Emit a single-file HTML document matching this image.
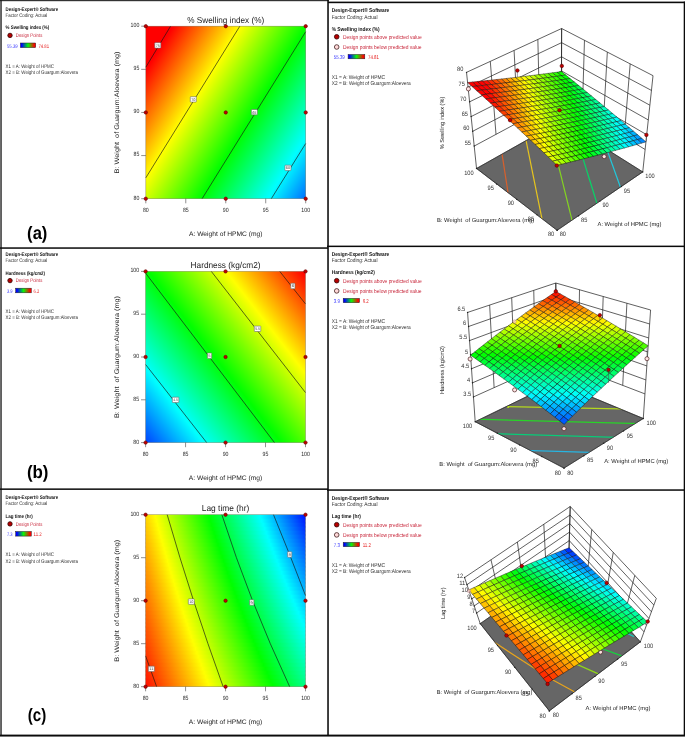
<!DOCTYPE html>
<html lang="en"><head><meta charset="utf-8"><title>Response surface plots</title>
<style>html,body{margin:0;padding:0;background:#fff}svg{display:block}</style></head>
<body>
<svg width="685" height="737" viewBox="0 0 685 737" font-family='"Liberation Sans", sans-serif' text-rendering="geometricPrecision"><defs><linearGradient id="cb1" x1="0" y1="0" x2="1" y2="0"><stop offset="0.08" stop-color="#0000ff"/><stop offset="0.5" stop-color="#08f808"/><stop offset="0.92" stop-color="#ff0000"/></linearGradient><linearGradient id="lg2" gradientUnits="userSpaceOnUse" x1="359.91" y1="158.4" x2="165.43" y2="38.32"><stop offset="0" stop-color="#0000ff"/><stop offset="0.25" stop-color="#00ffff"/><stop offset="0.5" stop-color="#00ff00"/><stop offset="0.75" stop-color="#ffff00"/><stop offset="1" stop-color="#ff0000"/></linearGradient><linearGradient id="cb3" x1="0" y1="0" x2="1" y2="0"><stop offset="0.08" stop-color="#0000ff"/><stop offset="0.5" stop-color="#08f808"/><stop offset="0.92" stop-color="#ff0000"/></linearGradient><linearGradient id="lg4" gradientUnits="userSpaceOnUse" x1="50" y1="345.56" x2="244.59" y2="194.62"><stop offset="0" stop-color="#0000ff"/><stop offset="0.25" stop-color="#00ffff"/><stop offset="0.5" stop-color="#00ff00"/><stop offset="0.75" stop-color="#ffff00"/><stop offset="1" stop-color="#ff0000"/></linearGradient><linearGradient id="cb5" x1="0" y1="0" x2="1" y2="0"><stop offset="0.08" stop-color="#0000ff"/><stop offset="0.5" stop-color="#08f808"/><stop offset="0.92" stop-color="#ff0000"/></linearGradient><linearGradient id="s6" x1="0" y1="0" x2="1" y2="0"><stop offset="0%" stop-color="#ffd200"/><stop offset="6.13%" stop-color="#ffff00"/><stop offset="39.65%" stop-color="#00ff00"/><stop offset="71.79%" stop-color="#00ffff"/><stop offset="100%" stop-color="#0017ff"/></linearGradient><linearGradient id="s7" x1="0" y1="0" x2="1" y2="0"><stop offset="0%" stop-color="#ffcd00"/><stop offset="6.79%" stop-color="#ffff00"/><stop offset="40.44%" stop-color="#00ff00"/><stop offset="72.69%" stop-color="#00ffff"/><stop offset="100%" stop-color="#001fff"/></linearGradient><linearGradient id="s8" x1="0" y1="0" x2="1" y2="0"><stop offset="0%" stop-color="#ffc800"/><stop offset="7.45%" stop-color="#ffff00"/><stop offset="41.23%" stop-color="#00ff00"/><stop offset="73.61%" stop-color="#00ffff"/><stop offset="100%" stop-color="#0027ff"/></linearGradient><linearGradient id="s9" x1="0" y1="0" x2="1" y2="0"><stop offset="0%" stop-color="#ffc400"/><stop offset="8.12%" stop-color="#ffff00"/><stop offset="42.03%" stop-color="#00ff00"/><stop offset="74.53%" stop-color="#00ffff"/><stop offset="100%" stop-color="#0030ff"/></linearGradient><linearGradient id="s10" x1="0" y1="0" x2="1" y2="0"><stop offset="0%" stop-color="#ffbf00"/><stop offset="8.79%" stop-color="#ffff00"/><stop offset="42.84%" stop-color="#00ff00"/><stop offset="75.46%" stop-color="#00ffff"/><stop offset="100%" stop-color="#0038ff"/></linearGradient><linearGradient id="s11" x1="0" y1="0" x2="1" y2="0"><stop offset="0%" stop-color="#ffba00"/><stop offset="9.47%" stop-color="#ffff00"/><stop offset="43.66%" stop-color="#00ff00"/><stop offset="76.39%" stop-color="#00ffff"/><stop offset="100%" stop-color="#0041ff"/></linearGradient><linearGradient id="s12" x1="0" y1="0" x2="1" y2="0"><stop offset="0%" stop-color="#ffb600"/><stop offset="10.16%" stop-color="#ffff00"/><stop offset="44.48%" stop-color="#00ff00"/><stop offset="77.33%" stop-color="#00ffff"/><stop offset="100%" stop-color="#0049ff"/></linearGradient><linearGradient id="s13" x1="0" y1="0" x2="1" y2="0"><stop offset="0%" stop-color="#ffb100"/><stop offset="10.85%" stop-color="#ffff00"/><stop offset="45.31%" stop-color="#00ff00"/><stop offset="78.28%" stop-color="#00ffff"/><stop offset="100%" stop-color="#0051ff"/></linearGradient><linearGradient id="s14" x1="0" y1="0" x2="1" y2="0"><stop offset="0%" stop-color="#ffad00"/><stop offset="11.55%" stop-color="#ffff00"/><stop offset="46.15%" stop-color="#00ff00"/><stop offset="79.24%" stop-color="#00ffff"/><stop offset="100%" stop-color="#005aff"/></linearGradient><linearGradient id="s15" x1="0" y1="0" x2="1" y2="0"><stop offset="0%" stop-color="#ffa800"/><stop offset="12.25%" stop-color="#ffff00"/><stop offset="46.99%" stop-color="#00ff00"/><stop offset="80.21%" stop-color="#00ffff"/><stop offset="100%" stop-color="#0062ff"/></linearGradient><linearGradient id="s16" x1="0" y1="0" x2="1" y2="0"><stop offset="0%" stop-color="#ffa300"/><stop offset="12.96%" stop-color="#ffff00"/><stop offset="47.84%" stop-color="#00ff00"/><stop offset="81.18%" stop-color="#00ffff"/><stop offset="100%" stop-color="#006aff"/></linearGradient><linearGradient id="s17" x1="0" y1="0" x2="1" y2="0"><stop offset="0%" stop-color="#ff9f00"/><stop offset="13.68%" stop-color="#ffff00"/><stop offset="48.7%" stop-color="#00ff00"/><stop offset="82.16%" stop-color="#00ffff"/><stop offset="100%" stop-color="#0073ff"/></linearGradient><linearGradient id="s18" x1="0" y1="0" x2="1" y2="0"><stop offset="0%" stop-color="#ff9a00"/><stop offset="14.4%" stop-color="#ffff00"/><stop offset="49.56%" stop-color="#00ff00"/><stop offset="83.15%" stop-color="#00ffff"/><stop offset="100%" stop-color="#007bff"/></linearGradient><linearGradient id="s19" x1="0" y1="0" x2="1" y2="0"><stop offset="0%" stop-color="#ff9600"/><stop offset="15.13%" stop-color="#ffff00"/><stop offset="50.43%" stop-color="#00ff00"/><stop offset="84.14%" stop-color="#00ffff"/><stop offset="100%" stop-color="#0083ff"/></linearGradient><linearGradient id="s20" x1="0" y1="0" x2="1" y2="0"><stop offset="0%" stop-color="#ff9100"/><stop offset="15.86%" stop-color="#ffff00"/><stop offset="51.31%" stop-color="#00ff00"/><stop offset="85.15%" stop-color="#00ffff"/><stop offset="100%" stop-color="#008bff"/></linearGradient><linearGradient id="s21" x1="0" y1="0" x2="1" y2="0"><stop offset="0%" stop-color="#ff8c00"/><stop offset="16.6%" stop-color="#ffff00"/><stop offset="52.2%" stop-color="#00ff00"/><stop offset="86.16%" stop-color="#00ffff"/><stop offset="100%" stop-color="#0094ff"/></linearGradient><linearGradient id="s22" x1="0" y1="0" x2="1" y2="0"><stop offset="0%" stop-color="#ff8800"/><stop offset="17.35%" stop-color="#ffff00"/><stop offset="53.09%" stop-color="#00ff00"/><stop offset="87.18%" stop-color="#00ffff"/><stop offset="100%" stop-color="#009cff"/></linearGradient><linearGradient id="s23" x1="0" y1="0" x2="1" y2="0"><stop offset="0%" stop-color="#ff8300"/><stop offset="18.11%" stop-color="#ffff00"/><stop offset="53.99%" stop-color="#00ff00"/><stop offset="88.2%" stop-color="#00ffff"/><stop offset="100%" stop-color="#00a4ff"/></linearGradient><linearGradient id="s24" x1="0" y1="0" x2="1" y2="0"><stop offset="0%" stop-color="#ff7f00"/><stop offset="18.87%" stop-color="#ffff00"/><stop offset="54.9%" stop-color="#00ff00"/><stop offset="89.24%" stop-color="#00ffff"/><stop offset="100%" stop-color="#00adff"/></linearGradient><linearGradient id="s25" x1="0" y1="0" x2="1" y2="0"><stop offset="0%" stop-color="#ff7a00"/><stop offset="19.64%" stop-color="#ffff00"/><stop offset="55.82%" stop-color="#00ff00"/><stop offset="90.28%" stop-color="#00ffff"/><stop offset="100%" stop-color="#00b5ff"/></linearGradient><linearGradient id="s26" x1="0" y1="0" x2="1" y2="0"><stop offset="0%" stop-color="#ff7500"/><stop offset="20.41%" stop-color="#ffff00"/><stop offset="56.74%" stop-color="#00ff00"/><stop offset="91.34%" stop-color="#00ffff"/><stop offset="100%" stop-color="#00bdff"/></linearGradient><linearGradient id="s27" x1="0" y1="0" x2="1" y2="0"><stop offset="0%" stop-color="#ff7100"/><stop offset="21.2%" stop-color="#ffff00"/><stop offset="57.67%" stop-color="#00ff00"/><stop offset="92.4%" stop-color="#00ffff"/><stop offset="100%" stop-color="#00c6ff"/></linearGradient><linearGradient id="s28" x1="0" y1="0" x2="1" y2="0"><stop offset="0%" stop-color="#ff6c00"/><stop offset="21.99%" stop-color="#ffff00"/><stop offset="58.61%" stop-color="#00ff00"/><stop offset="93.47%" stop-color="#00ffff"/><stop offset="100%" stop-color="#00ceff"/></linearGradient><linearGradient id="s29" x1="0" y1="0" x2="1" y2="0"><stop offset="0%" stop-color="#ff6800"/><stop offset="22.78%" stop-color="#ffff00"/><stop offset="59.56%" stop-color="#00ff00"/><stop offset="94.55%" stop-color="#00ffff"/><stop offset="100%" stop-color="#00d6ff"/></linearGradient><linearGradient id="s30" x1="0" y1="0" x2="1" y2="0"><stop offset="0%" stop-color="#ff6300"/><stop offset="23.59%" stop-color="#ffff00"/><stop offset="60.52%" stop-color="#00ff00"/><stop offset="95.63%" stop-color="#00ffff"/><stop offset="100%" stop-color="#00deff"/></linearGradient><linearGradient id="s31" x1="0" y1="0" x2="1" y2="0"><stop offset="0%" stop-color="#ff5f00"/><stop offset="24.4%" stop-color="#ffff00"/><stop offset="61.48%" stop-color="#00ff00"/><stop offset="96.73%" stop-color="#00ffff"/><stop offset="100%" stop-color="#00e7ff"/></linearGradient><linearGradient id="s32" x1="0" y1="0" x2="1" y2="0"><stop offset="0%" stop-color="#ff5a00"/><stop offset="25.22%" stop-color="#ffff00"/><stop offset="62.46%" stop-color="#00ff00"/><stop offset="97.84%" stop-color="#00ffff"/><stop offset="100%" stop-color="#00efff"/></linearGradient><linearGradient id="s33" x1="0" y1="0" x2="1" y2="0"><stop offset="0%" stop-color="#ff5600"/><stop offset="26.05%" stop-color="#ffff00"/><stop offset="63.44%" stop-color="#00ff00"/><stop offset="98.95%" stop-color="#00ffff"/><stop offset="100%" stop-color="#00f7ff"/></linearGradient><linearGradient id="s34" x1="0" y1="0" x2="1" y2="0"><stop offset="0%" stop-color="#ff5100"/><stop offset="26.88%" stop-color="#ffff00"/><stop offset="64.43%" stop-color="#00ff00"/><stop offset="100%" stop-color="#00fffe"/></linearGradient><linearGradient id="s35" x1="0" y1="0" x2="1" y2="0"><stop offset="0%" stop-color="#ff4c00"/><stop offset="27.73%" stop-color="#ffff00"/><stop offset="65.43%" stop-color="#00ff00"/><stop offset="100%" stop-color="#00fff6"/></linearGradient><linearGradient id="s36" x1="0" y1="0" x2="1" y2="0"><stop offset="0%" stop-color="#ff4800"/><stop offset="28.58%" stop-color="#ffff00"/><stop offset="66.44%" stop-color="#00ff00"/><stop offset="100%" stop-color="#00ffee"/></linearGradient><linearGradient id="s37" x1="0" y1="0" x2="1" y2="0"><stop offset="0%" stop-color="#ff4300"/><stop offset="29.44%" stop-color="#ffff00"/><stop offset="67.45%" stop-color="#00ff00"/><stop offset="100%" stop-color="#00ffe6"/></linearGradient><linearGradient id="s38" x1="0" y1="0" x2="1" y2="0"><stop offset="0%" stop-color="#ff3f00"/><stop offset="30.31%" stop-color="#ffff00"/><stop offset="68.48%" stop-color="#00ff00"/><stop offset="100%" stop-color="#00ffdd"/></linearGradient><linearGradient id="s39" x1="0" y1="0" x2="1" y2="0"><stop offset="0%" stop-color="#ff3a00"/><stop offset="31.18%" stop-color="#ffff00"/><stop offset="69.51%" stop-color="#00ff00"/><stop offset="100%" stop-color="#00ffd5"/></linearGradient><linearGradient id="s40" x1="0" y1="0" x2="1" y2="0"><stop offset="0%" stop-color="#ff3600"/><stop offset="32.07%" stop-color="#ffff00"/><stop offset="70.56%" stop-color="#00ff00"/><stop offset="100%" stop-color="#00ffcd"/></linearGradient><linearGradient id="s41" x1="0" y1="0" x2="1" y2="0"><stop offset="0%" stop-color="#ff3100"/><stop offset="32.96%" stop-color="#ffff00"/><stop offset="71.61%" stop-color="#00ff00"/><stop offset="100%" stop-color="#00ffc5"/></linearGradient><linearGradient id="s42" x1="0" y1="0" x2="1" y2="0"><stop offset="0%" stop-color="#ff2d00"/><stop offset="33.86%" stop-color="#ffff00"/><stop offset="72.68%" stop-color="#00ff00"/><stop offset="100%" stop-color="#00ffbc"/></linearGradient><linearGradient id="s43" x1="0" y1="0" x2="1" y2="0"><stop offset="0%" stop-color="#ff2800"/><stop offset="34.77%" stop-color="#ffff00"/><stop offset="73.75%" stop-color="#00ff00"/><stop offset="100%" stop-color="#00ffb4"/></linearGradient><linearGradient id="s44" x1="0" y1="0" x2="1" y2="0"><stop offset="0%" stop-color="#ff2400"/><stop offset="35.69%" stop-color="#ffff00"/><stop offset="74.83%" stop-color="#00ff00"/><stop offset="100%" stop-color="#00ffac"/></linearGradient><linearGradient id="s45" x1="0" y1="0" x2="1" y2="0"><stop offset="0%" stop-color="#ff1f00"/><stop offset="36.62%" stop-color="#ffff00"/><stop offset="75.92%" stop-color="#00ff00"/><stop offset="100%" stop-color="#00ffa4"/></linearGradient><linearGradient id="s46" x1="0" y1="0" x2="1" y2="0"><stop offset="0%" stop-color="#ff1b00"/><stop offset="37.56%" stop-color="#ffff00"/><stop offset="77.03%" stop-color="#00ff00"/><stop offset="100%" stop-color="#00ff9c"/></linearGradient><linearGradient id="s47" x1="0" y1="0" x2="1" y2="0"><stop offset="0%" stop-color="#ff1600"/><stop offset="38.5%" stop-color="#ffff00"/><stop offset="78.14%" stop-color="#00ff00"/><stop offset="100%" stop-color="#00ff93"/></linearGradient><linearGradient id="s48" x1="0" y1="0" x2="1" y2="0"><stop offset="0%" stop-color="#ff1200"/><stop offset="39.46%" stop-color="#ffff00"/><stop offset="79.26%" stop-color="#00ff00"/><stop offset="100%" stop-color="#00ff8b"/></linearGradient><linearGradient id="cb49" x1="0" y1="0" x2="1" y2="0"><stop offset="0.08" stop-color="#0000ff"/><stop offset="0.5" stop-color="#08f808"/><stop offset="0.92" stop-color="#ff0000"/></linearGradient><linearGradient id="cb50" x1="0" y1="0" x2="1" y2="0"><stop offset="0.08" stop-color="#0000ff"/><stop offset="0.5" stop-color="#08f808"/><stop offset="0.92" stop-color="#ff0000"/></linearGradient><linearGradient id="cb51" x1="0" y1="0" x2="1" y2="0"><stop offset="0.08" stop-color="#0000ff"/><stop offset="0.5" stop-color="#08f808"/><stop offset="0.92" stop-color="#ff0000"/></linearGradient><clipPath id="fc52"><polygon points="476.54,168.48 557.14,230.3 642.74,171.91 561.34,120.71"/></clipPath><clipPath id="fc53"><polygon points="475.19,421.69 564.01,468.1 643.29,418.51 556.15,382.33"/></clipPath><clipPath id="fc54"><polygon points="480.22,623.63 549.33,710.89 640.35,641.88 568.69,561.94"/></clipPath></defs>
<text x="5.6" y="10.8" font-size="5.2" fill="#111" font-weight="bold" textLength="52.5" lengthAdjust="spacingAndGlyphs">Design-Expert® Software</text>
<text x="5.6" y="16.9" font-size="5.2" fill="#333" textLength="41.7" lengthAdjust="spacingAndGlyphs">Factor Coding: Actual</text>
<text x="5.6" y="29.3" font-size="5.2" fill="#111" font-weight="bold" textLength="43.6" lengthAdjust="spacingAndGlyphs">% Swelling index (%)</text>
<circle cx="10" cy="35.4" r="2.2" fill="#b80000" stroke="#300000" stroke-width="0.8"/>
<text x="15.8" y="37.2" font-size="5.2" fill="#c8283c" textLength="26.5" lengthAdjust="spacingAndGlyphs">Design Points</text>
<text x="7" y="47.5" font-size="5.2" fill="#3535ff" textLength="10.6" lengthAdjust="spacingAndGlyphs">55.39</text>
<rect x="20.4" y="43" width="15.3" height="4.6" fill="url(#cb1)" stroke="#202020" stroke-width="0.5"/>
<text x="38.4" y="47.5" font-size="5.2" fill="#e62020" textLength="10.6" lengthAdjust="spacingAndGlyphs">74.81</text>
<text x="5.6" y="67.9" font-size="5.2" fill="#333" textLength="48.4" lengthAdjust="spacingAndGlyphs">X1 = A: Weight of HPMC</text>
<text x="5.6" y="74.2" font-size="5.2" fill="#333" textLength="72.4" lengthAdjust="spacingAndGlyphs">X2 = B: Weight of Guargum:Aloevera</text>
<rect x="145.8" y="26.2" width="159.9" height="172.5" fill="url(#lg2)"/>
<g fill="none" stroke="#151515" stroke-width="0.65" stroke-linecap="butt">
<path d="M145.8 67.25L170.58 26.2"/>
<path d="M145.8 177.83L239.82 26.2"/>
<path d="M202.08 198.7L305.7 31.72"/>
<path d="M271.32 198.7L305.7 143.5"/>
</g>
<rect x="145.8" y="26.2" width="159.9" height="172.5" fill="none" stroke="#5a5030" stroke-opacity="0.55" stroke-width="0.6"/>
<line x1="141.2" y1="26.2" x2="145.8" y2="26.2" stroke="#333" stroke-width="0.55"/>
<text x="139.3" y="27.1" font-size="6.1" fill="#262626" text-anchor="end" textLength="8.7" lengthAdjust="spacingAndGlyphs">100</text>
<line x1="145.8" y1="198.7" x2="145.8" y2="203.3" stroke="#333" stroke-width="0.55"/>
<text x="145.8" y="212.3" font-size="6.1" fill="#262626" text-anchor="middle" textLength="5.8" lengthAdjust="spacingAndGlyphs">80</text>
<line x1="141.2" y1="69.33" x2="145.8" y2="69.33" stroke="#333" stroke-width="0.55"/>
<text x="139.3" y="70.23" font-size="6.1" fill="#262626" text-anchor="end" textLength="5.8" lengthAdjust="spacingAndGlyphs">95</text>
<line x1="185.78" y1="198.7" x2="185.78" y2="203.3" stroke="#333" stroke-width="0.55"/>
<text x="185.78" y="212.3" font-size="6.1" fill="#262626" text-anchor="middle" textLength="5.8" lengthAdjust="spacingAndGlyphs">85</text>
<line x1="141.2" y1="112.45" x2="145.8" y2="112.45" stroke="#333" stroke-width="0.55"/>
<text x="139.3" y="113.35" font-size="6.1" fill="#262626" text-anchor="end" textLength="5.8" lengthAdjust="spacingAndGlyphs">90</text>
<line x1="225.75" y1="198.7" x2="225.75" y2="203.3" stroke="#333" stroke-width="0.55"/>
<text x="225.75" y="212.3" font-size="6.1" fill="#262626" text-anchor="middle" textLength="5.8" lengthAdjust="spacingAndGlyphs">90</text>
<line x1="141.2" y1="155.57" x2="145.8" y2="155.57" stroke="#333" stroke-width="0.55"/>
<text x="139.3" y="156.47" font-size="6.1" fill="#262626" text-anchor="end" textLength="5.8" lengthAdjust="spacingAndGlyphs">85</text>
<line x1="265.73" y1="198.7" x2="265.73" y2="203.3" stroke="#333" stroke-width="0.55"/>
<text x="265.73" y="212.3" font-size="6.1" fill="#262626" text-anchor="middle" textLength="5.8" lengthAdjust="spacingAndGlyphs">95</text>
<line x1="141.2" y1="198.7" x2="145.8" y2="198.7" stroke="#333" stroke-width="0.55"/>
<text x="139.3" y="199.6" font-size="6.1" fill="#262626" text-anchor="end" textLength="5.8" lengthAdjust="spacingAndGlyphs">80</text>
<line x1="305.7" y1="198.7" x2="305.7" y2="203.3" stroke="#333" stroke-width="0.55"/>
<text x="305.7" y="212.3" font-size="6.1" fill="#262626" text-anchor="middle" textLength="8.7" lengthAdjust="spacingAndGlyphs">100</text>
<rect x="154.79" y="42.7" width="6" height="5.4" rx="0.5" fill="#fff" stroke="#6a6a6a" stroke-width="0.6"/>
<text x="157.79" y="46.75" font-size="3.8" fill="#444" text-anchor="middle" textLength="4.2" lengthAdjust="spacingAndGlyphs">75</text>
<rect x="190.29" y="96.7" width="6" height="5.4" rx="0.5" fill="#fff" stroke="#6a6a6a" stroke-width="0.6"/>
<text x="193.29" y="100.75" font-size="3.8" fill="#444" text-anchor="middle" textLength="4.2" lengthAdjust="spacingAndGlyphs">70</text>
<rect x="251.37" y="109.46" width="6" height="5.4" rx="0.5" fill="#fff" stroke="#6a6a6a" stroke-width="0.6"/>
<text x="254.37" y="113.51" font-size="3.8" fill="#444" text-anchor="middle" textLength="4.2" lengthAdjust="spacingAndGlyphs">65</text>
<rect x="284.95" y="165.18" width="6" height="5.4" rx="0.5" fill="#fff" stroke="#6a6a6a" stroke-width="0.6"/>
<text x="287.95" y="169.23" font-size="3.8" fill="#444" text-anchor="middle" textLength="4.2" lengthAdjust="spacingAndGlyphs">60</text>
<circle cx="145.8" cy="26.2" r="1.7" fill="#c00000" stroke="#6a0000" stroke-width="0.6"/>
<circle cx="145.8" cy="112.45" r="1.7" fill="#c00000" stroke="#6a0000" stroke-width="0.6"/>
<circle cx="145.8" cy="198.7" r="1.7" fill="#c00000" stroke="#6a0000" stroke-width="0.6"/>
<circle cx="225.75" cy="26.2" r="1.7" fill="#c00000" stroke="#6a0000" stroke-width="0.6"/>
<circle cx="225.75" cy="112.45" r="1.7" fill="#c00000" stroke="#6a0000" stroke-width="0.6"/>
<circle cx="225.75" cy="198.7" r="1.7" fill="#c00000" stroke="#6a0000" stroke-width="0.6"/>
<circle cx="305.7" cy="26.2" r="1.7" fill="#c00000" stroke="#6a0000" stroke-width="0.6"/>
<circle cx="305.7" cy="112.45" r="1.7" fill="#c00000" stroke="#6a0000" stroke-width="0.6"/>
<circle cx="305.7" cy="198.7" r="1.7" fill="#c00000" stroke="#6a0000" stroke-width="0.6"/>
<text x="225.75" y="22.7" font-size="8.6" fill="#222" text-anchor="middle" textLength="77" lengthAdjust="spacingAndGlyphs">% Swelling index (%)</text>
<text x="225.75" y="235.7" font-size="6.6" fill="#222" text-anchor="middle" textLength="73.5" lengthAdjust="spacingAndGlyphs">A: Weight of HPMC (mg)</text>
<text x="118.6" y="112.45" font-size="6.6" fill="#222" style="white-space:pre" text-anchor="middle" textLength="122" lengthAdjust="spacingAndGlyphs" transform="rotate(-90 118.6 112.45)">B: Weight  of Guargum:Aloevera (mg)</text>
<text x="27.1" y="239.1" font-size="18" fill="#000" font-weight="bold" textLength="20.3" lengthAdjust="spacingAndGlyphs">(a)</text>
<text x="5.6" y="256" font-size="5.2" fill="#111" font-weight="bold" textLength="52.5" lengthAdjust="spacingAndGlyphs">Design-Expert® Software</text>
<text x="5.6" y="262.1" font-size="5.2" fill="#333" textLength="41.7" lengthAdjust="spacingAndGlyphs">Factor Coding: Actual</text>
<text x="5.6" y="274.5" font-size="5.2" fill="#111" font-weight="bold" textLength="39.4" lengthAdjust="spacingAndGlyphs">Hardness (kg/cm2)</text>
<circle cx="10" cy="280.6" r="2.2" fill="#b80000" stroke="#300000" stroke-width="0.8"/>
<text x="15.8" y="282.4" font-size="5.2" fill="#c8283c" textLength="26.5" lengthAdjust="spacingAndGlyphs">Design Points</text>
<text x="7" y="292.7" font-size="5.2" fill="#3535ff" textLength="5.6" lengthAdjust="spacingAndGlyphs">3.9</text>
<rect x="15.7" y="288.2" width="15.6" height="4.6" fill="url(#cb3)" stroke="#202020" stroke-width="0.5"/>
<text x="33.6" y="292.7" font-size="5.2" fill="#e62020" textLength="5.6" lengthAdjust="spacingAndGlyphs">6.2</text>
<text x="5.6" y="313.1" font-size="5.2" fill="#333" textLength="48.4" lengthAdjust="spacingAndGlyphs">X1 = A: Weight of HPMC</text>
<text x="5.6" y="319.4" font-size="5.2" fill="#333" textLength="72.4" lengthAdjust="spacingAndGlyphs">X2 = B: Weight of Guargum:Aloevera</text>
<rect x="145.6" y="271.4" width="159.9" height="171.2" fill="url(#lg4)"/>
<g fill="none" stroke="#151515" stroke-width="0.65" stroke-linecap="butt">
<path d="M279.76 271.4L305.5 303.93"/>
<path d="M211.32 271.4L305.5 392.61"/>
<path d="M145.6 273.11L274.48 442.6"/>
<path d="M145.6 364.53L206.68 442.6"/>
</g>
<rect x="145.6" y="271.4" width="159.9" height="171.2" fill="none" stroke="#5a5030" stroke-opacity="0.55" stroke-width="0.6"/>
<line x1="141" y1="271.4" x2="145.6" y2="271.4" stroke="#333" stroke-width="0.55"/>
<text x="139.1" y="272.3" font-size="6.1" fill="#262626" text-anchor="end" textLength="8.7" lengthAdjust="spacingAndGlyphs">100</text>
<line x1="145.6" y1="442.6" x2="145.6" y2="447.2" stroke="#333" stroke-width="0.55"/>
<text x="145.6" y="456.2" font-size="6.1" fill="#262626" text-anchor="middle" textLength="5.8" lengthAdjust="spacingAndGlyphs">80</text>
<line x1="141" y1="314.2" x2="145.6" y2="314.2" stroke="#333" stroke-width="0.55"/>
<text x="139.1" y="315.1" font-size="6.1" fill="#262626" text-anchor="end" textLength="5.8" lengthAdjust="spacingAndGlyphs">95</text>
<line x1="185.57" y1="442.6" x2="185.57" y2="447.2" stroke="#333" stroke-width="0.55"/>
<text x="185.57" y="456.2" font-size="6.1" fill="#262626" text-anchor="middle" textLength="5.8" lengthAdjust="spacingAndGlyphs">85</text>
<line x1="141" y1="357" x2="145.6" y2="357" stroke="#333" stroke-width="0.55"/>
<text x="139.1" y="357.9" font-size="6.1" fill="#262626" text-anchor="end" textLength="5.8" lengthAdjust="spacingAndGlyphs">90</text>
<line x1="225.55" y1="442.6" x2="225.55" y2="447.2" stroke="#333" stroke-width="0.55"/>
<text x="225.55" y="456.2" font-size="6.1" fill="#262626" text-anchor="middle" textLength="5.8" lengthAdjust="spacingAndGlyphs">90</text>
<line x1="141" y1="399.8" x2="145.6" y2="399.8" stroke="#333" stroke-width="0.55"/>
<text x="139.1" y="400.7" font-size="6.1" fill="#262626" text-anchor="end" textLength="5.8" lengthAdjust="spacingAndGlyphs">85</text>
<line x1="265.52" y1="442.6" x2="265.52" y2="447.2" stroke="#333" stroke-width="0.55"/>
<text x="265.52" y="456.2" font-size="6.1" fill="#262626" text-anchor="middle" textLength="5.8" lengthAdjust="spacingAndGlyphs">95</text>
<line x1="141" y1="442.6" x2="145.6" y2="442.6" stroke="#333" stroke-width="0.55"/>
<text x="139.1" y="443.5" font-size="6.1" fill="#262626" text-anchor="end" textLength="5.8" lengthAdjust="spacingAndGlyphs">80</text>
<line x1="305.5" y1="442.6" x2="305.5" y2="447.2" stroke="#333" stroke-width="0.55"/>
<text x="305.5" y="456.2" font-size="6.1" fill="#262626" text-anchor="middle" textLength="8.7" lengthAdjust="spacingAndGlyphs">100</text>
<rect x="290.77" y="283.31" width="4.2" height="5.4" rx="0.5" fill="#fff" stroke="#6a6a6a" stroke-width="0.6"/>
<text x="292.87" y="287.36" font-size="3.8" fill="#444" text-anchor="middle" textLength="2.4" lengthAdjust="spacingAndGlyphs">6</text>
<rect x="254.28" y="326.11" width="6.5" height="5.4" rx="0.5" fill="#fff" stroke="#6a6a6a" stroke-width="0.6"/>
<text x="257.53" y="330.16" font-size="3.8" fill="#444" text-anchor="middle" textLength="4.7" lengthAdjust="spacingAndGlyphs">5.5</text>
<rect x="207.46" y="352.99" width="4.2" height="5.4" rx="0.5" fill="#fff" stroke="#6a6a6a" stroke-width="0.6"/>
<text x="209.56" y="357.04" font-size="3.8" fill="#444" text-anchor="middle" textLength="2.4" lengthAdjust="spacingAndGlyphs">5</text>
<rect x="172.33" y="397.16" width="6.5" height="5.4" rx="0.5" fill="#fff" stroke="#6a6a6a" stroke-width="0.6"/>
<text x="175.58" y="401.21" font-size="3.8" fill="#444" text-anchor="middle" textLength="4.7" lengthAdjust="spacingAndGlyphs">4.5</text>
<circle cx="145.6" cy="271.4" r="1.7" fill="#c00000" stroke="#6a0000" stroke-width="0.6"/>
<circle cx="145.6" cy="357" r="1.7" fill="#c00000" stroke="#6a0000" stroke-width="0.6"/>
<circle cx="145.6" cy="442.6" r="1.7" fill="#c00000" stroke="#6a0000" stroke-width="0.6"/>
<circle cx="225.55" cy="271.4" r="1.7" fill="#c00000" stroke="#6a0000" stroke-width="0.6"/>
<circle cx="225.55" cy="357" r="1.7" fill="#c00000" stroke="#6a0000" stroke-width="0.6"/>
<circle cx="225.55" cy="442.6" r="1.7" fill="#c00000" stroke="#6a0000" stroke-width="0.6"/>
<circle cx="305.5" cy="271.4" r="1.7" fill="#c00000" stroke="#6a0000" stroke-width="0.6"/>
<circle cx="305.5" cy="357" r="1.7" fill="#c00000" stroke="#6a0000" stroke-width="0.6"/>
<circle cx="305.5" cy="442.6" r="1.7" fill="#c00000" stroke="#6a0000" stroke-width="0.6"/>
<text x="225.55" y="267.9" font-size="8.6" fill="#222" text-anchor="middle" textLength="70" lengthAdjust="spacingAndGlyphs">Hardness (kg/cm2)</text>
<text x="225.55" y="479.6" font-size="6.6" fill="#222" text-anchor="middle" textLength="73.5" lengthAdjust="spacingAndGlyphs">A: Weight of HPMC (mg)</text>
<text x="118.6" y="357" font-size="6.6" fill="#222" style="white-space:pre" text-anchor="middle" textLength="122" lengthAdjust="spacingAndGlyphs" transform="rotate(-90 118.6 357)">B: Weight  of Guargum:Aloevera (mg)</text>
<text x="26.9" y="478.2" font-size="18" fill="#000" font-weight="bold" textLength="21.6" lengthAdjust="spacingAndGlyphs">(b)</text>
<text x="5.6" y="499.3" font-size="5.2" fill="#111" font-weight="bold" textLength="52.5" lengthAdjust="spacingAndGlyphs">Design-Expert® Software</text>
<text x="5.6" y="505.4" font-size="5.2" fill="#333" textLength="41.7" lengthAdjust="spacingAndGlyphs">Factor Coding: Actual</text>
<text x="5.6" y="517.8" font-size="5.2" fill="#111" font-weight="bold" textLength="27.2" lengthAdjust="spacingAndGlyphs">Lag time (hr)</text>
<circle cx="10" cy="523.9" r="2.2" fill="#b80000" stroke="#300000" stroke-width="0.8"/>
<text x="15.8" y="525.7" font-size="5.2" fill="#c8283c" textLength="26.5" lengthAdjust="spacingAndGlyphs">Design Points</text>
<text x="7" y="536" font-size="5.2" fill="#3535ff" textLength="5.6" lengthAdjust="spacingAndGlyphs">7.3</text>
<rect x="15.7" y="531.5" width="15.6" height="4.6" fill="url(#cb5)" stroke="#202020" stroke-width="0.5"/>
<text x="33.6" y="536" font-size="5.2" fill="#e62020" textLength="8.1" lengthAdjust="spacingAndGlyphs">11.2</text>
<text x="5.6" y="556.4" font-size="5.2" fill="#333" textLength="48.4" lengthAdjust="spacingAndGlyphs">X1 = A: Weight of HPMC</text>
<text x="5.6" y="562.7" font-size="5.2" fill="#333" textLength="72.4" lengthAdjust="spacingAndGlyphs">X2 = B: Weight of Guargum:Aloevera</text>
<rect x="145.6" y="514.7" width="159.9" height="4.6" fill="url(#s6)"/>
<rect x="145.6" y="518.7" width="159.9" height="4.6" fill="url(#s7)"/>
<rect x="145.6" y="522.7" width="159.9" height="4.6" fill="url(#s8)"/>
<rect x="145.6" y="526.7" width="159.9" height="4.6" fill="url(#s9)"/>
<rect x="145.6" y="530.7" width="159.9" height="4.6" fill="url(#s10)"/>
<rect x="145.6" y="534.7" width="159.9" height="4.6" fill="url(#s11)"/>
<rect x="145.6" y="538.7" width="159.9" height="4.6" fill="url(#s12)"/>
<rect x="145.6" y="542.7" width="159.9" height="4.6" fill="url(#s13)"/>
<rect x="145.6" y="546.7" width="159.9" height="4.6" fill="url(#s14)"/>
<rect x="145.6" y="550.7" width="159.9" height="4.6" fill="url(#s15)"/>
<rect x="145.6" y="554.7" width="159.9" height="4.6" fill="url(#s16)"/>
<rect x="145.6" y="558.7" width="159.9" height="4.6" fill="url(#s17)"/>
<rect x="145.6" y="562.7" width="159.9" height="4.6" fill="url(#s18)"/>
<rect x="145.6" y="566.7" width="159.9" height="4.6" fill="url(#s19)"/>
<rect x="145.6" y="570.7" width="159.9" height="4.6" fill="url(#s20)"/>
<rect x="145.6" y="574.7" width="159.9" height="4.6" fill="url(#s21)"/>
<rect x="145.6" y="578.7" width="159.9" height="4.6" fill="url(#s22)"/>
<rect x="145.6" y="582.7" width="159.9" height="4.6" fill="url(#s23)"/>
<rect x="145.6" y="586.7" width="159.9" height="4.6" fill="url(#s24)"/>
<rect x="145.6" y="590.7" width="159.9" height="4.6" fill="url(#s25)"/>
<rect x="145.6" y="594.7" width="159.9" height="4.6" fill="url(#s26)"/>
<rect x="145.6" y="598.7" width="159.9" height="4.6" fill="url(#s27)"/>
<rect x="145.6" y="602.7" width="159.9" height="4.6" fill="url(#s28)"/>
<rect x="145.6" y="606.7" width="159.9" height="4.6" fill="url(#s29)"/>
<rect x="145.6" y="610.7" width="159.9" height="4.6" fill="url(#s30)"/>
<rect x="145.6" y="614.7" width="159.9" height="4.6" fill="url(#s31)"/>
<rect x="145.6" y="618.7" width="159.9" height="4.6" fill="url(#s32)"/>
<rect x="145.6" y="622.7" width="159.9" height="4.6" fill="url(#s33)"/>
<rect x="145.6" y="626.7" width="159.9" height="4.6" fill="url(#s34)"/>
<rect x="145.6" y="630.7" width="159.9" height="4.6" fill="url(#s35)"/>
<rect x="145.6" y="634.7" width="159.9" height="4.6" fill="url(#s36)"/>
<rect x="145.6" y="638.7" width="159.9" height="4.6" fill="url(#s37)"/>
<rect x="145.6" y="642.7" width="159.9" height="4.6" fill="url(#s38)"/>
<rect x="145.6" y="646.7" width="159.9" height="4.6" fill="url(#s39)"/>
<rect x="145.6" y="650.7" width="159.9" height="4.6" fill="url(#s40)"/>
<rect x="145.6" y="654.7" width="159.9" height="4.6" fill="url(#s41)"/>
<rect x="145.6" y="658.7" width="159.9" height="4.6" fill="url(#s42)"/>
<rect x="145.6" y="662.7" width="159.9" height="4.6" fill="url(#s43)"/>
<rect x="145.6" y="666.7" width="159.9" height="4.6" fill="url(#s44)"/>
<rect x="145.6" y="670.7" width="159.9" height="4.6" fill="url(#s45)"/>
<rect x="145.6" y="674.7" width="159.9" height="4.6" fill="url(#s46)"/>
<rect x="145.6" y="678.7" width="159.9" height="4.6" fill="url(#s47)"/>
<rect x="145.6" y="682.7" width="159.9" height="4" fill="url(#s48)"/>
<g fill="none" stroke="#151515" stroke-width="0.65" stroke-linecap="butt">
<path d="M167.19 514.7Q191.97 600.7 223.15 686.7"/>
<path d="M221.87 514.7Q249.38 600.7 289.67 686.7"/>
<path d="M273.52 514.7Q289.51 553.4 305.5 595.54"/>
<path d="M145.6 655.91L156.63 686.7"/>
</g>
<rect x="145.6" y="514.7" width="159.9" height="172" fill="none" stroke="#5a5030" stroke-opacity="0.55" stroke-width="0.6"/>
<line x1="141" y1="514.7" x2="145.6" y2="514.7" stroke="#333" stroke-width="0.55"/>
<text x="139.1" y="515.6" font-size="6.1" fill="#262626" text-anchor="end" textLength="8.7" lengthAdjust="spacingAndGlyphs">100</text>
<line x1="145.6" y1="686.7" x2="145.6" y2="691.3" stroke="#333" stroke-width="0.55"/>
<text x="145.6" y="700.3" font-size="6.1" fill="#262626" text-anchor="middle" textLength="5.8" lengthAdjust="spacingAndGlyphs">80</text>
<line x1="141" y1="557.7" x2="145.6" y2="557.7" stroke="#333" stroke-width="0.55"/>
<text x="139.1" y="558.6" font-size="6.1" fill="#262626" text-anchor="end" textLength="5.8" lengthAdjust="spacingAndGlyphs">95</text>
<line x1="185.57" y1="686.7" x2="185.57" y2="691.3" stroke="#333" stroke-width="0.55"/>
<text x="185.57" y="700.3" font-size="6.1" fill="#262626" text-anchor="middle" textLength="5.8" lengthAdjust="spacingAndGlyphs">85</text>
<line x1="141" y1="600.7" x2="145.6" y2="600.7" stroke="#333" stroke-width="0.55"/>
<text x="139.1" y="601.6" font-size="6.1" fill="#262626" text-anchor="end" textLength="5.8" lengthAdjust="spacingAndGlyphs">90</text>
<line x1="225.55" y1="686.7" x2="225.55" y2="691.3" stroke="#333" stroke-width="0.55"/>
<text x="225.55" y="700.3" font-size="6.1" fill="#262626" text-anchor="middle" textLength="5.8" lengthAdjust="spacingAndGlyphs">90</text>
<line x1="141" y1="643.7" x2="145.6" y2="643.7" stroke="#333" stroke-width="0.55"/>
<text x="139.1" y="644.6" font-size="6.1" fill="#262626" text-anchor="end" textLength="5.8" lengthAdjust="spacingAndGlyphs">85</text>
<line x1="265.52" y1="686.7" x2="265.52" y2="691.3" stroke="#333" stroke-width="0.55"/>
<text x="265.52" y="700.3" font-size="6.1" fill="#262626" text-anchor="middle" textLength="5.8" lengthAdjust="spacingAndGlyphs">95</text>
<line x1="141" y1="686.7" x2="145.6" y2="686.7" stroke="#333" stroke-width="0.55"/>
<text x="139.1" y="687.6" font-size="6.1" fill="#262626" text-anchor="end" textLength="5.8" lengthAdjust="spacingAndGlyphs">80</text>
<line x1="305.5" y1="686.7" x2="305.5" y2="691.3" stroke="#333" stroke-width="0.55"/>
<text x="305.5" y="700.3" font-size="6.1" fill="#262626" text-anchor="middle" textLength="8.7" lengthAdjust="spacingAndGlyphs">100</text>
<rect x="188.33" y="598.92" width="6" height="5.4" rx="0.5" fill="#fff" stroke="#6a6a6a" stroke-width="0.6"/>
<text x="191.33" y="602.97" font-size="3.8" fill="#444" text-anchor="middle" textLength="4.2" lengthAdjust="spacingAndGlyphs">10</text>
<rect x="249.67" y="599.78" width="4.2" height="5.4" rx="0.5" fill="#fff" stroke="#6a6a6a" stroke-width="0.6"/>
<text x="251.77" y="603.83" font-size="3.8" fill="#444" text-anchor="middle" textLength="2.4" lengthAdjust="spacingAndGlyphs">9</text>
<rect x="287.57" y="551.79" width="4.2" height="5.4" rx="0.5" fill="#fff" stroke="#6a6a6a" stroke-width="0.6"/>
<text x="289.67" y="555.84" font-size="3.8" fill="#444" text-anchor="middle" textLength="2.4" lengthAdjust="spacingAndGlyphs">8</text>
<rect x="148.36" y="666.17" width="6" height="5.4" rx="0.5" fill="#fff" stroke="#6a6a6a" stroke-width="0.6"/>
<text x="151.36" y="670.22" font-size="3.8" fill="#444" text-anchor="middle" textLength="4.2" lengthAdjust="spacingAndGlyphs">11</text>
<circle cx="145.6" cy="514.7" r="1.7" fill="#c00000" stroke="#6a0000" stroke-width="0.6"/>
<circle cx="145.6" cy="600.7" r="1.7" fill="#c00000" stroke="#6a0000" stroke-width="0.6"/>
<circle cx="145.6" cy="686.7" r="1.7" fill="#c00000" stroke="#6a0000" stroke-width="0.6"/>
<circle cx="225.55" cy="514.7" r="1.7" fill="#c00000" stroke="#6a0000" stroke-width="0.6"/>
<circle cx="225.55" cy="600.7" r="1.7" fill="#c00000" stroke="#6a0000" stroke-width="0.6"/>
<circle cx="225.55" cy="686.7" r="1.7" fill="#c00000" stroke="#6a0000" stroke-width="0.6"/>
<circle cx="305.5" cy="514.7" r="1.7" fill="#c00000" stroke="#6a0000" stroke-width="0.6"/>
<circle cx="305.5" cy="600.7" r="1.7" fill="#c00000" stroke="#6a0000" stroke-width="0.6"/>
<circle cx="305.5" cy="686.7" r="1.7" fill="#c00000" stroke="#6a0000" stroke-width="0.6"/>
<text x="225.55" y="511.2" font-size="8.6" fill="#222" text-anchor="middle" textLength="47.5" lengthAdjust="spacingAndGlyphs">Lag time (hr)</text>
<text x="225.55" y="723.7" font-size="6.6" fill="#222" text-anchor="middle" textLength="73.5" lengthAdjust="spacingAndGlyphs">A: Weight of HPMC (mg)</text>
<text x="118.6" y="600.7" font-size="6.6" fill="#222" style="white-space:pre" text-anchor="middle" textLength="122" lengthAdjust="spacingAndGlyphs" transform="rotate(-90 118.6 600.7)">B: Weight  of Guargum:Aloevera (mg)</text>
<text x="27.8" y="720.6" font-size="18" fill="#000" font-weight="bold" textLength="18.5" lengthAdjust="spacingAndGlyphs">(c)</text>
<text x="331.7" y="12.4" font-size="5.6" fill="#111" font-weight="bold" textLength="57.6" lengthAdjust="spacingAndGlyphs">Design-Expert® Software</text>
<text x="331.7" y="18.5" font-size="5.6" fill="#333" textLength="45.9" lengthAdjust="spacingAndGlyphs">Factor Coding: Actual</text>
<text x="331.7" y="30.5" font-size="5.6" fill="#111" font-weight="bold" textLength="48" lengthAdjust="spacingAndGlyphs">% Swelling index (%)</text>
<circle cx="336.7" cy="36.8" r="2.3" fill="#b80000" stroke="#300000" stroke-width="0.8"/>
<text x="343" y="38.7" font-size="5.6" fill="#c8283c" textLength="78.8" lengthAdjust="spacingAndGlyphs">Design points above predicted value</text>
<circle cx="336.7" cy="47" r="2.3" fill="#ffd8d8" stroke="#402020" stroke-width="0.8"/>
<text x="343" y="48.9" font-size="5.6" fill="#c8283c" textLength="78.6" lengthAdjust="spacingAndGlyphs">Design points below predicted value</text>
<text x="333.8" y="58.9" font-size="5.6" fill="#3535ff" textLength="11" lengthAdjust="spacingAndGlyphs">55.39</text>
<rect x="348.1" y="54.5" width="16.7" height="4.3" fill="url(#cb49)" stroke="#202020" stroke-width="0.5"/>
<text x="368" y="58.9" font-size="5.6" fill="#e62020" textLength="11" lengthAdjust="spacingAndGlyphs">74.81</text>
<text x="331.7" y="79" font-size="5.6" fill="#333" textLength="53.3" lengthAdjust="spacingAndGlyphs">X1 = A: Weight of HPMC</text>
<text x="331.7" y="85.1" font-size="5.6" fill="#333" textLength="79.1" lengthAdjust="spacingAndGlyphs">X2 = B: Weight of Guargum:Aloevera</text>
<text x="331.7" y="256.3" font-size="5.6" fill="#111" font-weight="bold" textLength="57.6" lengthAdjust="spacingAndGlyphs">Design-Expert® Software</text>
<text x="331.7" y="262.4" font-size="5.6" fill="#333" textLength="45.9" lengthAdjust="spacingAndGlyphs">Factor Coding: Actual</text>
<text x="331.7" y="274.4" font-size="5.6" fill="#111" font-weight="bold" textLength="43.2" lengthAdjust="spacingAndGlyphs">Hardness (kg/cm2)</text>
<circle cx="336.7" cy="280.7" r="2.3" fill="#b80000" stroke="#300000" stroke-width="0.8"/>
<text x="343" y="282.6" font-size="5.6" fill="#c8283c" textLength="78.8" lengthAdjust="spacingAndGlyphs">Design points above predicted value</text>
<circle cx="336.7" cy="290.9" r="2.3" fill="#ffd8d8" stroke="#402020" stroke-width="0.8"/>
<text x="343" y="292.8" font-size="5.6" fill="#c8283c" textLength="78.6" lengthAdjust="spacingAndGlyphs">Design points below predicted value</text>
<text x="333.8" y="302.8" font-size="5.6" fill="#3535ff" textLength="6.1" lengthAdjust="spacingAndGlyphs">3.9</text>
<rect x="343.2" y="298.4" width="16.3" height="4.3" fill="url(#cb50)" stroke="#202020" stroke-width="0.5"/>
<text x="362.7" y="302.8" font-size="5.6" fill="#e62020" textLength="6.1" lengthAdjust="spacingAndGlyphs">6.2</text>
<text x="331.7" y="322.9" font-size="5.6" fill="#333" textLength="53.3" lengthAdjust="spacingAndGlyphs">X1 = A: Weight of HPMC</text>
<text x="331.7" y="329" font-size="5.6" fill="#333" textLength="79.1" lengthAdjust="spacingAndGlyphs">X2 = B: Weight of Guargum:Aloevera</text>
<text x="331.7" y="500.3" font-size="5.6" fill="#111" font-weight="bold" textLength="57.6" lengthAdjust="spacingAndGlyphs">Design-Expert® Software</text>
<text x="331.7" y="506.4" font-size="5.6" fill="#333" textLength="45.9" lengthAdjust="spacingAndGlyphs">Factor Coding: Actual</text>
<text x="331.7" y="518.4" font-size="5.6" fill="#111" font-weight="bold" textLength="29.2" lengthAdjust="spacingAndGlyphs">Lag time (hr)</text>
<circle cx="336.7" cy="524.7" r="2.3" fill="#b80000" stroke="#300000" stroke-width="0.8"/>
<text x="343" y="526.6" font-size="5.6" fill="#c8283c" textLength="78.8" lengthAdjust="spacingAndGlyphs">Design points above predicted value</text>
<circle cx="336.7" cy="534.9" r="2.3" fill="#ffd8d8" stroke="#402020" stroke-width="0.8"/>
<text x="343" y="536.8" font-size="5.6" fill="#c8283c" textLength="78.6" lengthAdjust="spacingAndGlyphs">Design points below predicted value</text>
<text x="333.8" y="546.8" font-size="5.6" fill="#3535ff" textLength="6.1" lengthAdjust="spacingAndGlyphs">7.3</text>
<rect x="343.2" y="542.4" width="16.3" height="4.3" fill="url(#cb51)" stroke="#202020" stroke-width="0.5"/>
<text x="362.7" y="546.8" font-size="5.6" fill="#e62020" textLength="8.4" lengthAdjust="spacingAndGlyphs">11.2</text>
<text x="331.7" y="566.9" font-size="5.6" fill="#333" textLength="53.3" lengthAdjust="spacingAndGlyphs">X1 = A: Weight of HPMC</text>
<text x="331.7" y="573" font-size="5.6" fill="#333" textLength="79.1" lengthAdjust="spacingAndGlyphs">X2 = B: Weight of Guargum:Aloevera</text>
<g stroke="#1c1c1c" stroke-width="0.7" fill="none">
<line x1="476.54" y1="168.48" x2="466.53" y2="72.33" stroke="#1c1c1c" stroke-width="0.7"/>
<line x1="642.74" y1="171.91" x2="653.03" y2="75.67" stroke="#1c1c1c" stroke-width="0.7"/>
<line x1="496" y1="134.35" x2="490.3" y2="61.37" stroke="#1c1c1c" stroke-width="0.7"/>
<line x1="624.2" y1="136.91" x2="630.18" y2="63.88" stroke="#1c1c1c" stroke-width="0.7"/>
<line x1="517.8" y1="122.64" x2="514.08" y2="50.42" stroke="#1c1c1c" stroke-width="0.7"/>
<line x1="603.27" y1="124.35" x2="607.33" y2="52.09" stroke="#1c1c1c" stroke-width="0.7"/>
<line x1="539.6" y1="110.93" x2="537.85" y2="39.46" stroke="#1c1c1c" stroke-width="0.7"/>
<line x1="582.34" y1="111.78" x2="584.48" y2="40.29" stroke="#1c1c1c" stroke-width="0.7"/>
<line x1="561.4" y1="99.22" x2="561.63" y2="28.5" stroke="#1c1c1c" stroke-width="0.7"/>
<line x1="561.4" y1="99.22" x2="561.63" y2="28.5" stroke="#1c1c1c" stroke-width="0.7"/>
<polyline points="474.2,146.07 561.4,99.22 645.14,149.48"/>
<polyline points="472.67,131.32 561.45,85.07 646.71,134.72"/>
<polyline points="471.13,116.57 561.49,70.93 648.29,119.95"/>
<polyline points="469.6,101.82 561.54,56.79 649.87,105.19"/>
<polyline points="468.06,87.08 561.58,42.65 651.45,90.43"/>
<polyline points="466.53,72.33 561.63,28.5 653.03,75.67"/>
</g>
<polygon points="476.54,168.48 557.14,230.3 642.74,171.91 561.34,120.71" fill="#666666" stroke="#2a2a2a" stroke-width="0.6"/>
<g clip-path="url(#fc52)" fill="none" stroke-width="1.2">
<polyline points="490.5,79.6 508.02,192.55" stroke="#d8602c"/>
<polyline points="495,-12.4 542.11,219.54" stroke="#e6c41e"/>
<polyline points="532.5,60.9 572.06,220.36" stroke="#84d420"/>
<polyline points="557.1,75.1 596.96,203.45" stroke="#08d468"/>
<polyline points="583.9,85.2 620.44,187.28" stroke="#20c8dc"/>
</g>
<polygon points="476.54,168.48 557.14,230.3 642.74,171.91 561.34,120.71" fill="none" stroke="#2a2a2a" stroke-width="0.6"/>
<circle cx="557.14" cy="230.3" r="0.7" fill="#222" stroke="none" stroke-width="0"/>
<circle cx="557.14" cy="230.3" r="0.7" fill="#222" stroke="none" stroke-width="0"/>
<circle cx="536.99" cy="214.85" r="0.7" fill="#222" stroke="none" stroke-width="0"/>
<circle cx="578.54" cy="215.71" r="0.7" fill="#222" stroke="none" stroke-width="0"/>
<circle cx="516.84" cy="199.39" r="0.7" fill="#222" stroke="none" stroke-width="0"/>
<circle cx="599.94" cy="201.11" r="0.7" fill="#222" stroke="none" stroke-width="0"/>
<circle cx="496.69" cy="183.94" r="0.7" fill="#222" stroke="none" stroke-width="0"/>
<circle cx="621.34" cy="186.51" r="0.7" fill="#222" stroke="none" stroke-width="0"/>
<circle cx="476.54" cy="168.48" r="0.7" fill="#222" stroke="none" stroke-width="0"/>
<circle cx="642.74" cy="171.91" r="0.7" fill="#222" stroke="none" stroke-width="0"/>
<circle cx="474.2" cy="146.07" r="0.7" fill="#222" stroke="none" stroke-width="0"/>
<circle cx="472.67" cy="131.32" r="0.7" fill="#222" stroke="none" stroke-width="0"/>
<circle cx="471.13" cy="116.57" r="0.7" fill="#222" stroke="none" stroke-width="0"/>
<circle cx="469.6" cy="101.82" r="0.7" fill="#222" stroke="none" stroke-width="0"/>
<circle cx="468.06" cy="87.08" r="0.7" fill="#222" stroke="none" stroke-width="0"/>
<circle cx="466.53" cy="72.33" r="0.7" fill="#222" stroke="none" stroke-width="0"/>
<circle cx="604.2" cy="156.6" r="2.05" fill="#ffe4e4" stroke="#4a2020" stroke-width="0.7"/>
<g stroke="#0c0c0c" stroke-width="0.44" stroke-linejoin="round">
<polygon points="561.31,75.73 565.82,75.08 561.49,71.61 556.97,72.22" fill="#0bff00"/>
<polygon points="556.79,76.36 561.31,75.73 556.97,72.22 552.44,72.83" fill="#29ff00"/>
<polygon points="565.64,79.23 570.14,78.56 565.82,75.08 561.31,75.73" fill="#00ff09"/>
<polygon points="552.25,76.99 556.79,76.36 552.44,72.83 547.88,73.43" fill="#48ff00"/>
<polygon points="561.13,79.9 565.64,79.23 561.31,75.73 556.79,76.36" fill="#15ff00"/>
<polygon points="569.96,82.74 574.44,82.04 570.14,78.56 565.64,79.23" fill="#00ff1e"/>
<polygon points="547.68,77.61 552.25,76.99 547.88,73.43 543.31,74.02" fill="#66ff00"/>
<polygon points="556.6,80.56 561.13,79.9 556.79,76.36 552.25,76.99" fill="#33ff00"/>
<polygon points="565.46,83.44 569.96,82.74 565.64,79.23 561.13,79.9" fill="#01ff00"/>
<polygon points="574.27,86.26 578.74,85.52 574.44,82.04 569.96,82.74" fill="#00ff32"/>
<polygon points="543.1,78.23 547.68,77.61 543.31,74.02 538.71,74.6" fill="#84ff00"/>
<polygon points="552.05,81.21 556.6,80.56 552.25,76.99 547.68,77.61" fill="#52ff00"/>
<polygon points="560.94,84.13 565.46,83.44 561.13,79.9 556.6,80.56" fill="#1fff00"/>
<polygon points="569.78,86.99 574.27,86.26 569.96,82.74 565.46,83.44" fill="#00ff13"/>
<polygon points="578.56,89.78 583.02,89.01 578.74,85.52 574.27,86.26" fill="#00ff46"/>
<polygon points="538.51,78.84 543.1,78.23 538.71,74.6 534.1,75.18" fill="#a3ff00"/>
<polygon points="547.48,81.86 552.05,81.21 547.68,77.61 543.1,78.23" fill="#70ff00"/>
<polygon points="556.41,84.82 560.94,84.13 556.6,80.56 552.05,81.21" fill="#3dff00"/>
<polygon points="565.27,87.71 569.78,86.99 565.46,83.44 560.94,84.13" fill="#0bff00"/>
<polygon points="574.09,90.54 578.56,89.78 574.27,86.26 569.78,86.99" fill="#00ff28"/>
<polygon points="582.85,93.3 587.29,92.51 583.02,89.01 578.56,89.78" fill="#00ff5a"/>
<polygon points="533.89,79.44 538.51,78.84 534.1,75.18 529.47,75.75" fill="#c1ff00"/>
<polygon points="542.9,82.5 547.48,81.86 543.1,78.23 538.51,78.84" fill="#8eff00"/>
<polygon points="551.85,85.49 556.41,84.82 552.05,81.21 547.48,81.86" fill="#5cff00"/>
<polygon points="560.75,88.42 565.27,87.71 560.94,84.13 556.41,84.82" fill="#29ff00"/>
<polygon points="569.59,91.29 574.09,90.54 569.78,86.99 565.27,87.71" fill="#00ff09"/>
<polygon points="578.38,94.09 582.85,93.3 578.56,89.78 574.09,90.54" fill="#00ff3c"/>
<polygon points="587.12,96.83 591.55,96.01 587.29,92.51 582.85,93.3" fill="#00ff6e"/>
<polygon points="529.25,80.03 533.89,79.44 529.47,75.75 524.82,76.31" fill="#dfff00"/>
<polygon points="538.29,83.13 542.9,82.5 538.51,78.84 533.89,79.44" fill="#adff00"/>
<polygon points="547.28,86.16 551.85,85.49 547.48,81.86 542.9,82.5" fill="#7aff00"/>
<polygon points="556.21,89.13 560.75,88.42 556.41,84.82 551.85,85.49" fill="#48ff00"/>
<polygon points="565.08,92.04 569.59,91.29 565.27,87.71 560.75,88.42" fill="#15ff00"/>
<polygon points="573.9,94.88 578.38,94.09 574.09,90.54 569.59,91.29" fill="#00ff1e"/>
<polygon points="582.67,97.65 587.12,96.83 582.85,93.3 578.38,94.09" fill="#00ff50"/>
<polygon points="591.38,100.37 595.8,99.51 591.55,96.01 587.12,96.83" fill="#00ff83"/>
<polygon points="524.6,80.62 529.25,80.03 524.82,76.31 520.16,76.87" fill="#feff00"/>
<polygon points="533.67,83.75 538.29,83.13 533.89,79.44 529.25,80.03" fill="#cbff00"/>
<polygon points="542.68,86.83 547.28,86.16 542.9,82.5 538.29,83.13" fill="#99ff00"/>
<polygon points="551.65,89.83 556.21,89.13 551.85,85.49 547.28,86.16" fill="#66ff00"/>
<polygon points="560.55,92.78 565.08,92.04 560.75,88.42 556.21,89.13" fill="#33ff00"/>
<polygon points="569.4,95.65 573.9,94.88 569.59,91.29 565.08,92.04" fill="#01ff00"/>
<polygon points="578.2,98.47 582.67,97.65 578.38,94.09 573.9,94.88" fill="#00ff32"/>
<polygon points="586.94,101.22 591.38,100.37 587.12,96.83 582.67,97.65" fill="#00ff64"/>
<polygon points="595.63,103.9 600.04,103.02 595.8,99.51 591.38,100.37" fill="#00ff97"/>
<polygon points="519.92,81.2 524.6,80.62 520.16,76.87 515.47,77.41" fill="#ffe200"/>
<polygon points="529.03,84.37 533.67,83.75 529.25,80.03 524.6,80.62" fill="#e9ff00"/>
<polygon points="538.07,87.48 542.68,86.83 538.29,83.13 533.67,83.75" fill="#b7ff00"/>
<polygon points="547.07,90.53 551.65,89.83 547.28,86.16 542.68,86.83" fill="#84ff00"/>
<polygon points="556,93.51 560.55,92.78 556.21,89.13 551.65,89.83" fill="#52ff00"/>
<polygon points="564.89,96.42 569.4,95.65 565.08,92.04 560.55,92.78" fill="#1fff00"/>
<polygon points="573.71,99.28 578.2,98.47 573.9,94.88 569.4,95.65" fill="#00ff13"/>
<polygon points="582.49,102.06 586.94,101.22 582.67,97.65 578.2,98.47" fill="#00ff46"/>
<polygon points="591.21,104.79 595.63,103.9 591.38,100.37 586.94,101.22" fill="#00ff79"/>
<polygon points="599.88,107.45 604.27,106.53 600.04,103.02 595.63,103.9" fill="#00ffab"/>
<polygon points="515.23,81.77 519.92,81.2 515.47,77.41 510.77,77.95" fill="#ffc400"/>
<polygon points="524.37,84.98 529.03,84.37 524.6,80.62 519.92,81.2" fill="#fff600"/>
<polygon points="533.44,88.13 538.07,87.48 533.67,83.75 529.03,84.37" fill="#d5ff00"/>
<polygon points="542.47,91.22 547.07,90.53 542.68,86.83 538.07,87.48" fill="#a3ff00"/>
<polygon points="551.44,94.23 556,93.51 551.65,89.83 547.07,90.53" fill="#70ff00"/>
<polygon points="560.35,97.19 564.89,96.42 560.55,92.78 556,93.51" fill="#3eff00"/>
<polygon points="569.21,100.08 573.71,99.28 569.4,95.65 564.89,96.42" fill="#0bff00"/>
<polygon points="578.01,102.9 582.49,102.06 578.2,98.47 573.71,99.28" fill="#00ff28"/>
<polygon points="586.76,105.66 591.21,104.79 586.94,101.22 582.49,102.06" fill="#00ff5a"/>
<polygon points="595.46,108.36 599.88,107.45 595.63,103.9 591.21,104.79" fill="#00ff8d"/>
<polygon points="604.1,110.99 608.49,110.04 604.27,106.53 599.88,107.45" fill="#00ffbf"/>
<polygon points="510.52,82.33 515.23,81.77 510.77,77.95 506.04,78.49" fill="#ffa500"/>
<polygon points="519.69,85.59 524.37,84.98 519.92,81.2 515.23,81.77" fill="#ffd800"/>
<polygon points="528.8,88.77 533.44,88.13 529.03,84.37 524.37,84.98" fill="#f4ff00"/>
<polygon points="537.85,91.9 542.47,91.22 538.07,87.48 533.44,88.13" fill="#c1ff00"/>
<polygon points="546.85,94.95 551.44,94.23 547.07,90.53 542.47,91.22" fill="#8eff00"/>
<polygon points="555.8,97.94 560.35,97.19 556,93.51 551.44,94.23" fill="#5cff00"/>
<polygon points="564.68,100.87 569.21,100.08 564.89,96.42 560.35,97.19" fill="#29ff00"/>
<polygon points="573.52,103.73 578.01,102.9 573.71,99.28 569.21,100.08" fill="#00ff09"/>
<polygon points="582.3,106.53 586.76,105.66 582.49,102.06 578.01,102.9" fill="#00ff3c"/>
<polygon points="591.03,109.27 595.46,108.36 591.21,104.79 586.76,105.66" fill="#00ff6e"/>
<polygon points="599.7,111.94 604.1,110.99 599.88,107.45 595.46,108.36" fill="#00ffa1"/>
<polygon points="608.32,114.55 612.69,113.56 608.49,110.04 604.1,110.99" fill="#00ffd4"/>
<polygon points="505.79,82.89 510.52,82.33 506.04,78.49 501.3,79.02" fill="#ff8700"/>
<polygon points="514.99,86.18 519.69,85.59 515.23,81.77 510.52,82.33" fill="#ffb900"/>
<polygon points="524.13,89.41 528.8,88.77 524.37,84.98 519.69,85.59" fill="#ffec00"/>
<polygon points="533.22,92.57 537.85,91.9 533.44,88.13 528.8,88.77" fill="#dfff00"/>
<polygon points="542.25,95.66 546.85,94.95 542.47,91.22 537.85,91.9" fill="#adff00"/>
<polygon points="551.22,98.69 555.8,97.94 551.44,94.23 546.85,94.95" fill="#7aff00"/>
<polygon points="560.14,101.66 564.68,100.87 560.35,97.19 555.8,97.94" fill="#48ff00"/>
<polygon points="569.01,104.56 573.52,103.73 569.21,100.08 564.68,100.87" fill="#15ff00"/>
<polygon points="577.82,107.4 582.3,106.53 578.01,102.9 573.52,103.73" fill="#00ff1d"/>
<polygon points="586.58,110.17 591.03,109.27 586.76,105.66 582.3,106.53" fill="#00ff50"/>
<polygon points="595.28,112.88 599.7,111.94 595.46,108.36 591.03,109.27" fill="#00ff83"/>
<polygon points="603.93,115.52 608.32,114.55 604.1,110.99 599.7,111.94" fill="#00ffb5"/>
<polygon points="612.53,118.1 616.89,117.09 612.69,113.56 608.32,114.55" fill="#00ffe8"/>
<polygon points="501.05,83.44 505.79,82.89 501.3,79.02 496.54,79.54" fill="#ff6800"/>
<polygon points="510.27,86.77 514.99,86.18 510.52,82.33 505.79,82.89" fill="#ff9b00"/>
<polygon points="519.45,90.04 524.13,89.41 519.69,85.59 514.99,86.18" fill="#ffce00"/>
<polygon points="528.56,93.24 533.22,92.57 528.8,88.77 524.13,89.41" fill="#feff00"/>
<polygon points="537.62,96.37 542.25,95.66 537.85,91.9 533.22,92.57" fill="#cbff00"/>
<polygon points="546.63,99.44 551.22,98.69 546.85,94.95 542.25,95.66" fill="#99ff00"/>
<polygon points="555.58,102.44 560.14,101.66 555.8,97.94 551.22,98.69" fill="#66ff00"/>
<polygon points="564.48,105.38 569.01,104.56 564.68,100.87 560.14,101.66" fill="#33ff00"/>
<polygon points="573.32,108.25 577.82,107.4 573.52,103.73 569.01,104.56" fill="#01ff00"/>
<polygon points="582.11,111.06 586.58,110.17 582.3,106.53 577.82,107.4" fill="#00ff32"/>
<polygon points="590.84,113.81 595.28,112.88 591.03,109.27 586.58,110.17" fill="#00ff64"/>
<polygon points="599.52,116.49 603.93,115.52 599.7,111.94 595.28,112.88" fill="#00ff97"/>
<polygon points="608.15,119.11 612.53,118.1 608.32,114.55 603.93,115.52" fill="#00ffc9"/>
<polygon points="616.73,121.66 621.07,120.62 616.89,117.09 612.53,118.1" fill="#00fffc"/>
<polygon points="496.28,83.99 501.05,83.44 496.54,79.54 491.76,80.05" fill="#ff4a00"/>
<polygon points="505.54,87.36 510.27,86.77 505.79,82.89 501.05,83.44" fill="#ff7d00"/>
<polygon points="514.74,90.66 519.45,90.04 514.99,86.18 510.27,86.77" fill="#ffaf00"/>
<polygon points="523.89,93.9 528.56,93.24 524.13,89.41 519.45,90.04" fill="#ffe200"/>
<polygon points="532.98,97.07 537.62,96.37 533.22,92.57 528.56,93.24" fill="#eaff00"/>
<polygon points="542.02,100.17 546.63,99.44 542.25,95.66 537.62,96.37" fill="#b7ff00"/>
<polygon points="551,103.21 555.58,102.44 551.22,98.69 546.63,99.44" fill="#84ff00"/>
<polygon points="559.93,106.19 564.48,105.38 560.14,101.66 555.58,102.44" fill="#52ff00"/>
<polygon points="568.8,109.1 573.32,108.25 569.01,104.56 564.48,105.38" fill="#1fff00"/>
<polygon points="577.62,111.95 582.11,111.06 577.82,107.4 573.32,108.25" fill="#00ff13"/>
<polygon points="586.39,114.73 590.84,113.81 586.58,110.17 582.11,111.06" fill="#00ff46"/>
<polygon points="595.1,117.45 599.52,116.49 595.28,112.88 590.84,113.81" fill="#00ff79"/>
<polygon points="603.76,120.11 608.15,119.11 603.93,115.52 599.52,116.49" fill="#00ffab"/>
<polygon points="612.36,122.7 616.73,121.66 612.53,118.1 608.15,119.11" fill="#00ffde"/>
<polygon points="620.91,125.23 625.25,124.15 621.07,120.62 616.73,121.66" fill="#00eeff"/>
<polygon points="491.5,84.53 496.28,83.99 491.76,80.05 486.96,80.55" fill="#ff2c00"/>
<polygon points="500.79,87.93 505.54,87.36 501.05,83.44 496.28,83.99" fill="#ff5e00"/>
<polygon points="510.02,91.27 514.74,90.66 510.27,86.77 505.54,87.36" fill="#ff9100"/>
<polygon points="519.2,94.55 523.89,93.9 519.45,90.04 514.74,90.66" fill="#ffc400"/>
<polygon points="528.32,97.76 532.98,97.07 528.56,93.24 523.89,93.9" fill="#fff600"/>
<polygon points="537.39,100.9 542.02,100.17 537.62,96.37 532.98,97.07" fill="#d5ff00"/>
<polygon points="546.41,103.98 551,103.21 546.63,99.44 542.02,100.17" fill="#a3ff00"/>
<polygon points="555.36,107 559.93,106.19 555.58,102.44 551,103.21" fill="#70ff00"/>
<polygon points="564.27,109.95 568.8,109.1 564.48,105.38 559.93,106.19" fill="#3eff00"/>
<polygon points="573.12,112.83 577.62,111.95 573.32,108.25 568.8,109.1" fill="#0bff00"/>
<polygon points="581.91,115.65 586.39,114.73 582.11,111.06 577.62,111.95" fill="#00ff28"/>
<polygon points="590.65,118.41 595.1,117.45 590.84,113.81 586.39,114.73" fill="#00ff5a"/>
<polygon points="599.34,121.1 603.76,120.11 599.52,116.49 595.1,117.45" fill="#00ff8d"/>
<polygon points="607.98,123.73 612.36,122.7 608.15,119.11 603.76,120.11" fill="#00ffbf"/>
<polygon points="616.56,126.29 620.91,125.23 616.73,121.66 612.36,122.7" fill="#00fff2"/>
<polygon points="625.08,128.8 629.41,127.69 625.25,124.15 620.91,125.23" fill="#00daff"/>
<polygon points="486.69,85.06 491.5,84.53 486.96,80.55 482.15,81.05" fill="#ff0d00"/>
<polygon points="496.01,88.5 500.79,87.93 496.28,83.99 491.5,84.53" fill="#ff4000"/>
<polygon points="505.28,91.88 510.02,91.27 505.54,87.36 500.79,87.93" fill="#ff7300"/>
<polygon points="514.49,95.19 519.2,94.55 514.74,90.66 510.02,91.27" fill="#ffa500"/>
<polygon points="523.65,98.44 528.32,97.76 523.89,93.9 519.2,94.55" fill="#ffd800"/>
<polygon points="532.75,101.63 537.39,100.9 532.98,97.07 528.32,97.76" fill="#f4ff00"/>
<polygon points="541.79,104.74 546.41,103.98 542.02,100.17 537.39,100.9" fill="#c1ff00"/>
<polygon points="550.78,107.79 555.36,107 551,103.21 546.41,103.98" fill="#8fff00"/>
<polygon points="559.71,110.78 564.27,109.95 559.93,106.19 555.36,107" fill="#5cff00"/>
<polygon points="568.59,113.7 573.12,112.83 568.8,109.1 564.27,109.95" fill="#29ff00"/>
<polygon points="577.42,116.56 581.91,115.65 577.62,111.95 573.12,112.83" fill="#00ff09"/>
<polygon points="586.19,119.36 590.65,118.41 586.39,114.73 581.91,115.65" fill="#00ff3c"/>
<polygon points="594.91,122.09 599.34,121.1 595.1,117.45 590.65,118.41" fill="#00ff6e"/>
<polygon points="603.57,124.75 607.98,123.73 603.76,120.11 599.34,121.1" fill="#00ffa1"/>
<polygon points="612.18,127.35 616.56,126.29 612.36,122.7 607.98,123.73" fill="#00ffd4"/>
<polygon points="620.74,129.89 625.08,128.8 620.91,125.23 616.56,126.29" fill="#00f8ff"/>
<polygon points="629.25,132.37 633.56,131.23 629.41,127.69 625.08,128.8" fill="#00c5ff"/>
<polygon points="481.87,85.58 486.69,85.06 482.15,81.05 477.31,81.54" fill="#ff0000"/>
<polygon points="491.22,89.06 496.01,88.5 491.5,84.53 486.69,85.06" fill="#ff2200"/>
<polygon points="500.52,92.48 505.28,91.88 500.79,87.93 496.01,88.5" fill="#ff5400"/>
<polygon points="509.76,95.83 514.49,95.19 510.02,91.27 505.28,91.88" fill="#ff8700"/>
<polygon points="518.95,99.12 523.65,98.44 519.2,94.55 514.49,95.19" fill="#ffb900"/>
<polygon points="528.08,102.34 532.75,101.63 528.32,97.76 523.65,98.44" fill="#ffec00"/>
<polygon points="537.16,105.5 541.79,104.74 537.39,100.9 532.75,101.63" fill="#dfff00"/>
<polygon points="546.18,108.59 550.78,107.79 546.41,103.98 541.79,104.74" fill="#adff00"/>
<polygon points="555.14,111.61 559.71,110.78 555.36,107 550.78,107.79" fill="#7aff00"/>
<polygon points="564.05,114.57 568.59,113.7 564.27,109.95 559.71,110.78" fill="#48ff00"/>
<polygon points="572.91,117.47 577.42,116.56 573.12,112.83 568.59,113.7" fill="#15ff00"/>
<polygon points="581.71,120.3 586.19,119.36 581.91,115.65 577.42,116.56" fill="#00ff1d"/>
<polygon points="590.46,123.07 594.91,122.09 590.65,118.41 586.19,119.36" fill="#00ff50"/>
<polygon points="599.15,125.77 603.57,124.75 599.34,121.1 594.91,122.09" fill="#00ff83"/>
<polygon points="607.79,128.41 612.18,127.35 607.98,123.73 603.57,124.75" fill="#00ffb5"/>
<polygon points="616.38,130.99 620.74,129.89 616.56,126.29 612.18,127.35" fill="#00ffe8"/>
<polygon points="624.92,133.5 629.25,132.37 625.08,128.8 620.74,129.89" fill="#00e4ff"/>
<polygon points="633.4,135.95 637.7,134.78 633.56,131.23 629.25,132.37" fill="#00b1ff"/>
<polygon points="477.03,86.09 481.87,85.58 477.31,81.54 472.46,82.03" fill="#ff0000"/>
<polygon points="486.42,89.62 491.22,89.06 486.69,85.06 481.87,85.58" fill="#ff0300"/>
<polygon points="495.74,93.08 500.52,92.48 496.01,88.5 491.22,89.06" fill="#ff3600"/>
<polygon points="505.02,96.47 509.76,95.83 505.28,91.88 500.52,92.48" fill="#ff6800"/>
<polygon points="514.24,99.79 518.95,99.12 514.49,95.19 509.76,95.83" fill="#ff9b00"/>
<polygon points="523.4,103.05 528.08,102.34 523.65,98.44 518.95,99.12" fill="#ffce00"/>
<polygon points="532.5,106.24 537.16,105.5 532.75,101.63 528.08,102.34" fill="#feff00"/>
<polygon points="541.55,109.37 546.18,108.59 541.79,104.74 537.16,105.5" fill="#cbff00"/>
<polygon points="550.55,112.44 555.14,111.61 550.78,107.79 546.18,108.59" fill="#99ff00"/>
<polygon points="559.49,115.43 564.05,114.57 559.71,110.78 555.14,111.61" fill="#66ff00"/>
<polygon points="568.38,118.37 572.91,117.47 568.59,113.7 564.05,114.57" fill="#33ff00"/>
<polygon points="577.21,121.24 581.71,120.3 577.42,116.56 572.91,117.47" fill="#01ff00"/>
<polygon points="585.99,124.04 590.46,123.07 586.19,119.36 581.71,120.3" fill="#00ff32"/>
<polygon points="594.71,126.78 599.15,125.77 594.91,122.09 590.46,123.07" fill="#00ff64"/>
<polygon points="603.39,129.46 607.79,128.41 603.57,124.75 599.15,125.77" fill="#00ff97"/>
<polygon points="612,132.07 616.38,130.99 612.18,127.35 607.79,128.41" fill="#00ffc9"/>
<polygon points="620.57,134.62 624.92,133.5 620.74,129.89 616.38,130.99" fill="#00fffc"/>
<polygon points="629.08,137.11 633.4,135.95 629.25,132.37 624.92,133.5" fill="#00cfff"/>
<polygon points="637.54,139.53 641.83,138.33 637.7,134.78 633.4,135.95" fill="#009dff"/>
<polygon points="472.17,86.6 477.03,86.09 472.46,82.03 467.59,82.5" fill="#ff0000"/>
<polygon points="481.59,90.17 486.42,89.62 481.87,85.58 477.03,86.09" fill="#ff0000"/>
<polygon points="490.95,93.66 495.74,93.08 491.22,89.06 486.42,89.62" fill="#ff1800"/>
<polygon points="500.25,97.09 505.02,96.47 500.52,92.48 495.74,93.08" fill="#ff4a00"/>
<polygon points="509.5,100.46 514.24,99.79 509.76,95.83 505.02,96.47" fill="#ff7d00"/>
<polygon points="518.7,103.75 523.4,103.05 518.95,99.12 514.24,99.79" fill="#ffaf00"/>
<polygon points="527.83,106.99 532.5,106.24 528.08,102.34 523.4,103.05" fill="#ffe200"/>
<polygon points="536.91,110.15 541.55,109.37 537.16,105.5 532.5,106.24" fill="#eaff00"/>
<polygon points="545.94,113.25 550.55,112.44 546.18,108.59 541.55,109.37" fill="#b7ff00"/>
<polygon points="554.91,116.29 559.49,115.43 555.14,111.61 550.55,112.44" fill="#84ff00"/>
<polygon points="563.83,119.26 568.38,118.37 564.05,114.57 559.49,115.43" fill="#52ff00"/>
<polygon points="572.69,122.17 577.21,121.24 572.91,117.47 568.38,118.37" fill="#1fff00"/>
<polygon points="581.5,125.01 585.99,124.04 581.71,120.3 577.21,121.24" fill="#00ff13"/>
<polygon points="590.26,127.79 594.71,126.78 590.46,123.07 585.99,124.04" fill="#00ff46"/>
<polygon points="598.96,130.5 603.39,129.46 599.15,125.77 594.71,126.78" fill="#00ff78"/>
<polygon points="607.61,133.15 612,132.07 607.79,128.41 603.39,129.46" fill="#00ffab"/>
<polygon points="616.2,135.74 620.57,134.62 616.38,130.99 612,132.07" fill="#00ffde"/>
<polygon points="624.74,138.26 629.08,137.11 624.92,133.5 620.57,134.62" fill="#00eeff"/>
<polygon points="633.23,140.72 637.54,139.53 633.4,135.95 629.08,137.11" fill="#00bbff"/>
<polygon points="641.67,143.12 645.95,141.89 641.83,138.33 637.54,139.53" fill="#0089ff"/>
<polygon points="476.74,90.71 481.59,90.17 477.03,86.09 472.17,86.6" fill="#ff0000"/>
<polygon points="486.13,94.24 490.95,93.66 486.42,89.62 481.59,90.17" fill="#ff0000"/>
<polygon points="495.47,97.71 500.25,97.09 495.74,93.08 490.95,93.66" fill="#ff2c00"/>
<polygon points="504.75,101.11 509.5,100.46 505.02,96.47 500.25,97.09" fill="#ff5e00"/>
<polygon points="513.98,104.45 518.7,103.75 514.24,99.79 509.5,100.46" fill="#ff9100"/>
<polygon points="523.14,107.72 527.83,106.99 523.4,103.05 518.7,103.75" fill="#ffc300"/>
<polygon points="532.26,110.92 536.91,110.15 532.5,106.24 527.83,106.99" fill="#fff600"/>
<polygon points="541.31,114.06 545.94,113.25 541.55,109.37 536.91,110.15" fill="#d5ff00"/>
<polygon points="550.32,117.14 554.91,116.29 550.55,112.44 545.94,113.25" fill="#a3ff00"/>
<polygon points="559.26,120.15 563.83,119.26 559.49,115.43 554.91,116.29" fill="#70ff00"/>
<polygon points="568.16,123.09 572.69,122.17 568.38,118.37 563.83,119.26" fill="#3eff00"/>
<polygon points="577,125.97 581.5,125.01 577.21,121.24 572.69,122.17" fill="#0bff00"/>
<polygon points="585.78,128.79 590.26,127.79 585.99,124.04 581.5,125.01" fill="#00ff28"/>
<polygon points="594.51,131.54 598.96,130.5 594.71,126.78 590.26,127.79" fill="#00ff5a"/>
<polygon points="603.19,134.22 607.61,133.15 603.39,129.46 598.96,130.5" fill="#00ff8d"/>
<polygon points="611.82,136.85 616.2,135.74 612,132.07 607.61,133.15" fill="#00ffbf"/>
<polygon points="620.39,139.41 624.74,138.26 620.57,134.62 616.2,135.74" fill="#00fff2"/>
<polygon points="628.91,141.9 633.23,140.72 629.08,137.11 624.74,138.26" fill="#00daff"/>
<polygon points="637.37,144.34 641.67,143.12 637.54,139.53 633.23,140.72" fill="#00a7ff"/>
<polygon points="481.3,94.81 486.13,94.24 481.59,90.17 476.74,90.71" fill="#ff0000"/>
<polygon points="490.67,98.32 495.47,97.71 490.95,93.66 486.13,94.24" fill="#ff0d00"/>
<polygon points="499.98,101.76 504.75,101.11 500.25,97.09 495.47,97.71" fill="#ff4000"/>
<polygon points="509.24,105.14 513.98,104.45 509.5,100.46 504.75,101.11" fill="#ff7300"/>
<polygon points="518.44,108.45 523.14,107.72 518.7,103.75 513.98,104.45" fill="#ffa500"/>
<polygon points="527.58,111.69 532.26,110.92 527.83,106.99 523.14,107.72" fill="#ffd800"/>
<polygon points="536.67,114.87 541.31,114.06 536.91,110.15 532.26,110.92" fill="#f4ff00"/>
<polygon points="545.7,117.98 550.32,117.14 545.94,113.25 541.31,114.06" fill="#c1ff00"/>
<polygon points="554.68,121.03 559.26,120.15 554.91,116.29 550.32,117.14" fill="#8fff00"/>
<polygon points="563.6,124.01 568.16,123.09 563.83,119.26 559.26,120.15" fill="#5cff00"/>
<polygon points="572.47,126.93 577,125.97 572.69,122.17 568.16,123.09" fill="#29ff00"/>
<polygon points="581.29,129.78 585.78,128.79 581.5,125.01 577,125.97" fill="#00ff09"/>
<polygon points="590.05,132.57 594.51,131.54 590.26,127.79 585.78,128.79" fill="#00ff3c"/>
<polygon points="598.76,135.29 603.19,134.22 598.96,130.5 594.51,131.54" fill="#00ff6e"/>
<polygon points="607.41,137.95 611.82,136.85 607.61,133.15 603.19,134.22" fill="#00ffa1"/>
<polygon points="616.02,140.55 620.39,139.41 616.2,135.74 611.82,136.85" fill="#00ffd3"/>
<polygon points="624.56,143.08 628.91,141.9 624.74,138.26 620.39,139.41" fill="#00f8ff"/>
<polygon points="633.06,145.55 637.37,144.34 633.23,140.72 628.91,141.9" fill="#00c5ff"/>
<polygon points="485.85,98.93 490.67,98.32 486.13,94.24 481.3,94.81" fill="#ff0000"/>
<polygon points="495.19,102.41 499.98,101.76 495.47,97.71 490.67,98.32" fill="#ff2200"/>
<polygon points="504.48,105.82 509.24,105.14 504.75,101.11 499.98,101.76" fill="#ff5400"/>
<polygon points="513.71,109.17 518.44,108.45 513.98,104.45 509.24,105.14" fill="#ff8700"/>
<polygon points="522.89,112.45 527.58,111.69 523.14,107.72 518.44,108.45" fill="#ffb900"/>
<polygon points="532,115.66 536.67,114.87 532.26,110.92 527.58,111.69" fill="#ffec00"/>
<polygon points="541.07,118.81 545.7,117.98 541.31,114.06 536.67,114.87" fill="#e0ff00"/>
<polygon points="550.08,121.9 554.68,121.03 550.32,117.14 545.7,117.98" fill="#adff00"/>
<polygon points="559.03,124.92 563.6,124.01 559.26,120.15 554.68,121.03" fill="#7aff00"/>
<polygon points="567.93,127.87 572.47,126.93 568.16,123.09 563.6,124.01" fill="#48ff00"/>
<polygon points="576.78,130.77 581.29,129.78 577,125.97 572.47,126.93" fill="#15ff00"/>
<polygon points="585.57,133.59 590.05,132.57 585.78,128.79 581.29,129.78" fill="#00ff1d"/>
<polygon points="594.31,136.35 598.76,135.29 594.51,131.54 590.05,132.57" fill="#00ff50"/>
<polygon points="602.99,139.05 607.41,137.95 603.19,134.22 598.76,135.29" fill="#00ff83"/>
<polygon points="611.63,141.68 616.02,140.55 611.82,136.85 607.41,137.95" fill="#00ffb5"/>
<polygon points="620.2,144.25 624.56,143.08 620.39,139.41 616.02,140.55" fill="#00ffe8"/>
<polygon points="628.73,146.76 633.06,145.55 628.91,141.9 624.56,143.08" fill="#00e4ff"/>
<polygon points="490.39,103.04 495.19,102.41 490.67,98.32 485.85,98.93" fill="#ff0300"/>
<polygon points="499.7,106.5 504.48,105.82 499.98,101.76 495.19,102.41" fill="#ff3600"/>
<polygon points="508.97,109.88 513.71,109.17 509.24,105.14 504.48,105.82" fill="#ff6800"/>
<polygon points="518.17,113.2 522.89,112.45 518.44,108.45 513.71,109.17" fill="#ff9b00"/>
<polygon points="527.32,116.46 532,115.66 527.58,111.69 522.89,112.45" fill="#ffce00"/>
<polygon points="536.42,119.64 541.07,118.81 536.67,114.87 532,115.66" fill="#feff00"/>
<polygon points="545.46,122.77 550.08,121.9 545.7,117.98 541.07,118.81" fill="#cbff00"/>
<polygon points="554.44,125.82 559.03,124.92 554.68,121.03 550.08,121.9" fill="#99ff00"/>
<polygon points="563.37,128.82 567.93,127.87 563.6,124.01 559.03,124.92" fill="#66ff00"/>
<polygon points="572.25,131.75 576.78,130.77 572.47,126.93 567.93,127.87" fill="#34ff00"/>
<polygon points="581.07,134.61 585.57,133.59 581.29,129.78 576.78,130.77" fill="#01ff00"/>
<polygon points="589.84,137.41 594.31,136.35 590.05,132.57 585.57,133.59" fill="#00ff32"/>
<polygon points="598.56,140.14 602.99,139.05 598.76,135.29 594.31,136.35" fill="#00ff64"/>
<polygon points="607.22,142.81 611.63,141.68 607.41,137.95 602.99,139.05" fill="#00ff97"/>
<polygon points="615.83,145.42 620.2,144.25 616.02,140.55 611.63,141.68" fill="#00ffc9"/>
<polygon points="624.38,147.96 628.73,146.76 624.56,143.08 620.2,144.25" fill="#00fffc"/>
<polygon points="494.91,107.16 499.7,106.5 495.19,102.41 490.39,103.04" fill="#ff1700"/>
<polygon points="504.2,110.59 508.97,109.88 504.48,105.82 499.7,106.5" fill="#ff4a00"/>
<polygon points="513.44,113.95 518.17,113.2 513.71,109.17 508.97,109.88" fill="#ff7d00"/>
<polygon points="522.62,117.24 527.32,116.46 522.89,112.45 518.17,113.2" fill="#ffaf00"/>
<polygon points="531.75,120.47 536.42,119.64 532,115.66 527.32,116.46" fill="#ffe200"/>
<polygon points="540.82,123.63 545.46,122.77 541.07,118.81 536.42,119.64" fill="#eaff00"/>
<polygon points="549.84,126.72 554.44,125.82 550.08,121.9 545.46,122.77" fill="#b7ff00"/>
<polygon points="558.8,129.75 563.37,128.82 559.03,124.92 554.44,125.82" fill="#84ff00"/>
<polygon points="567.7,132.72 572.25,131.75 567.93,127.87 563.37,128.82" fill="#52ff00"/>
<polygon points="576.56,135.62 581.07,134.61 576.78,130.77 572.25,131.75" fill="#1fff00"/>
<polygon points="585.35,138.46 589.84,137.41 585.57,133.59 581.07,134.61" fill="#00ff13"/>
<polygon points="594.1,141.23 598.56,140.14 594.31,136.35 589.84,137.41" fill="#00ff46"/>
<polygon points="602.79,143.94 607.22,142.81 602.99,139.05 598.56,140.14" fill="#00ff78"/>
<polygon points="611.43,146.58 615.83,145.42 611.63,141.68 607.22,142.81" fill="#00ffab"/>
<polygon points="620.01,149.16 624.38,147.96 620.2,144.25 615.83,145.42" fill="#00ffde"/>
<polygon points="499.42,111.29 504.2,110.59 499.7,106.5 494.91,107.16" fill="#ff2c00"/>
<polygon points="508.69,114.69 513.44,113.95 508.97,109.88 504.2,110.59" fill="#ff5e00"/>
<polygon points="517.9,118.02 522.62,117.24 518.17,113.2 513.44,113.95" fill="#ff9100"/>
<polygon points="527.06,121.28 531.75,120.47 527.32,116.46 522.62,117.24" fill="#ffc300"/>
<polygon points="536.16,124.48 540.82,123.63 536.42,119.64 531.75,120.47" fill="#fff600"/>
<polygon points="545.21,127.62 549.84,126.72 545.46,122.77 540.82,123.63" fill="#d5ff00"/>
<polygon points="554.2,130.68 558.8,129.75 554.44,125.82 549.84,126.72" fill="#a3ff00"/>
<polygon points="563.14,133.69 567.7,132.72 563.37,128.82 558.8,129.75" fill="#70ff00"/>
<polygon points="572.02,136.63 576.56,135.62 572.25,131.75 567.7,132.72" fill="#3eff00"/>
<polygon points="580.85,139.5 585.35,138.46 581.07,134.61 576.56,135.62" fill="#0bff00"/>
<polygon points="589.62,142.31 594.1,141.23 589.84,137.41 585.35,138.46" fill="#00ff27"/>
<polygon points="598.35,145.06 602.79,143.94 598.56,140.14 594.1,141.23" fill="#00ff5a"/>
<polygon points="607.01,147.74 611.43,146.58 607.22,142.81 602.79,143.94" fill="#00ff8d"/>
<polygon points="615.63,150.35 620.01,149.16 615.83,145.42 611.43,146.58" fill="#00ffbf"/>
<polygon points="503.92,115.42 508.69,114.69 504.2,110.59 499.42,111.29" fill="#ff4000"/>
<polygon points="513.17,118.79 517.9,118.02 513.44,113.95 508.69,114.69" fill="#ff7200"/>
<polygon points="522.35,122.09 527.06,121.28 522.62,117.24 517.9,118.02" fill="#ffa500"/>
<polygon points="531.49,125.33 536.16,124.48 531.75,120.47 527.06,121.28" fill="#ffd800"/>
<polygon points="540.56,128.5 545.21,127.62 540.82,123.63 536.16,124.48" fill="#f4ff00"/>
<polygon points="549.59,131.61 554.2,130.68 549.84,126.72 545.21,127.62" fill="#c1ff00"/>
<polygon points="558.55,134.65 563.14,133.69 558.8,129.75 554.2,130.68" fill="#8fff00"/>
<polygon points="567.47,137.63 572.02,136.63 567.7,132.72 563.14,133.69" fill="#5cff00"/>
<polygon points="576.33,140.54 580.85,139.5 576.56,135.62 572.02,136.63" fill="#29ff00"/>
<polygon points="585.13,143.38 589.62,142.31 585.35,138.46 580.85,139.5" fill="#00ff09"/>
<polygon points="593.88,146.17 598.35,145.06 594.1,141.23 589.62,142.31" fill="#00ff3c"/>
<polygon points="602.58,148.89 607.01,147.74 602.79,143.94 598.35,145.06" fill="#00ff6e"/>
<polygon points="611.23,151.54 615.63,150.35 611.43,146.58 607.01,147.74" fill="#00ffa1"/>
<polygon points="508.41,119.55 513.17,118.79 508.69,114.69 503.92,115.42" fill="#ff5400"/>
<polygon points="517.63,122.89 522.35,122.09 517.9,118.02 513.17,118.79" fill="#ff8700"/>
<polygon points="526.79,126.17 531.49,125.33 527.06,121.28 522.35,122.09" fill="#ffb900"/>
<polygon points="535.9,129.38 540.56,128.5 536.16,124.48 531.49,125.33" fill="#ffec00"/>
<polygon points="544.96,132.53 549.59,131.61 545.21,127.62 540.56,128.5" fill="#e0ff00"/>
<polygon points="553.95,135.6 558.55,134.65 554.2,130.68 549.59,131.61" fill="#adff00"/>
<polygon points="562.9,138.62 567.47,137.63 563.14,133.69 558.55,134.65" fill="#7aff00"/>
<polygon points="571.79,141.57 576.33,140.54 572.02,136.63 567.47,137.63" fill="#48ff00"/>
<polygon points="580.62,144.45 585.13,143.38 580.85,139.5 576.33,140.54" fill="#15ff00"/>
<polygon points="589.4,147.27 593.88,146.17 589.62,142.31 585.13,143.38" fill="#00ff1d"/>
<polygon points="598.13,150.03 602.58,148.89 598.35,145.06 593.88,146.17" fill="#00ff50"/>
<polygon points="606.81,152.72 611.23,151.54 607.01,147.74 602.58,148.89" fill="#00ff82"/>
<polygon points="512.89,123.69 517.63,122.89 513.17,118.79 508.41,119.55" fill="#ff6800"/>
<polygon points="522.08,127.01 526.79,126.17 522.35,122.09 517.63,122.89" fill="#ff9b00"/>
<polygon points="531.22,130.25 535.9,129.38 531.49,125.33 526.79,126.17" fill="#ffcd00"/>
<polygon points="540.31,133.44 544.96,132.53 540.56,128.5 535.9,129.38" fill="#feff00"/>
<polygon points="549.33,136.55 553.95,135.6 549.59,131.61 544.96,132.53" fill="#cbff00"/>
<polygon points="558.31,139.61 562.9,138.62 558.55,134.65 553.95,135.6" fill="#99ff00"/>
<polygon points="567.23,142.59 571.79,141.57 567.47,137.63 562.9,138.62" fill="#66ff00"/>
<polygon points="576.09,145.51 580.62,144.45 576.33,140.54 571.79,141.57" fill="#34ff00"/>
<polygon points="584.9,148.37 589.4,147.27 585.13,143.38 580.62,144.45" fill="#01ff00"/>
<polygon points="593.66,151.16 598.13,150.03 593.88,146.17 589.4,147.27" fill="#00ff32"/>
<polygon points="602.37,153.89 606.81,152.72 602.58,148.89 598.13,150.03" fill="#00ff64"/>
<polygon points="517.35,127.83 522.08,127.01 517.63,122.89 512.89,123.69" fill="#ff7d00"/>
<polygon points="526.52,131.12 531.22,130.25 526.79,126.17 522.08,127.01" fill="#ffaf00"/>
<polygon points="535.64,134.34 540.31,133.44 535.9,129.38 531.22,130.25" fill="#ffe200"/>
<polygon points="544.7,137.5 549.33,136.55 544.96,132.53 540.31,133.44" fill="#eaff00"/>
<polygon points="553.7,140.59 558.31,139.61 553.95,135.6 549.33,136.55" fill="#b7ff00"/>
<polygon points="562.65,143.61 567.23,142.59 562.9,138.62 558.31,139.61" fill="#85ff00"/>
<polygon points="571.55,146.57 576.09,145.51 571.79,141.57 567.23,142.59" fill="#52ff00"/>
<polygon points="580.39,149.47 584.9,148.37 580.62,144.45 576.09,145.51" fill="#1fff00"/>
<polygon points="589.18,152.3 593.66,151.16 589.4,147.27 584.9,148.37" fill="#00ff13"/>
<polygon points="597.91,155.06 602.37,153.89 598.13,150.03 593.66,151.16" fill="#00ff46"/>
<polygon points="521.81,131.98 526.52,131.12 522.08,127.01 517.35,127.83" fill="#ff9100"/>
<polygon points="530.95,135.24 535.64,134.34 531.22,130.25 526.52,131.12" fill="#ffc300"/>
<polygon points="540.04,138.43 544.7,137.5 540.31,133.44 535.64,134.34" fill="#fff600"/>
<polygon points="549.08,141.56 553.7,140.59 549.33,136.55 544.7,137.5" fill="#d5ff00"/>
<polygon points="558.06,144.62 562.65,143.61 558.31,139.61 553.7,140.59" fill="#a3ff00"/>
<polygon points="566.98,147.62 571.55,146.57 567.23,142.59 562.65,143.61" fill="#70ff00"/>
<polygon points="575.85,150.55 580.39,149.47 576.09,145.51 571.55,146.57" fill="#3eff00"/>
<polygon points="584.67,153.42 589.18,152.3 584.9,148.37 580.39,149.47" fill="#0bff00"/>
<polygon points="593.44,156.22 597.91,155.06 593.66,151.16 589.18,152.3" fill="#00ff27"/>
<polygon points="526.25,136.13 530.95,135.24 526.52,131.12 521.81,131.98" fill="#ffa500"/>
<polygon points="535.37,139.36 540.04,138.43 535.64,134.34 530.95,135.24" fill="#ffd800"/>
<polygon points="544.43,142.53 549.08,141.56 544.7,137.5 540.04,138.43" fill="#f4ff00"/>
<polygon points="553.44,145.63 558.06,144.62 553.7,140.59 549.08,141.56" fill="#c1ff00"/>
<polygon points="562.4,148.66 566.98,147.62 562.65,143.61 558.06,144.62" fill="#8fff00"/>
<polygon points="571.3,151.63 575.85,150.55 571.55,146.57 566.98,147.62" fill="#5cff00"/>
<polygon points="580.15,154.54 584.67,153.42 580.39,149.47 575.85,150.55" fill="#2aff00"/>
<polygon points="588.94,157.38 593.44,156.22 589.18,152.3 584.67,153.42" fill="#00ff09"/>
<polygon points="530.68,140.29 535.37,139.36 530.95,135.24 526.25,136.13" fill="#ffb900"/>
<polygon points="539.77,143.49 544.43,142.53 540.04,138.43 535.37,139.36" fill="#ffec00"/>
<polygon points="548.81,146.63 553.44,145.63 549.08,141.56 544.43,142.53" fill="#e0ff00"/>
<polygon points="557.8,149.7 562.4,148.66 558.06,144.62 553.44,145.63" fill="#adff00"/>
<polygon points="566.73,152.71 571.3,151.63 566.98,147.62 562.4,148.66" fill="#7aff00"/>
<polygon points="575.61,155.65 580.15,154.54 575.85,150.55 571.3,151.63" fill="#48ff00"/>
<polygon points="584.43,158.53 588.94,157.38 584.67,153.42 580.15,154.54" fill="#15ff00"/>
<polygon points="535.09,144.45 539.77,143.49 535.37,139.36 530.68,140.29" fill="#ffcd00"/>
<polygon points="544.16,147.62 548.81,146.63 544.43,142.53 539.77,143.49" fill="#feff00"/>
<polygon points="553.18,150.73 557.8,149.7 553.44,145.63 548.81,146.63" fill="#cbff00"/>
<polygon points="562.14,153.78 566.73,152.71 562.4,148.66 557.8,149.7" fill="#99ff00"/>
<polygon points="571.05,156.76 575.61,155.65 571.3,151.63 566.73,152.71" fill="#66ff00"/>
<polygon points="579.91,159.68 584.43,158.53 580.15,154.54 575.61,155.65" fill="#34ff00"/>
<polygon points="539.5,148.61 544.16,147.62 539.77,143.49 535.09,144.45" fill="#ffe200"/>
<polygon points="548.55,151.76 553.18,150.73 548.81,146.63 544.16,147.62" fill="#eaff00"/>
<polygon points="557.54,154.84 562.14,153.78 557.8,149.7 553.18,150.73" fill="#b7ff00"/>
<polygon points="566.48,157.86 571.05,156.76 566.73,152.71 562.14,153.78" fill="#85ff00"/>
<polygon points="575.36,160.81 579.91,159.68 575.61,155.65 571.05,156.76" fill="#52ff00"/>
<polygon points="543.89,152.78 548.55,151.76 544.16,147.62 539.5,148.61" fill="#fff600"/>
<polygon points="552.91,155.9 557.54,154.84 553.18,150.73 548.55,151.76" fill="#d6ff00"/>
<polygon points="561.88,158.96 566.48,157.86 562.14,153.78 557.54,154.84" fill="#a3ff00"/>
<polygon points="570.8,161.95 575.36,160.81 571.05,156.76 566.48,157.86" fill="#70ff00"/>
<polygon points="548.27,156.95 552.91,155.9 548.55,151.76 543.89,152.78" fill="#f4ff00"/>
<polygon points="557.27,160.04 561.88,158.96 557.54,154.84 552.91,155.9" fill="#c1ff00"/>
<polygon points="566.22,163.07 570.8,161.95 566.48,157.86 561.88,158.96" fill="#8fff00"/>
<polygon points="552.64,161.13 557.27,160.04 552.91,155.9 548.27,156.95" fill="#e0ff00"/>
<polygon points="561.62,164.19 566.22,163.07 561.88,158.96 557.27,160.04" fill="#adff00"/>
<polygon points="557,165.31 561.62,164.19 557.27,160.04 552.64,161.13" fill="#cbff00"/>
</g>
<circle cx="468.4" cy="88.9" r="2.05" fill="#ffe4e4" stroke="#4a2020" stroke-width="0.7"/>
<line x1="517.4" y1="70.5" x2="517.4" y2="77" stroke="#444" stroke-width="0.5"/>
<circle cx="517.4" cy="70.5" r="1.75" fill="#c00000" stroke="#5a0000" stroke-width="0.6"/>
<line x1="561.8" y1="65.9" x2="561.8" y2="71.5" stroke="#444" stroke-width="0.5"/>
<circle cx="561.8" cy="65.9" r="1.75" fill="#c00000" stroke="#5a0000" stroke-width="0.6"/>
<circle cx="559.5" cy="110.2" r="1.75" fill="#c00000" stroke="#5a0000" stroke-width="0.6"/>
<circle cx="510.1" cy="120.2" r="1.75" fill="#c00000" stroke="#5a0000" stroke-width="0.6"/>
<line x1="646.4" y1="134.9" x2="646.4" y2="141.5" stroke="#444" stroke-width="0.5"/>
<circle cx="646.4" cy="134.9" r="1.75" fill="#c00000" stroke="#5a0000" stroke-width="0.6"/>
<circle cx="556.8" cy="165.6" r="1.75" fill="#c00000" stroke="#5a0000" stroke-width="0.6"/>
<text x="554.24" y="236.4" font-size="6.3" fill="#333" text-anchor="end" textLength="6.3" lengthAdjust="spacingAndGlyphs">80</text>
<text x="559.64" y="236.4" font-size="6.3" fill="#333" textLength="6.3" lengthAdjust="spacingAndGlyphs">80</text>
<text x="534.09" y="220.95" font-size="6.3" fill="#333" text-anchor="end" textLength="6.3" lengthAdjust="spacingAndGlyphs">85</text>
<text x="581.04" y="221.81" font-size="6.3" fill="#333" textLength="6.3" lengthAdjust="spacingAndGlyphs">85</text>
<text x="513.94" y="205.49" font-size="6.3" fill="#333" text-anchor="end" textLength="6.3" lengthAdjust="spacingAndGlyphs">90</text>
<text x="602.44" y="207.21" font-size="6.3" fill="#333" textLength="6.3" lengthAdjust="spacingAndGlyphs">90</text>
<text x="493.79" y="190.04" font-size="6.3" fill="#333" text-anchor="end" textLength="6.3" lengthAdjust="spacingAndGlyphs">95</text>
<text x="623.84" y="192.61" font-size="6.3" fill="#333" textLength="6.3" lengthAdjust="spacingAndGlyphs">95</text>
<text x="473.64" y="174.58" font-size="6.3" fill="#333" text-anchor="end" textLength="9.45" lengthAdjust="spacingAndGlyphs">100</text>
<text x="645.24" y="178.01" font-size="6.3" fill="#333" textLength="9.45" lengthAdjust="spacingAndGlyphs">100</text>
<text x="471" y="145.07" font-size="6.3" fill="#333" text-anchor="end" textLength="6.3" lengthAdjust="spacingAndGlyphs">55</text>
<text x="469.47" y="130.32" font-size="6.3" fill="#333" text-anchor="end" textLength="6.3" lengthAdjust="spacingAndGlyphs">60</text>
<text x="467.93" y="115.57" font-size="6.3" fill="#333" text-anchor="end" textLength="6.3" lengthAdjust="spacingAndGlyphs">65</text>
<text x="466.4" y="100.82" font-size="6.3" fill="#333" text-anchor="end" textLength="6.3" lengthAdjust="spacingAndGlyphs">70</text>
<text x="464.86" y="86.08" font-size="6.3" fill="#333" text-anchor="end" textLength="6.3" lengthAdjust="spacingAndGlyphs">75</text>
<text x="463.33" y="71.33" font-size="6.3" fill="#333" text-anchor="end" textLength="6.3" lengthAdjust="spacingAndGlyphs">80</text>
<text x="444.3" y="123" font-size="5.8" fill="#222" text-anchor="middle" textLength="52.5" lengthAdjust="spacingAndGlyphs" transform="rotate(-90 444.3 123)">% Swelling index (%)</text>
<text x="436.9" y="222.3" font-size="5.8" fill="#222" style="white-space:pre" textLength="97.3" lengthAdjust="spacingAndGlyphs">B: Weight  of Guargum:Aloevera (mg)</text>
<text x="597.5" y="225.6" font-size="5.8" fill="#222" textLength="64" lengthAdjust="spacingAndGlyphs">A: Weight of HPMC (mg)</text>
<g stroke="#1c1c1c" stroke-width="0.7" fill="none">
<line x1="475.19" y1="421.69" x2="467.59" y2="312.41" stroke="#1c1c1c" stroke-width="0.7"/>
<line x1="643.29" y1="418.51" x2="650.59" y2="309.99" stroke="#1c1c1c" stroke-width="0.7"/>
<line x1="494.12" y1="387.63" x2="489.65" y2="305.06" stroke="#1c1c1c" stroke-width="0.7"/>
<line x1="622.73" y1="385.37" x2="626.9" y2="303.24" stroke="#1c1c1c" stroke-width="0.7"/>
<line x1="514.77" y1="378.35" x2="511.7" y2="297.7" stroke="#1c1c1c" stroke-width="0.7"/>
<line x1="600.51" y1="376.85" x2="603.2" y2="296.49" stroke="#1c1c1c" stroke-width="0.7"/>
<line x1="535.43" y1="369.08" x2="533.76" y2="290.35" stroke="#1c1c1c" stroke-width="0.7"/>
<line x1="578.3" y1="368.33" x2="579.51" y2="289.75" stroke="#1c1c1c" stroke-width="0.7"/>
<line x1="556.08" y1="359.8" x2="555.81" y2="283" stroke="#1c1c1c" stroke-width="0.7"/>
<line x1="556.08" y1="359.8" x2="555.81" y2="283" stroke="#1c1c1c" stroke-width="0.7"/>
<polyline points="473.47,396.91 556.08,359.8 644.95,393.9"/>
<polyline points="472.49,382.82 556.03,347 645.89,379.91"/>
<polyline points="471.51,368.74 555.99,334.2 646.83,365.93"/>
<polyline points="470.53,354.66 555.94,321.4 647.77,351.94"/>
<polyline points="469.55,340.58 555.9,308.6 648.71,337.96"/>
<polyline points="468.57,326.49 555.86,295.8 649.65,323.97"/>
<polyline points="467.59,312.41 555.81,283 650.59,309.99"/>
</g>
<polygon points="475.19,421.69 564.01,468.1 643.29,418.51 556.15,382.33" fill="#666666" stroke="#2a2a2a" stroke-width="0.6"/>
<g clip-path="url(#fc53)" fill="none" stroke-width="1.2">
<polyline points="834,413.3 507.24,406.66" stroke="#b4d81e"/>
<polyline points="172.6,411 640.1,423.68" stroke="#28d428"/>
<polyline points="263.5,426.6 617.14,437.47" stroke="#08cc78"/>
<polyline points="409.6,446.7 590.5,452.44" stroke="#28b4e0"/>
</g>
<polygon points="475.19,421.69 564.01,468.1 643.29,418.51 556.15,382.33" fill="none" stroke="#2a2a2a" stroke-width="0.6"/>
<circle cx="564.01" cy="468.1" r="0.7" fill="#222" stroke="none" stroke-width="0"/>
<circle cx="564.01" cy="468.1" r="0.7" fill="#222" stroke="none" stroke-width="0"/>
<circle cx="541.81" cy="456.5" r="0.7" fill="#222" stroke="none" stroke-width="0"/>
<circle cx="583.83" cy="455.7" r="0.7" fill="#222" stroke="none" stroke-width="0"/>
<circle cx="519.6" cy="444.9" r="0.7" fill="#222" stroke="none" stroke-width="0"/>
<circle cx="603.65" cy="443.3" r="0.7" fill="#222" stroke="none" stroke-width="0"/>
<circle cx="497.4" cy="433.29" r="0.7" fill="#222" stroke="none" stroke-width="0"/>
<circle cx="623.47" cy="430.91" r="0.7" fill="#222" stroke="none" stroke-width="0"/>
<circle cx="475.19" cy="421.69" r="0.7" fill="#222" stroke="none" stroke-width="0"/>
<circle cx="643.29" cy="418.51" r="0.7" fill="#222" stroke="none" stroke-width="0"/>
<circle cx="473.47" cy="396.91" r="0.7" fill="#222" stroke="none" stroke-width="0"/>
<circle cx="472.49" cy="382.82" r="0.7" fill="#222" stroke="none" stroke-width="0"/>
<circle cx="471.51" cy="368.74" r="0.7" fill="#222" stroke="none" stroke-width="0"/>
<circle cx="470.53" cy="354.66" r="0.7" fill="#222" stroke="none" stroke-width="0"/>
<circle cx="469.55" cy="340.58" r="0.7" fill="#222" stroke="none" stroke-width="0"/>
<circle cx="468.57" cy="326.49" r="0.7" fill="#222" stroke="none" stroke-width="0"/>
<circle cx="467.59" cy="312.41" r="0.7" fill="#222" stroke="none" stroke-width="0"/>
<circle cx="514.6" cy="389.9" r="2.05" fill="#ffe4e4" stroke="#4a2020" stroke-width="0.7"/>
<line x1="647" y1="358.7" x2="647" y2="346" stroke="#444" stroke-width="0.5"/>
<circle cx="647" cy="358.7" r="2.05" fill="#ffe4e4" stroke="#4a2020" stroke-width="0.7"/>
<g stroke="#0c0c0c" stroke-width="0.44" stroke-linejoin="round">
<polygon points="556.18,297.14 560.55,294.06 555.84,291.45 551.47,294.49" fill="#ff1400"/>
<polygon points="551.83,300.23 556.18,297.14 551.47,294.49 547.11,297.55" fill="#ff2e00"/>
<polygon points="560.88,299.79 565.24,296.68 560.55,294.06 556.18,297.14" fill="#ff2900"/>
<polygon points="547.48,303.34 551.83,300.23 547.11,297.55 542.77,300.62" fill="#ff4800"/>
<polygon points="556.53,302.92 560.88,299.79 556.18,297.14 551.83,300.23" fill="#ff4300"/>
<polygon points="565.57,302.46 569.93,299.31 565.24,296.68 560.88,299.79" fill="#ff3f00"/>
<polygon points="543.15,306.46 547.48,303.34 542.77,300.62 538.43,303.71" fill="#ff6200"/>
<polygon points="552.19,306.07 556.53,302.92 551.83,300.23 547.48,303.34" fill="#ff5e00"/>
<polygon points="561.22,305.62 565.57,302.46 560.88,299.79 556.53,302.92" fill="#ff5900"/>
<polygon points="570.25,305.14 574.61,301.96 569.93,299.31 565.57,302.46" fill="#ff5500"/>
<polygon points="538.83,309.6 543.15,306.46 538.43,303.71 534.11,306.82" fill="#ff7c00"/>
<polygon points="547.86,309.23 552.19,306.07 547.48,303.34 543.15,306.46" fill="#ff7800"/>
<polygon points="556.89,308.8 561.22,305.62 556.53,302.92 552.19,306.07" fill="#ff7300"/>
<polygon points="565.91,308.34 570.25,305.14 565.57,302.46 561.22,305.62" fill="#ff6f00"/>
<polygon points="574.93,307.83 579.28,304.61 574.61,301.96 570.25,305.14" fill="#ff6a00"/>
<polygon points="534.52,312.76 538.83,309.6 534.11,306.82 529.79,309.94" fill="#ff9600"/>
<polygon points="543.54,312.4 547.86,309.23 543.15,306.46 538.83,309.6" fill="#ff9200"/>
<polygon points="552.56,312 556.89,308.8 552.19,306.07 547.86,309.23" fill="#ff8d00"/>
<polygon points="561.58,311.55 565.91,308.34 561.22,305.62 556.89,308.8" fill="#ff8900"/>
<polygon points="570.58,311.06 574.93,307.83 570.25,305.14 565.91,308.34" fill="#ff8500"/>
<polygon points="579.59,310.53 583.94,307.28 579.28,304.61 574.93,307.83" fill="#ff8000"/>
<polygon points="530.22,315.93 534.52,312.76 529.79,309.94 525.49,313.07" fill="#ffb100"/>
<polygon points="539.24,315.59 543.54,312.4 538.83,309.6 534.52,312.76" fill="#ffac00"/>
<polygon points="548.25,315.21 552.56,312 547.86,309.23 543.54,312.4" fill="#ffa800"/>
<polygon points="557.25,314.78 561.58,311.55 556.89,308.8 552.56,312" fill="#ffa300"/>
<polygon points="566.25,314.31 570.58,311.06 565.91,308.34 561.58,311.55" fill="#ff9f00"/>
<polygon points="575.25,313.8 579.59,310.53 574.93,307.83 570.58,311.06" fill="#ff9a00"/>
<polygon points="584.24,313.24 588.59,309.96 583.94,307.28 579.59,310.53" fill="#ff9600"/>
<polygon points="525.93,319.12 530.22,315.93 525.49,313.07 521.2,316.22" fill="#ffcb00"/>
<polygon points="534.94,318.8 539.24,315.59 534.52,312.76 530.22,315.93" fill="#ffc600"/>
<polygon points="543.94,318.44 548.25,315.21 543.54,312.4 539.24,315.59" fill="#ffc200"/>
<polygon points="552.94,318.03 557.25,314.78 552.56,312 548.25,315.21" fill="#ffbd00"/>
<polygon points="561.94,317.58 566.25,314.31 561.58,311.55 557.25,314.78" fill="#ffb900"/>
<polygon points="570.92,317.09 575.25,313.8 570.58,311.06 566.25,314.31" fill="#ffb400"/>
<polygon points="579.91,316.55 584.24,313.24 579.59,310.53 575.25,313.8" fill="#ffb000"/>
<polygon points="588.89,315.97 593.23,312.64 588.59,309.96 584.24,313.24" fill="#ffac00"/>
<polygon points="521.65,322.32 525.93,319.12 521.2,316.22 516.92,319.39" fill="#ffe500"/>
<polygon points="530.66,322.02 534.94,318.8 530.22,315.93 525.93,319.12" fill="#ffe000"/>
<polygon points="539.65,321.68 543.94,318.44 539.24,315.59 534.94,318.8" fill="#ffdc00"/>
<polygon points="548.64,321.29 552.94,318.03 548.25,315.21 543.94,318.44" fill="#ffd800"/>
<polygon points="557.63,320.86 561.94,317.58 557.25,314.78 552.94,318.03" fill="#ffd300"/>
<polygon points="566.61,320.39 570.92,317.09 566.25,314.31 561.94,317.58" fill="#ffcf00"/>
<polygon points="575.58,319.87 579.91,316.55 575.25,313.8 570.92,317.09" fill="#ffca00"/>
<polygon points="584.55,319.31 588.89,315.97 584.24,313.24 579.91,316.55" fill="#ffc600"/>
<polygon points="593.52,318.71 597.86,315.35 593.23,312.64 588.89,315.97" fill="#ffc100"/>
<polygon points="517.39,325.53 521.65,322.32 516.92,319.39 512.65,322.57" fill="#ffff00"/>
<polygon points="526.38,325.26 530.66,322.02 525.93,319.12 521.65,322.32" fill="#fffb00"/>
<polygon points="535.37,324.94 539.65,321.68 534.94,318.8 530.66,322.02" fill="#fff600"/>
<polygon points="544.35,324.57 548.64,321.29 543.94,318.44 539.65,321.68" fill="#fff200"/>
<polygon points="553.33,324.16 557.63,320.86 552.94,318.03 548.64,321.29" fill="#ffed00"/>
<polygon points="562.3,323.71 566.61,320.39 561.94,317.58 557.63,320.86" fill="#ffe900"/>
<polygon points="571.27,323.21 575.58,319.87 570.92,317.09 566.61,320.39" fill="#ffe400"/>
<polygon points="580.23,322.67 584.55,319.31 579.91,316.55 575.58,319.87" fill="#ffe000"/>
<polygon points="589.19,322.08 593.52,318.71 588.89,315.97 584.55,319.31" fill="#ffdc00"/>
<polygon points="598.15,321.45 602.48,318.06 597.86,315.35 593.52,318.71" fill="#ffd700"/>
<polygon points="513.13,328.77 517.39,325.53 512.65,322.57 508.39,325.77" fill="#e5ff00"/>
<polygon points="522.12,328.51 526.38,325.26 521.65,322.32 517.39,325.53" fill="#e9ff00"/>
<polygon points="531.1,328.21 535.37,324.94 530.66,322.02 526.38,325.26" fill="#eeff00"/>
<polygon points="540.07,327.86 544.35,324.57 539.65,321.68 535.37,324.94" fill="#f2ff00"/>
<polygon points="549.04,327.47 553.33,324.16 548.64,321.29 544.35,324.57" fill="#f7ff00"/>
<polygon points="558.01,327.04 562.3,323.71 557.63,320.86 553.33,324.16" fill="#fbff00"/>
<polygon points="566.97,326.56 571.27,323.21 566.61,320.39 562.3,323.71" fill="#ffff00"/>
<polygon points="575.93,326.04 580.23,322.67 575.58,319.87 571.27,323.21" fill="#fffa00"/>
<polygon points="584.88,325.47 589.19,322.08 584.55,319.31 580.23,322.67" fill="#fff600"/>
<polygon points="593.82,324.86 598.15,321.45 593.52,318.71 589.19,322.08" fill="#fff100"/>
<polygon points="602.76,324.21 607.09,320.78 602.48,318.06 598.15,321.45" fill="#ffed00"/>
<polygon points="508.89,332.02 513.13,328.77 508.39,325.77 504.14,328.98" fill="#cbff00"/>
<polygon points="517.87,331.78 522.12,328.51 517.39,325.53 513.13,328.77" fill="#cfff00"/>
<polygon points="526.84,331.5 531.1,328.21 526.38,325.26 522.12,328.51" fill="#d4ff00"/>
<polygon points="535.81,331.17 540.07,327.86 535.37,324.94 531.1,328.21" fill="#d8ff00"/>
<polygon points="544.77,330.8 549.04,327.47 544.35,324.57 540.07,327.86" fill="#dcff00"/>
<polygon points="553.73,330.39 558.01,327.04 553.33,324.16 549.04,327.47" fill="#e1ff00"/>
<polygon points="562.68,329.93 566.97,326.56 562.3,323.71 558.01,327.04" fill="#e5ff00"/>
<polygon points="571.63,329.43 575.93,326.04 571.27,323.21 566.97,326.56" fill="#eaff00"/>
<polygon points="580.57,328.88 584.88,325.47 580.23,322.67 575.93,326.04" fill="#eeff00"/>
<polygon points="589.51,328.29 593.82,324.86 589.19,322.08 584.88,325.47" fill="#f3ff00"/>
<polygon points="598.44,327.66 602.76,324.21 598.15,321.45 593.82,324.86" fill="#f7ff00"/>
<polygon points="607.37,326.98 611.7,323.51 607.09,320.78 602.76,324.21" fill="#fbff00"/>
<polygon points="504.66,335.28 508.89,332.02 504.14,328.98 499.91,332.21" fill="#b1ff00"/>
<polygon points="513.63,335.06 517.87,331.78 513.13,328.77 508.89,332.02" fill="#b5ff00"/>
<polygon points="522.59,334.8 526.84,331.5 522.12,328.51 517.87,331.78" fill="#b9ff00"/>
<polygon points="531.55,334.5 535.81,331.17 531.1,328.21 526.84,331.5" fill="#beff00"/>
<polygon points="540.51,334.15 544.77,330.8 540.07,327.86 535.81,331.17" fill="#c2ff00"/>
<polygon points="549.46,333.76 553.73,330.39 549.04,327.47 544.77,330.8" fill="#c7ff00"/>
<polygon points="558.4,333.32 562.68,329.93 558.01,327.04 553.73,330.39" fill="#cbff00"/>
<polygon points="567.34,332.84 571.63,329.43 566.97,326.56 562.68,329.93" fill="#d0ff00"/>
<polygon points="576.27,332.31 580.57,328.88 575.93,326.04 571.63,329.43" fill="#d4ff00"/>
<polygon points="585.2,331.74 589.51,328.29 584.88,325.47 580.57,328.88" fill="#d8ff00"/>
<polygon points="594.13,331.12 598.44,327.66 593.82,324.86 589.51,328.29" fill="#ddff00"/>
<polygon points="603.05,330.46 607.37,326.98 602.76,324.21 598.44,327.66" fill="#e1ff00"/>
<polygon points="611.97,329.76 616.29,326.26 611.7,323.51 607.37,326.98" fill="#e6ff00"/>
<polygon points="500.44,338.56 504.66,335.28 499.91,332.21 495.68,335.45" fill="#96ff00"/>
<polygon points="509.4,338.36 513.63,335.06 508.89,332.02 504.66,335.28" fill="#9bff00"/>
<polygon points="518.35,338.12 522.59,334.8 517.87,331.78 513.63,335.06" fill="#9fff00"/>
<polygon points="527.31,337.84 531.55,334.5 526.84,331.5 522.59,334.8" fill="#a4ff00"/>
<polygon points="536.25,337.51 540.51,334.15 535.81,331.17 531.55,334.5" fill="#a8ff00"/>
<polygon points="545.19,337.14 549.46,333.76 544.77,330.8 540.51,334.15" fill="#adff00"/>
<polygon points="554.13,336.72 558.4,333.32 553.73,330.39 549.46,333.76" fill="#b1ff00"/>
<polygon points="563.06,336.26 567.34,332.84 562.68,329.93 558.4,333.32" fill="#b5ff00"/>
<polygon points="571.99,335.75 576.27,332.31 571.63,329.43 567.34,332.84" fill="#baff00"/>
<polygon points="580.91,335.2 585.2,331.74 580.57,328.88 576.27,332.31" fill="#beff00"/>
<polygon points="589.83,334.61 594.13,331.12 589.51,328.29 585.2,331.74" fill="#c3ff00"/>
<polygon points="598.74,333.97 603.05,330.46 598.44,327.66 594.13,331.12" fill="#c7ff00"/>
<polygon points="607.65,333.28 611.97,329.76 607.37,326.98 603.05,330.46" fill="#ccff00"/>
<polygon points="616.55,332.55 620.88,329.02 616.29,326.26 611.97,329.76" fill="#d0ff00"/>
<polygon points="496.23,341.85 500.44,338.56 495.68,335.45 491.47,338.71" fill="#7cff00"/>
<polygon points="505.18,341.68 509.4,338.36 504.66,335.28 500.44,338.56" fill="#81ff00"/>
<polygon points="514.13,341.46 518.35,338.12 513.63,335.06 509.4,338.36" fill="#85ff00"/>
<polygon points="523.07,341.2 527.31,337.84 522.59,334.8 518.35,338.12" fill="#89ff00"/>
<polygon points="532.01,340.89 536.25,337.51 531.55,334.5 527.31,337.84" fill="#8eff00"/>
<polygon points="540.94,340.54 545.19,337.14 540.51,334.15 536.25,337.51" fill="#92ff00"/>
<polygon points="549.87,340.14 554.13,336.72 549.46,333.76 545.19,337.14" fill="#97ff00"/>
<polygon points="558.8,339.7 563.06,336.26 558.4,333.32 554.13,336.72" fill="#9bff00"/>
<polygon points="567.72,339.21 571.99,335.75 567.34,332.84 563.06,336.26" fill="#a0ff00"/>
<polygon points="576.63,338.68 580.91,335.2 576.27,332.31 571.99,335.75" fill="#a4ff00"/>
<polygon points="585.54,338.1 589.83,334.61 585.2,331.74 580.91,335.2" fill="#a9ff00"/>
<polygon points="594.45,337.48 598.74,333.97 594.13,331.12 589.83,334.61" fill="#adff00"/>
<polygon points="603.35,336.82 607.65,333.28 603.05,330.46 598.74,333.97" fill="#b1ff00"/>
<polygon points="612.24,336.11 616.55,332.55 611.97,329.76 607.65,333.28" fill="#b6ff00"/>
<polygon points="621.13,335.36 625.45,331.78 620.88,329.02 616.55,332.55" fill="#baff00"/>
<polygon points="492.03,345.16 496.23,341.85 491.47,338.71 487.27,341.98" fill="#62ff00"/>
<polygon points="500.97,345.01 505.18,341.68 500.44,338.56 496.23,341.85" fill="#66ff00"/>
<polygon points="509.91,344.81 514.13,341.46 509.4,338.36 505.18,341.68" fill="#6bff00"/>
<polygon points="518.85,344.57 523.07,341.2 518.35,338.12 514.13,341.46" fill="#6fff00"/>
<polygon points="527.78,344.28 532.01,340.89 527.31,337.84 523.07,341.2" fill="#74ff00"/>
<polygon points="536.71,343.95 540.94,340.54 536.25,337.51 532.01,340.89" fill="#78ff00"/>
<polygon points="545.63,343.57 549.87,340.14 545.19,337.14 540.94,340.54" fill="#7dff00"/>
<polygon points="554.54,343.15 558.8,339.7 554.13,336.72 549.87,340.14" fill="#81ff00"/>
<polygon points="563.46,342.69 567.72,339.21 563.06,336.26 558.8,339.7" fill="#85ff00"/>
<polygon points="572.36,342.18 576.63,338.68 571.99,335.75 567.72,339.21" fill="#8aff00"/>
<polygon points="581.26,341.62 585.54,338.1 580.91,335.2 576.63,338.68" fill="#8eff00"/>
<polygon points="590.16,341.02 594.45,337.48 589.83,334.61 585.54,338.1" fill="#93ff00"/>
<polygon points="599.05,340.37 603.35,336.82 598.74,333.97 594.45,337.48" fill="#97ff00"/>
<polygon points="607.94,339.69 612.24,336.11 607.65,333.28 603.35,336.82" fill="#9cff00"/>
<polygon points="616.82,338.95 621.13,335.36 616.55,332.55 612.24,336.11" fill="#a0ff00"/>
<polygon points="625.7,338.17 630.02,334.56 625.45,331.78 621.13,335.36" fill="#a5ff00"/>
<polygon points="487.84,348.49 492.03,345.16 487.27,341.98 483.08,345.27" fill="#48ff00"/>
<polygon points="496.78,348.36 500.97,345.01 496.23,341.85 492.03,345.16" fill="#4cff00"/>
<polygon points="505.71,348.18 509.91,344.81 505.18,341.68 500.97,345.01" fill="#51ff00"/>
<polygon points="514.64,347.96 518.85,344.57 514.13,341.46 509.91,344.81" fill="#55ff00"/>
<polygon points="523.56,347.69 527.78,344.28 523.07,341.2 518.85,344.57" fill="#5aff00"/>
<polygon points="532.48,347.38 536.71,343.95 532.01,340.89 527.78,344.28" fill="#5eff00"/>
<polygon points="541.39,347.03 545.63,343.57 540.94,340.54 536.71,343.95" fill="#62ff00"/>
<polygon points="550.3,346.62 554.54,343.15 549.87,340.14 545.63,343.57" fill="#67ff00"/>
<polygon points="559.2,346.18 563.46,342.69 558.8,339.7 554.54,343.15" fill="#6bff00"/>
<polygon points="568.1,345.69 572.36,342.18 567.72,339.21 563.46,342.69" fill="#70ff00"/>
<polygon points="577,345.15 581.26,341.62 576.63,338.68 572.36,342.18" fill="#74ff00"/>
<polygon points="585.89,344.57 590.16,341.02 585.54,338.1 581.26,341.62" fill="#79ff00"/>
<polygon points="594.77,343.95 599.05,340.37 594.45,337.48 590.16,341.02" fill="#7dff00"/>
<polygon points="603.65,343.28 607.94,339.69 603.35,336.82 599.05,340.37" fill="#81ff00"/>
<polygon points="612.53,342.56 616.82,338.95 612.24,336.11 607.94,339.69" fill="#86ff00"/>
<polygon points="621.39,341.8 625.7,338.17 621.13,335.36 616.82,338.95" fill="#8aff00"/>
<polygon points="630.26,341 634.57,337.35 630.02,334.56 625.7,338.17" fill="#8fff00"/>
<polygon points="483.66,351.83 487.84,348.49 483.08,345.27 478.9,348.57" fill="#2eff00"/>
<polygon points="492.59,351.72 496.78,348.36 492.03,345.16 487.84,348.49" fill="#32ff00"/>
<polygon points="501.52,351.56 505.71,348.18 500.97,345.01 496.78,348.36" fill="#37ff00"/>
<polygon points="510.44,351.36 514.64,347.96 509.91,344.81 505.71,348.18" fill="#3bff00"/>
<polygon points="519.35,351.12 523.56,347.69 518.85,344.57 514.64,347.96" fill="#3fff00"/>
<polygon points="528.26,350.83 532.48,347.38 527.78,344.28 523.56,347.69" fill="#44ff00"/>
<polygon points="537.17,350.49 541.39,347.03 536.71,343.95 532.48,347.38" fill="#48ff00"/>
<polygon points="546.07,350.11 550.3,346.62 545.63,343.57 541.39,347.03" fill="#4dff00"/>
<polygon points="554.96,349.69 559.2,346.18 554.54,343.15 550.3,346.62" fill="#51ff00"/>
<polygon points="563.85,349.22 568.1,345.69 563.46,342.69 559.2,346.18" fill="#56ff00"/>
<polygon points="572.74,348.7 577,345.15 572.36,342.18 568.1,345.69" fill="#5aff00"/>
<polygon points="581.62,348.14 585.89,344.57 581.26,341.62 577,345.15" fill="#5eff00"/>
<polygon points="590.5,347.53 594.77,343.95 590.16,341.02 585.89,344.57" fill="#63ff00"/>
<polygon points="599.37,346.88 603.65,343.28 599.05,340.37 594.77,343.95" fill="#67ff00"/>
<polygon points="608.24,346.19 612.53,342.56 607.94,339.69 603.65,343.28" fill="#6cff00"/>
<polygon points="617.1,345.45 621.39,341.8 616.82,338.95 612.53,342.56" fill="#70ff00"/>
<polygon points="625.96,344.67 630.26,341 625.7,338.17 621.39,341.8" fill="#75ff00"/>
<polygon points="634.81,343.84 639.12,340.15 634.57,337.35 630.26,341" fill="#79ff00"/>
<polygon points="479.5,355.18 483.66,351.83 478.9,348.57 474.73,351.89" fill="#14ff00"/>
<polygon points="488.42,355.09 492.59,351.72 487.84,348.49 483.66,351.83" fill="#18ff00"/>
<polygon points="497.33,354.96 501.52,351.56 496.78,348.36 492.59,351.72" fill="#1cff00"/>
<polygon points="506.25,354.78 510.44,351.36 505.71,348.18 501.52,351.56" fill="#21ff00"/>
<polygon points="515.15,354.56 519.35,351.12 514.64,347.96 510.44,351.36" fill="#25ff00"/>
<polygon points="524.06,354.29 528.26,350.83 523.56,347.69 519.35,351.12" fill="#2aff00"/>
<polygon points="532.95,353.98 537.17,350.49 532.48,347.38 528.26,350.83" fill="#2eff00"/>
<polygon points="541.85,353.62 546.07,350.11 541.39,347.03 537.17,350.49" fill="#33ff00"/>
<polygon points="550.73,353.21 554.96,349.69 550.3,346.62 546.07,350.11" fill="#37ff00"/>
<polygon points="559.62,352.76 563.85,349.22 559.2,346.18 554.96,349.69" fill="#3bff00"/>
<polygon points="568.5,352.27 572.74,348.7 568.1,345.69 563.85,349.22" fill="#40ff00"/>
<polygon points="577.37,351.73 581.62,348.14 577,345.15 572.74,348.7" fill="#44ff00"/>
<polygon points="586.24,351.14 590.5,347.53 585.89,344.57 581.62,348.14" fill="#49ff00"/>
<polygon points="595.1,350.51 599.37,346.88 594.77,343.95 590.5,347.53" fill="#4dff00"/>
<polygon points="603.96,349.83 608.24,346.19 603.65,343.28 599.37,346.88" fill="#52ff00"/>
<polygon points="612.82,349.11 617.1,345.45 612.53,342.56 608.24,346.19" fill="#56ff00"/>
<polygon points="621.67,348.35 625.96,344.67 621.39,341.8 617.1,345.45" fill="#5aff00"/>
<polygon points="630.51,347.54 634.81,343.84 630.26,341 625.96,344.67" fill="#5fff00"/>
<polygon points="639.35,346.69 643.66,342.97 639.12,340.15 634.81,343.84" fill="#63ff00"/>
<polygon points="475.34,358.55 479.5,355.18 474.73,351.89 470.57,355.22" fill="#00ff07"/>
<polygon points="484.26,358.49 488.42,355.09 483.66,351.83 479.5,355.18" fill="#00ff02"/>
<polygon points="493.16,358.38 497.33,354.96 492.59,351.72 488.42,355.09" fill="#02ff00"/>
<polygon points="502.07,358.22 506.25,354.78 501.52,351.56 497.33,354.96" fill="#07ff00"/>
<polygon points="510.97,358.02 515.15,354.56 510.44,351.36 506.25,354.78" fill="#0bff00"/>
<polygon points="519.86,357.77 524.06,354.29 519.35,351.12 515.15,354.56" fill="#10ff00"/>
<polygon points="528.75,357.48 532.95,353.98 528.26,350.83 524.06,354.29" fill="#14ff00"/>
<polygon points="537.64,357.14 541.85,353.62 537.17,350.49 532.95,353.98" fill="#18ff00"/>
<polygon points="546.52,356.75 550.73,353.21 546.07,350.11 541.85,353.62" fill="#1dff00"/>
<polygon points="555.39,356.32 559.62,352.76 554.96,349.69 550.73,353.21" fill="#21ff00"/>
<polygon points="564.26,355.85 568.5,352.27 563.85,349.22 559.62,352.76" fill="#26ff00"/>
<polygon points="573.13,355.33 577.37,351.73 572.74,348.7 568.5,352.27" fill="#2aff00"/>
<polygon points="581.99,354.76 586.24,351.14 581.62,348.14 577.37,351.73" fill="#2fff00"/>
<polygon points="590.85,354.15 595.1,350.51 590.5,347.53 586.24,351.14" fill="#33ff00"/>
<polygon points="599.7,353.5 603.96,349.83 599.37,346.88 595.1,350.51" fill="#37ff00"/>
<polygon points="608.54,352.8 612.82,349.11 608.24,346.19 603.96,349.83" fill="#3cff00"/>
<polygon points="617.39,352.05 621.67,348.35 617.1,345.45 612.82,349.11" fill="#40ff00"/>
<polygon points="626.22,351.26 630.51,347.54 625.96,344.67 621.67,348.35" fill="#45ff00"/>
<polygon points="635.06,350.43 639.35,346.69 634.81,343.84 630.51,347.54" fill="#49ff00"/>
<polygon points="643.88,349.55 648.19,345.79 643.66,342.97 639.35,346.69" fill="#4eff00"/>
<polygon points="480.1,361.9 484.26,358.49 479.5,355.18 475.34,358.55" fill="#00ff1c"/>
<polygon points="489,361.81 493.16,358.38 488.42,355.09 484.26,358.49" fill="#00ff18"/>
<polygon points="497.9,361.67 502.07,358.22 497.33,354.96 493.16,358.38" fill="#00ff14"/>
<polygon points="506.79,361.49 510.97,358.02 506.25,354.78 502.07,358.22" fill="#00ff0f"/>
<polygon points="515.68,361.27 519.86,357.77 515.15,354.56 510.97,358.02" fill="#00ff0b"/>
<polygon points="524.56,360.99 528.75,357.48 524.06,354.29 519.86,357.77" fill="#00ff06"/>
<polygon points="533.44,360.68 537.64,357.14 532.95,353.98 528.75,357.48" fill="#00ff02"/>
<polygon points="542.31,360.31 546.52,356.75 541.85,353.62 537.64,357.14" fill="#03ff00"/>
<polygon points="551.18,359.9 555.39,356.32 550.73,353.21 546.52,356.75" fill="#07ff00"/>
<polygon points="560.04,359.45 564.26,355.85 559.62,352.76 555.39,356.32" fill="#0cff00"/>
<polygon points="568.9,358.95 573.13,355.33 568.5,352.27 564.26,355.85" fill="#10ff00"/>
<polygon points="577.75,358.4 581.99,354.76 577.37,351.73 573.13,355.33" fill="#14ff00"/>
<polygon points="586.6,357.81 590.85,354.15 586.24,351.14 581.99,354.76" fill="#19ff00"/>
<polygon points="595.44,357.18 599.7,353.5 595.1,350.51 590.85,354.15" fill="#1dff00"/>
<polygon points="604.28,356.5 608.54,352.8 603.96,349.83 599.7,353.5" fill="#22ff00"/>
<polygon points="613.12,355.77 617.39,352.05 612.82,349.11 608.54,352.8" fill="#26ff00"/>
<polygon points="621.95,355 626.22,351.26 621.67,348.35 617.39,352.05" fill="#2bff00"/>
<polygon points="630.77,354.19 635.06,350.43 630.51,347.54 626.22,351.26" fill="#2fff00"/>
<polygon points="639.59,353.33 643.88,349.55 639.35,346.69 635.06,350.43" fill="#33ff00"/>
<polygon points="484.86,365.25 489,361.81 484.26,358.49 480.1,361.9" fill="#00ff32"/>
<polygon points="493.74,365.14 497.9,361.67 493.16,358.38 489,361.81" fill="#00ff2e"/>
<polygon points="502.63,364.98 506.79,361.49 502.07,358.22 497.9,361.67" fill="#00ff29"/>
<polygon points="511.5,364.78 515.68,361.27 510.97,358.02 506.79,361.49" fill="#00ff25"/>
<polygon points="520.38,364.53 524.56,360.99 519.86,357.77 515.68,361.27" fill="#00ff20"/>
<polygon points="529.25,364.23 533.44,360.68 528.75,357.48 524.56,360.99" fill="#00ff1c"/>
<polygon points="538.11,363.89 542.31,360.31 537.64,357.14 533.44,360.68" fill="#00ff18"/>
<polygon points="546.97,363.5 551.18,359.9 546.52,356.75 542.31,360.31" fill="#00ff13"/>
<polygon points="555.83,363.06 560.04,359.45 555.39,356.32 551.18,359.9" fill="#00ff0f"/>
<polygon points="564.68,362.58 568.9,358.95 564.26,355.85 560.04,359.45" fill="#00ff0a"/>
<polygon points="573.52,362.06 577.75,358.4 573.13,355.33 568.9,358.95" fill="#00ff06"/>
<polygon points="582.36,361.49 586.6,357.81 581.99,354.76 577.75,358.4" fill="#00ff01"/>
<polygon points="591.2,360.87 595.44,357.18 590.85,354.15 586.6,357.81" fill="#03ff00"/>
<polygon points="600.03,360.21 604.28,356.5 599.7,353.5 595.44,357.18" fill="#08ff00"/>
<polygon points="608.86,359.51 613.12,355.77 608.54,352.8 604.28,356.5" fill="#0cff00"/>
<polygon points="617.68,358.76 621.95,355 617.39,352.05 613.12,355.77" fill="#10ff00"/>
<polygon points="626.5,357.96 630.77,354.19 626.22,351.26 621.95,355" fill="#15ff00"/>
<polygon points="635.31,357.12 639.59,353.33 635.06,350.43 630.77,354.19" fill="#19ff00"/>
<polygon points="489.6,368.62 493.74,365.14 489,361.81 484.86,365.25" fill="#00ff48"/>
<polygon points="498.47,368.49 502.63,364.98 497.9,361.67 493.74,365.14" fill="#00ff43"/>
<polygon points="507.34,368.3 511.5,364.78 506.79,361.49 502.63,364.98" fill="#00ff3f"/>
<polygon points="516.21,368.07 520.38,364.53 515.68,361.27 511.5,364.78" fill="#00ff3b"/>
<polygon points="525.07,367.8 529.25,364.23 524.56,360.99 520.38,364.53" fill="#00ff36"/>
<polygon points="533.93,367.48 538.11,363.89 533.44,360.68 529.25,364.23" fill="#00ff32"/>
<polygon points="542.78,367.11 546.97,363.5 542.31,360.31 538.11,363.89" fill="#00ff2d"/>
<polygon points="551.62,366.7 555.83,363.06 551.18,359.9 546.97,363.5" fill="#00ff29"/>
<polygon points="560.47,366.24 564.68,362.58 560.04,359.45 555.83,363.06" fill="#00ff24"/>
<polygon points="569.3,365.73 573.52,362.06 568.9,358.95 564.68,362.58" fill="#00ff20"/>
<polygon points="578.14,365.18 582.36,361.49 577.75,358.4 573.52,362.06" fill="#00ff1b"/>
<polygon points="586.97,364.59 591.2,360.87 586.6,357.81 582.36,361.49" fill="#00ff17"/>
<polygon points="595.79,363.95 600.03,360.21 595.44,357.18 591.2,360.87" fill="#00ff13"/>
<polygon points="604.61,363.26 608.86,359.51 604.28,356.5 600.03,360.21" fill="#00ff0e"/>
<polygon points="613.42,362.53 617.68,358.76 613.12,355.77 608.86,359.51" fill="#00ff0a"/>
<polygon points="622.23,361.75 626.5,357.96 621.95,355 617.68,358.76" fill="#00ff05"/>
<polygon points="631.04,360.93 635.31,357.12 630.77,354.19 626.5,357.96" fill="#00ff01"/>
<polygon points="494.33,372.01 498.47,368.49 493.74,365.14 489.6,368.62" fill="#00ff5e"/>
<polygon points="503.19,371.85 507.34,368.3 502.63,364.98 498.47,368.49" fill="#00ff59"/>
<polygon points="512.05,371.64 516.21,368.07 511.5,364.78 507.34,368.3" fill="#00ff55"/>
<polygon points="520.9,371.38 525.07,367.8 520.38,364.53 516.21,368.07" fill="#00ff50"/>
<polygon points="529.75,371.08 533.93,367.48 529.25,364.23 525.07,367.8" fill="#00ff4c"/>
<polygon points="538.59,370.74 542.78,367.11 538.11,363.89 533.93,367.48" fill="#00ff47"/>
<polygon points="547.43,370.35 551.62,366.7 546.97,363.5 542.78,367.11" fill="#00ff43"/>
<polygon points="556.27,369.91 560.47,366.24 555.83,363.06 551.62,366.7" fill="#00ff3f"/>
<polygon points="565.1,369.42 569.3,365.73 564.68,362.58 560.47,366.24" fill="#00ff3a"/>
<polygon points="573.92,368.9 578.14,365.18 573.52,362.06 569.3,365.73" fill="#00ff36"/>
<polygon points="582.74,368.32 586.97,364.59 582.36,361.49 578.14,365.18" fill="#00ff31"/>
<polygon points="591.56,367.7 595.79,363.95 591.2,360.87 586.97,364.59" fill="#00ff2d"/>
<polygon points="600.37,367.03 604.61,363.26 600.03,360.21 595.79,363.95" fill="#00ff28"/>
<polygon points="609.18,366.32 613.42,362.53 608.86,359.51 604.61,363.26" fill="#00ff24"/>
<polygon points="617.98,365.57 622.23,361.75 617.68,358.76 613.42,362.53" fill="#00ff1f"/>
<polygon points="626.78,364.76 631.04,360.93 626.5,357.96 622.23,361.75" fill="#00ff1b"/>
<polygon points="499.05,375.41 503.19,371.85 498.47,368.49 494.33,372.01" fill="#00ff73"/>
<polygon points="507.9,375.22 512.05,371.64 507.34,368.3 503.19,371.85" fill="#00ff6f"/>
<polygon points="516.75,374.99 520.9,371.38 516.21,368.07 512.05,371.64" fill="#00ff6a"/>
<polygon points="525.59,374.71 529.75,371.08 525.07,367.8 520.9,371.38" fill="#00ff66"/>
<polygon points="534.42,374.38 538.59,370.74 533.93,367.48 529.75,371.08" fill="#00ff62"/>
<polygon points="543.25,374.01 547.43,370.35 542.78,367.11 538.59,370.74" fill="#00ff5d"/>
<polygon points="552.08,373.6 556.27,369.91 551.62,366.7 547.43,370.35" fill="#00ff59"/>
<polygon points="560.9,373.13 565.1,369.42 560.47,366.24 556.27,369.91" fill="#00ff54"/>
<polygon points="569.72,372.62 573.92,368.9 569.3,365.73 565.1,369.42" fill="#00ff50"/>
<polygon points="578.53,372.07 582.74,368.32 578.14,365.18 573.92,368.9" fill="#00ff4b"/>
<polygon points="587.34,371.47 591.56,367.7 586.97,364.59 582.74,368.32" fill="#00ff47"/>
<polygon points="596.14,370.82 600.37,367.03 595.79,363.95 591.56,367.7" fill="#00ff43"/>
<polygon points="604.94,370.13 609.18,366.32 604.61,363.26 600.37,367.03" fill="#00ff3e"/>
<polygon points="613.74,369.39 617.98,365.57 613.42,362.53 609.18,366.32" fill="#00ff3a"/>
<polygon points="622.53,368.61 626.78,364.76 622.23,361.75 617.98,365.57" fill="#00ff35"/>
<polygon points="503.76,378.82 507.9,375.22 503.19,371.85 499.05,375.41" fill="#00ff89"/>
<polygon points="512.6,378.61 516.75,374.99 512.05,371.64 507.9,375.22" fill="#00ff85"/>
<polygon points="521.43,378.35 525.59,374.71 520.9,371.38 516.75,374.99" fill="#00ff80"/>
<polygon points="530.26,378.05 534.42,374.38 529.75,371.08 525.59,374.71" fill="#00ff7c"/>
<polygon points="539.08,377.7 543.25,374.01 538.59,370.74 534.42,374.38" fill="#00ff77"/>
<polygon points="547.9,377.3 552.08,373.6 547.43,370.35 543.25,374.01" fill="#00ff73"/>
<polygon points="556.72,376.86 560.9,373.13 556.27,369.91 552.08,373.6" fill="#00ff6e"/>
<polygon points="565.53,376.37 569.72,372.62 565.1,369.42 560.9,373.13" fill="#00ff6a"/>
<polygon points="574.33,375.84 578.53,372.07 573.92,368.9 569.72,372.62" fill="#00ff66"/>
<polygon points="583.13,375.26 587.34,371.47 582.74,368.32 578.53,372.07" fill="#00ff61"/>
<polygon points="591.93,374.63 596.14,370.82 591.56,367.7 587.34,371.47" fill="#00ff5d"/>
<polygon points="600.72,373.96 604.94,370.13 600.37,367.03 596.14,370.82" fill="#00ff58"/>
<polygon points="609.5,373.24 613.74,369.39 609.18,366.32 604.94,370.13" fill="#00ff54"/>
<polygon points="618.29,372.48 622.53,368.61 617.98,365.57 613.74,369.39" fill="#00ff4f"/>
<polygon points="508.47,382.24 512.6,378.61 507.9,375.22 503.76,378.82" fill="#00ff9f"/>
<polygon points="517.29,382.01 521.43,378.35 516.75,374.99 512.6,378.61" fill="#00ff9a"/>
<polygon points="526.11,381.72 530.26,378.05 525.59,374.71 521.43,378.35" fill="#00ff96"/>
<polygon points="534.93,381.4 539.08,377.7 534.42,374.38 530.26,378.05" fill="#00ff91"/>
<polygon points="543.74,381.02 547.9,377.3 543.25,374.01 539.08,377.7" fill="#00ff8d"/>
<polygon points="552.54,380.6 556.72,376.86 552.08,373.6 547.9,377.3" fill="#00ff89"/>
<polygon points="561.34,380.13 565.53,376.37 560.9,373.13 556.72,376.86" fill="#00ff84"/>
<polygon points="570.14,379.62 574.33,375.84 569.72,372.62 565.53,376.37" fill="#00ff80"/>
<polygon points="578.93,379.06 583.13,375.26 578.53,372.07 574.33,375.84" fill="#00ff7b"/>
<polygon points="587.72,378.45 591.93,374.63 587.34,371.47 583.13,375.26" fill="#00ff77"/>
<polygon points="596.5,377.8 600.72,373.96 596.14,370.82 591.93,374.63" fill="#00ff72"/>
<polygon points="605.28,377.11 609.5,373.24 604.94,370.13 600.72,373.96" fill="#00ff6e"/>
<polygon points="614.06,376.36 618.29,372.48 613.74,369.39 609.5,373.24" fill="#00ff6a"/>
<polygon points="513.16,385.68 517.29,382.01 512.6,378.61 508.47,382.24" fill="#00ffb4"/>
<polygon points="521.97,385.42 526.11,381.72 521.43,378.35 517.29,382.01" fill="#00ffb0"/>
<polygon points="530.78,385.11 534.93,381.4 530.26,378.05 526.11,381.72" fill="#00ffac"/>
<polygon points="539.58,384.76 543.74,381.02 539.08,377.7 534.93,381.4" fill="#00ffa7"/>
<polygon points="548.38,384.36 552.54,380.6 547.9,377.3 543.74,381.02" fill="#00ffa3"/>
<polygon points="557.17,383.91 561.34,380.13 556.72,376.86 552.54,380.6" fill="#00ff9e"/>
<polygon points="565.96,383.42 570.14,379.62 565.53,376.37 561.34,380.13" fill="#00ff9a"/>
<polygon points="574.75,382.88 578.93,379.06 574.33,375.84 570.14,379.62" fill="#00ff95"/>
<polygon points="583.53,382.3 587.72,378.45 583.13,375.26 578.93,379.06" fill="#00ff91"/>
<polygon points="592.3,381.67 596.5,377.8 591.93,374.63 587.72,378.45" fill="#00ff8d"/>
<polygon points="601.07,380.99 605.28,377.11 600.72,373.96 596.5,377.8" fill="#00ff88"/>
<polygon points="609.84,380.27 614.06,376.36 609.5,373.24 605.28,377.11" fill="#00ff84"/>
<polygon points="517.84,389.13 521.97,385.42 517.29,382.01 513.16,385.68" fill="#00ffca"/>
<polygon points="526.64,388.85 530.78,385.11 526.11,381.72 521.97,385.42" fill="#00ffc6"/>
<polygon points="535.44,388.51 539.58,384.76 534.93,381.4 530.78,385.11" fill="#00ffc1"/>
<polygon points="544.23,388.14 548.38,384.36 543.74,381.02 539.58,384.76" fill="#00ffbd"/>
<polygon points="553.01,387.71 557.17,383.91 552.54,380.6 548.38,384.36" fill="#00ffb8"/>
<polygon points="561.79,387.24 565.96,383.42 561.34,380.13 557.17,383.91" fill="#00ffb4"/>
<polygon points="570.57,386.72 574.75,382.88 570.14,379.62 565.96,383.42" fill="#00ffb0"/>
<polygon points="579.34,386.16 583.53,382.3 578.93,379.06 574.75,382.88" fill="#00ffab"/>
<polygon points="588.11,385.55 592.3,381.67 587.72,378.45 583.53,382.3" fill="#00ffa7"/>
<polygon points="596.87,384.89 601.07,380.99 596.5,377.8 592.3,381.67" fill="#00ffa2"/>
<polygon points="605.63,384.19 609.84,380.27 605.28,377.11 601.07,380.99" fill="#00ff9e"/>
<polygon points="522.52,392.6 526.64,388.85 521.97,385.42 517.84,389.13" fill="#00ffe0"/>
<polygon points="531.3,392.29 535.44,388.51 530.78,385.11 526.64,388.85" fill="#00ffdc"/>
<polygon points="540.09,391.93 544.23,388.14 539.58,384.76 535.44,388.51" fill="#00ffd7"/>
<polygon points="548.86,391.53 553.01,387.71 548.38,384.36 544.23,388.14" fill="#00ffd3"/>
<polygon points="557.64,391.07 561.79,387.24 557.17,383.91 553.01,387.71" fill="#00ffce"/>
<polygon points="566.41,390.58 570.57,386.72 565.96,383.42 561.79,387.24" fill="#00ffca"/>
<polygon points="575.17,390.03 579.34,386.16 574.75,382.88 570.57,386.72" fill="#00ffc5"/>
<polygon points="583.93,389.44 588.11,385.55 583.53,382.3 579.34,386.16" fill="#00ffc1"/>
<polygon points="592.68,388.81 596.87,384.89 592.3,381.67 588.11,385.55" fill="#00ffbc"/>
<polygon points="601.43,388.13 605.63,384.19 601.07,380.99 596.87,384.89" fill="#00ffb8"/>
<polygon points="527.18,396.08 531.3,392.29 526.64,388.85 522.52,392.6" fill="#00fff6"/>
<polygon points="535.95,395.74 540.09,391.93 535.44,388.51 531.3,392.29" fill="#00fff1"/>
<polygon points="544.72,395.36 548.86,391.53 544.23,388.14 540.09,391.93" fill="#00ffed"/>
<polygon points="553.49,394.93 557.64,391.07 553.01,387.71 548.86,391.53" fill="#00ffe8"/>
<polygon points="562.25,394.45 566.41,390.58 561.79,387.24 557.64,391.07" fill="#00ffe4"/>
<polygon points="571.01,393.93 575.17,390.03 570.57,386.72 566.41,390.58" fill="#00ffe0"/>
<polygon points="579.76,393.36 583.93,389.44 579.34,386.16 575.17,390.03" fill="#00ffdb"/>
<polygon points="588.51,392.75 592.68,388.81 588.11,385.55 583.93,389.44" fill="#00ffd7"/>
<polygon points="597.25,392.08 601.43,388.13 596.87,384.89 592.68,388.81" fill="#00ffd2"/>
<polygon points="531.83,399.57 535.95,395.74 531.3,392.29 527.18,396.08" fill="#00f3ff"/>
<polygon points="540.6,399.21 544.72,395.36 540.09,391.93 535.95,395.74" fill="#00f7ff"/>
<polygon points="549.35,398.8 553.49,394.93 548.86,391.53 544.72,395.36" fill="#00fbff"/>
<polygon points="558.11,398.34 562.25,394.45 557.64,391.07 553.49,394.93" fill="#00fffe"/>
<polygon points="566.85,397.84 571.01,393.93 566.41,390.58 562.25,394.45" fill="#00fffa"/>
<polygon points="575.6,397.29 579.76,393.36 575.17,390.03 571.01,393.93" fill="#00fff5"/>
<polygon points="584.34,396.7 588.51,392.75 583.93,389.44 579.76,393.36" fill="#00fff1"/>
<polygon points="593.07,396.06 597.25,392.08 592.68,388.81 588.51,392.75" fill="#00ffec"/>
<polygon points="536.48,403.07 540.6,399.21 535.95,395.74 531.83,399.57" fill="#00ddff"/>
<polygon points="545.23,402.69 549.35,398.8 544.72,395.36 540.6,399.21" fill="#00e1ff"/>
<polygon points="553.97,402.25 558.11,398.34 553.49,394.93 549.35,398.8" fill="#00e6ff"/>
<polygon points="562.71,401.77 566.85,397.84 562.25,394.45 558.11,398.34" fill="#00eaff"/>
<polygon points="571.45,401.25 575.6,397.29 571.01,393.93 566.85,397.84" fill="#00efff"/>
<polygon points="580.18,400.67 584.34,396.7 579.76,393.36 575.6,397.29" fill="#00f3ff"/>
<polygon points="588.91,400.05 593.07,396.06 588.51,392.75 584.34,396.7" fill="#00f7ff"/>
<polygon points="541.11,406.59 545.23,402.69 540.6,399.21 536.48,403.07" fill="#00c7ff"/>
<polygon points="549.85,406.18 553.97,402.25 549.35,398.8 545.23,402.69" fill="#00ccff"/>
<polygon points="558.58,405.72 562.71,401.77 558.11,398.34 553.97,402.25" fill="#00d0ff"/>
<polygon points="567.31,405.22 571.45,401.25 566.85,397.84 562.71,401.77" fill="#00d4ff"/>
<polygon points="576.03,404.66 580.18,400.67 575.6,397.29 571.45,401.25" fill="#00d9ff"/>
<polygon points="584.75,404.06 588.91,400.05 584.34,396.7 580.18,400.67" fill="#00ddff"/>
<polygon points="545.74,410.12 549.85,406.18 545.23,402.69 541.11,406.59" fill="#00b1ff"/>
<polygon points="554.46,409.69 558.58,405.72 553.97,402.25 549.85,406.18" fill="#00b6ff"/>
<polygon points="563.18,409.2 567.31,405.22 562.71,401.77 558.58,405.72" fill="#00baff"/>
<polygon points="571.9,408.67 576.03,404.66 571.45,401.25 567.31,405.22" fill="#00bfff"/>
<polygon points="580.61,408.09 584.75,404.06 580.18,400.67 576.03,404.66" fill="#00c3ff"/>
<polygon points="550.35,413.67 554.46,409.69 549.85,406.18 545.74,410.12" fill="#009cff"/>
<polygon points="559.07,413.21 563.18,409.2 558.58,405.72 554.46,409.69" fill="#00a0ff"/>
<polygon points="567.77,412.7 571.9,408.67 567.31,405.22 563.18,409.2" fill="#00a5ff"/>
<polygon points="576.48,412.14 580.61,408.09 576.03,404.66 571.9,408.67" fill="#00a9ff"/>
<polygon points="554.96,417.23 559.07,413.21 554.46,409.69 550.35,413.67" fill="#0086ff"/>
<polygon points="563.66,416.74 567.77,412.7 563.18,409.2 559.07,413.21" fill="#008aff"/>
<polygon points="572.35,416.2 576.48,412.14 571.9,408.67 567.77,412.7" fill="#008fff"/>
<polygon points="559.56,420.8 563.66,416.74 559.07,413.21 554.96,417.23" fill="#0070ff"/>
<polygon points="568.24,420.29 572.35,416.2 567.77,412.7 563.66,416.74" fill="#0075ff"/>
<polygon points="564.14,424.39 568.24,420.29 563.66,416.74 559.56,420.8" fill="#005aff"/>
</g>
<circle cx="555.8" cy="291.3" r="1.75" fill="#c00000" stroke="#5a0000" stroke-width="0.6"/>
<line x1="599.8" y1="315.2" x2="599.8" y2="320" stroke="#444" stroke-width="0.5"/>
<circle cx="599.8" cy="315.2" r="1.75" fill="#c00000" stroke="#5a0000" stroke-width="0.6"/>
<circle cx="559.6" cy="345.9" r="1.75" fill="#c00000" stroke="#5a0000" stroke-width="0.6"/>
<line x1="608.6" y1="369.8" x2="608.6" y2="383" stroke="#444" stroke-width="0.5"/>
<circle cx="608.6" cy="369.8" r="1.75" fill="#c00000" stroke="#5a0000" stroke-width="0.6"/>
<circle cx="564" cy="428.7" r="2.05" fill="#ffe4e4" stroke="#4a2020" stroke-width="0.7"/>
<circle cx="470.1" cy="359" r="2.05" fill="#ffe4e4" stroke="#4a2020" stroke-width="0.7"/>
<circle cx="514.6" cy="321.6" r="1.8" fill="#ffd0d0" fill-opacity="0.7" stroke="#a06060" stroke-opacity="0.6" stroke-width="0.5"/>
<text x="561.01" y="474.9" font-size="6.3" fill="#333" text-anchor="end" textLength="6.3" lengthAdjust="spacingAndGlyphs">80</text>
<text x="567.21" y="474.8" font-size="6.3" fill="#333" textLength="6.3" lengthAdjust="spacingAndGlyphs">80</text>
<text x="538.81" y="463.3" font-size="6.3" fill="#333" text-anchor="end" textLength="6.3" lengthAdjust="spacingAndGlyphs">85</text>
<text x="587.03" y="462.4" font-size="6.3" fill="#333" textLength="6.3" lengthAdjust="spacingAndGlyphs">85</text>
<text x="516.6" y="451.7" font-size="6.3" fill="#333" text-anchor="end" textLength="6.3" lengthAdjust="spacingAndGlyphs">90</text>
<text x="606.85" y="450" font-size="6.3" fill="#333" textLength="6.3" lengthAdjust="spacingAndGlyphs">90</text>
<text x="494.4" y="440.09" font-size="6.3" fill="#333" text-anchor="end" textLength="6.3" lengthAdjust="spacingAndGlyphs">95</text>
<text x="626.67" y="437.61" font-size="6.3" fill="#333" textLength="6.3" lengthAdjust="spacingAndGlyphs">95</text>
<text x="472.19" y="428.49" font-size="6.3" fill="#333" text-anchor="end" textLength="9.45" lengthAdjust="spacingAndGlyphs">100</text>
<text x="646.49" y="425.21" font-size="6.3" fill="#333" textLength="9.45" lengthAdjust="spacingAndGlyphs">100</text>
<text x="471.17" y="395.81" font-size="6.3" fill="#333" text-anchor="end" textLength="7.9" lengthAdjust="spacingAndGlyphs">3.5</text>
<text x="470.19" y="381.72" font-size="6.3" fill="#333" text-anchor="end" textLength="3.15" lengthAdjust="spacingAndGlyphs">4</text>
<text x="469.21" y="367.64" font-size="6.3" fill="#333" text-anchor="end" textLength="7.9" lengthAdjust="spacingAndGlyphs">4.5</text>
<text x="468.23" y="353.56" font-size="6.3" fill="#333" text-anchor="end" textLength="3.15" lengthAdjust="spacingAndGlyphs">5</text>
<text x="467.25" y="339.48" font-size="6.3" fill="#333" text-anchor="end" textLength="7.9" lengthAdjust="spacingAndGlyphs">5.5</text>
<text x="466.27" y="325.39" font-size="6.3" fill="#333" text-anchor="end" textLength="3.15" lengthAdjust="spacingAndGlyphs">6</text>
<text x="465.29" y="311.31" font-size="6.3" fill="#333" text-anchor="end" textLength="7.9" lengthAdjust="spacingAndGlyphs">6.5</text>
<text x="444" y="370" font-size="5.8" fill="#222" text-anchor="middle" textLength="48" lengthAdjust="spacingAndGlyphs" transform="rotate(-90 444 370)">Hardness (kg/cm2)</text>
<text x="439.3" y="466.4" font-size="5.8" fill="#222" style="white-space:pre" textLength="97.9" lengthAdjust="spacingAndGlyphs">B: Weight  of Guargum:Aloevera (mg)</text>
<text x="604.2" y="462.7" font-size="5.8" fill="#222" textLength="64.1" lengthAdjust="spacingAndGlyphs">A: Weight of HPMC (mg)</text>
<g stroke="#1c1c1c" stroke-width="0.7" fill="none">
<line x1="480.22" y1="623.63" x2="464.55" y2="577.55" stroke="#1c1c1c" stroke-width="0.7"/>
<line x1="640.35" y1="641.88" x2="656.32" y2="598.36" stroke="#1c1c1c" stroke-width="0.7"/>
<line x1="499.71" y1="597.03" x2="490.97" y2="559.79" stroke="#1c1c1c" stroke-width="0.7"/>
<line x1="625.29" y1="611.16" x2="634.8" y2="575.39" stroke="#1c1c1c" stroke-width="0.7"/>
<line x1="522.82" y1="581.07" x2="517.39" y2="542.02" stroke="#1c1c1c" stroke-width="0.7"/>
<line x1="606.54" y1="590.49" x2="613.28" y2="552.42" stroke="#1c1c1c" stroke-width="0.7"/>
<line x1="545.93" y1="565.11" x2="543.81" y2="524.26" stroke="#1c1c1c" stroke-width="0.7"/>
<line x1="587.79" y1="569.82" x2="591.75" y2="529.46" stroke="#1c1c1c" stroke-width="0.7"/>
<line x1="569.04" y1="549.15" x2="570.23" y2="506.49" stroke="#1c1c1c" stroke-width="0.7"/>
<line x1="569.04" y1="549.15" x2="570.23" y2="506.49" stroke="#1c1c1c" stroke-width="0.7"/>
<polyline points="476.6,613 569.04,549.15 644.03,631.83"/>
<polyline points="474.19,605.91 569.28,540.62 646.49,625.14"/>
<polyline points="471.78,598.82 569.52,532.09 648.95,618.44"/>
<polyline points="469.37,591.73 569.75,523.55 651.41,611.75"/>
<polyline points="466.96,584.64 569.99,515.02 653.86,605.05"/>
<polyline points="464.55,577.55 570.23,506.49 656.32,598.36"/>
</g>
<polygon points="480.22,623.63 549.33,710.89 640.35,641.88 568.69,561.94" fill="#666666" stroke="#2a2a2a" stroke-width="0.6"/>
<g clip-path="url(#fc54)" fill="none" stroke-width="1.2">
<polyline points="480,633 496.3,643.6 530,665.5 552,679.6 573.9,691.5 578,693.6" stroke="#e8a41c"/>
<polyline points="541,648.5 598.38,673.87" stroke="#90d818"/>
<polyline points="567.9,636 621.66,655.93" stroke="#18d040"/>
<polyline points="618.4,628.9 633.8,636.45" stroke="#18d0c0"/>
</g>
<polygon points="480.22,623.63 549.33,710.89 640.35,641.88 568.69,561.94" fill="none" stroke="#2a2a2a" stroke-width="0.6"/>
<circle cx="549.33" cy="710.89" r="0.7" fill="#222" stroke="none" stroke-width="0"/>
<circle cx="549.33" cy="710.89" r="0.7" fill="#222" stroke="none" stroke-width="0"/>
<circle cx="532.05" cy="689.08" r="0.7" fill="#222" stroke="none" stroke-width="0"/>
<circle cx="572.09" cy="693.64" r="0.7" fill="#222" stroke="none" stroke-width="0"/>
<circle cx="514.78" cy="667.26" r="0.7" fill="#222" stroke="none" stroke-width="0"/>
<circle cx="594.84" cy="676.38" r="0.7" fill="#222" stroke="none" stroke-width="0"/>
<circle cx="497.5" cy="645.44" r="0.7" fill="#222" stroke="none" stroke-width="0"/>
<circle cx="617.59" cy="659.13" r="0.7" fill="#222" stroke="none" stroke-width="0"/>
<circle cx="480.22" cy="623.63" r="0.7" fill="#222" stroke="none" stroke-width="0"/>
<circle cx="640.35" cy="641.88" r="0.7" fill="#222" stroke="none" stroke-width="0"/>
<circle cx="476.6" cy="613" r="0.7" fill="#222" stroke="none" stroke-width="0"/>
<circle cx="474.19" cy="605.91" r="0.7" fill="#222" stroke="none" stroke-width="0"/>
<circle cx="471.78" cy="598.82" r="0.7" fill="#222" stroke="none" stroke-width="0"/>
<circle cx="469.37" cy="591.73" r="0.7" fill="#222" stroke="none" stroke-width="0"/>
<circle cx="466.96" cy="584.64" r="0.7" fill="#222" stroke="none" stroke-width="0"/>
<circle cx="464.55" cy="577.55" r="0.7" fill="#222" stroke="none" stroke-width="0"/>
<circle cx="600.5" cy="652.1" r="2.05" fill="#ffe4e4" stroke="#4a2020" stroke-width="0.7"/>
<g stroke="#0c0c0c" stroke-width="0.44" stroke-linejoin="round">
<polygon points="568.25,553.24 572.87,551.37 569.08,547.77 564.46,549.59" fill="#0030ff"/>
<polygon points="563.58,555.13 568.25,553.24 564.46,549.59 559.79,551.44" fill="#005aff"/>
<polygon points="572.05,556.9 576.68,554.98 572.87,551.37 568.25,553.24" fill="#0042ff"/>
<polygon points="558.87,557.06 563.58,555.13 559.79,551.44 555.07,553.32" fill="#0083ff"/>
<polygon points="567.39,558.84 572.05,556.9 568.25,553.24 563.58,555.13" fill="#006bff"/>
<polygon points="575.88,560.57 580.5,558.61 576.68,554.98 572.05,556.9" fill="#0054ff"/>
<polygon points="554.12,559.02 558.87,557.06 555.07,553.32 550.32,555.23" fill="#00acff"/>
<polygon points="562.68,560.81 567.39,558.84 563.58,555.13 558.87,557.06" fill="#0094ff"/>
<polygon points="571.21,562.55 575.88,560.57 572.05,556.9 567.39,558.84" fill="#007dff"/>
<polygon points="579.71,564.25 584.33,562.24 580.5,558.61 575.88,560.57" fill="#0066ff"/>
<polygon points="549.32,561.01 554.12,559.02 550.32,555.23 545.52,557.18" fill="#00d5ff"/>
<polygon points="557.93,562.82 562.68,560.81 558.87,557.06 554.12,559.02" fill="#00bdff"/>
<polygon points="566.51,564.58 571.21,562.55 567.39,558.84 562.68,560.81" fill="#00a5ff"/>
<polygon points="575.05,566.28 579.71,564.25 575.88,560.57 571.21,562.55" fill="#008eff"/>
<polygon points="583.56,567.94 588.18,565.89 584.33,562.24 579.71,564.25" fill="#0077ff"/>
<polygon points="544.49,563.03 549.32,561.01 545.52,557.18 540.68,559.15" fill="#00fdff"/>
<polygon points="553.14,564.85 557.93,562.82 554.12,559.02 549.32,561.01" fill="#00e5ff"/>
<polygon points="561.76,566.63 566.51,564.58 562.68,560.81 557.93,562.82" fill="#00cdff"/>
<polygon points="570.34,568.35 575.05,566.28 571.21,562.55 566.51,564.58" fill="#00b6ff"/>
<polygon points="578.9,570.03 583.56,567.94 579.71,564.25 575.05,566.28" fill="#009fff"/>
<polygon points="587.42,571.65 592.04,569.55 588.18,565.89 583.56,567.94" fill="#0089ff"/>
<polygon points="539.61,565.08 544.49,563.03 540.68,559.15 535.8,561.15" fill="#00ffd8"/>
<polygon points="548.3,566.92 553.14,564.85 549.32,561.01 544.49,563.03" fill="#00fff1"/>
<polygon points="556.96,568.71 561.76,566.63 557.93,562.82 553.14,564.85" fill="#00f5ff"/>
<polygon points="565.6,570.45 570.34,568.35 566.51,564.58 561.76,566.63" fill="#00deff"/>
<polygon points="574.19,572.14 578.9,570.03 575.05,566.28 570.34,568.35" fill="#00c7ff"/>
<polygon points="582.76,573.78 587.42,571.65 583.56,567.94 578.9,570.03" fill="#00b1ff"/>
<polygon points="591.3,575.37 595.92,573.23 592.04,569.55 587.42,571.65" fill="#009bff"/>
<polygon points="534.69,567.16 539.61,565.08 535.8,561.15 530.88,563.19" fill="#00ffb0"/>
<polygon points="543.42,569.02 548.3,566.92 544.49,563.03 539.61,565.08" fill="#00ffc9"/>
<polygon points="552.13,570.83 556.96,568.71 553.14,564.85 548.3,566.92" fill="#00ffe1"/>
<polygon points="560.81,572.58 565.6,570.45 561.76,566.63 556.96,568.71" fill="#00fff9"/>
<polygon points="569.45,574.29 574.19,572.14 570.34,568.35 565.6,570.45" fill="#00eeff"/>
<polygon points="578.06,575.94 582.76,573.78 578.9,570.03 574.19,572.14" fill="#00d8ff"/>
<polygon points="586.64,577.55 591.3,575.37 587.42,571.65 582.76,573.78" fill="#00c2ff"/>
<polygon points="595.19,579.1 599.81,576.91 595.92,573.23 591.3,575.37" fill="#00acff"/>
<polygon points="529.73,569.27 534.69,567.16 530.88,563.19 525.92,565.25" fill="#00ff88"/>
<polygon points="538.51,571.15 543.42,569.02 539.61,565.08 534.69,567.16" fill="#00ffa1"/>
<polygon points="547.26,572.98 552.13,570.83 548.3,566.92 543.42,569.02" fill="#00ffba"/>
<polygon points="555.97,574.75 560.81,572.58 556.96,568.71 552.13,570.83" fill="#00ffd1"/>
<polygon points="564.66,576.47 569.45,574.29 565.6,570.45 560.81,572.58" fill="#00ffe9"/>
<polygon points="573.31,578.14 578.06,575.94 574.19,572.14 569.45,574.29" fill="#00ffff"/>
<polygon points="581.94,579.76 586.64,577.55 582.76,573.78 578.06,575.94" fill="#00e9ff"/>
<polygon points="590.53,581.33 595.19,579.1 591.3,575.37 586.64,577.55" fill="#00d3ff"/>
<polygon points="599.1,582.85 603.71,580.61 599.81,576.91 595.19,579.1" fill="#00beff"/>
<polygon points="524.72,571.42 529.73,569.27 525.92,565.25 520.91,567.34" fill="#00ff61"/>
<polygon points="533.55,573.31 538.51,571.15 534.69,567.16 529.73,569.27" fill="#00ff7a"/>
<polygon points="542.34,575.15 547.26,572.98 543.42,569.02 538.51,571.15" fill="#00ff92"/>
<polygon points="551.1,576.94 555.97,574.75 552.13,570.83 547.26,572.98" fill="#00ffaa"/>
<polygon points="559.83,578.68 564.66,576.47 560.81,572.58 555.97,574.75" fill="#00ffc2"/>
<polygon points="568.53,580.36 573.31,578.14 569.45,574.29 564.66,576.47" fill="#00ffd8"/>
<polygon points="577.19,582 581.94,579.76 578.06,575.94 573.31,578.14" fill="#00ffef"/>
<polygon points="585.83,583.58 590.53,581.33 586.64,577.55 581.94,579.76" fill="#00faff"/>
<polygon points="594.44,585.12 599.1,582.85 595.19,579.1 590.53,581.33" fill="#00e4ff"/>
<polygon points="603.02,586.6 607.63,584.32 603.71,580.61 599.1,582.85" fill="#00d0ff"/>
<polygon points="519.68,573.59 524.72,571.42 520.91,567.34 515.87,569.47" fill="#00ff3a"/>
<polygon points="528.55,575.5 533.55,573.31 529.73,569.27 524.72,571.42" fill="#00ff53"/>
<polygon points="537.38,577.36 542.34,575.15 538.51,571.15 533.55,573.31" fill="#00ff6b"/>
<polygon points="546.18,579.17 551.1,576.94 547.26,572.98 542.34,575.15" fill="#00ff83"/>
<polygon points="554.96,580.92 559.83,578.68 555.97,574.75 551.1,576.94" fill="#00ff9b"/>
<polygon points="563.7,582.62 568.53,580.36 564.66,576.47 559.83,578.68" fill="#00ffb2"/>
<polygon points="572.41,584.27 577.19,582 573.31,578.14 568.53,580.36" fill="#00ffc8"/>
<polygon points="581.09,585.87 585.83,583.58 581.94,579.76 577.19,582" fill="#00ffde"/>
<polygon points="589.74,587.42 594.44,585.12 590.53,581.33 585.83,583.58" fill="#00fff4"/>
<polygon points="598.36,588.92 603.02,586.6 599.1,582.85 594.44,585.12" fill="#00f6ff"/>
<polygon points="606.95,590.37 611.56,588.04 607.63,584.32 603.02,586.6" fill="#00e1ff"/>
<polygon points="514.6,575.79 519.68,573.59 515.87,569.47 510.79,571.62" fill="#00ff13"/>
<polygon points="523.51,577.72 528.55,575.5 524.72,571.42 519.68,573.59" fill="#00ff2c"/>
<polygon points="532.38,579.6 537.38,577.36 533.55,573.31 528.55,575.5" fill="#00ff45"/>
<polygon points="541.23,581.42 546.18,579.17 542.34,575.15 537.38,577.36" fill="#00ff5d"/>
<polygon points="550.04,583.19 554.96,580.92 551.1,576.94 546.18,579.17" fill="#00ff75"/>
<polygon points="558.83,584.91 563.7,582.62 559.83,578.68 554.96,580.92" fill="#00ff8c"/>
<polygon points="567.58,586.58 572.41,584.27 568.53,580.36 563.7,582.62" fill="#00ffa2"/>
<polygon points="576.3,588.19 581.09,585.87 577.19,582 572.41,584.27" fill="#00ffb8"/>
<polygon points="585,589.76 589.74,587.42 585.83,583.58 581.09,585.87" fill="#00ffce"/>
<polygon points="593.66,591.27 598.36,588.92 594.44,585.12 589.74,587.42" fill="#00ffe3"/>
<polygon points="602.29,592.74 606.95,590.37 603.02,586.6 598.36,588.92" fill="#00fff7"/>
<polygon points="610.9,594.16 615.51,591.78 611.56,588.04 606.95,590.37" fill="#00f3ff"/>
<polygon points="509.48,578.02 514.6,575.79 510.79,571.62 505.67,573.8" fill="#14ff00"/>
<polygon points="518.43,579.97 523.51,577.72 519.68,573.59 514.6,575.79" fill="#00ff05"/>
<polygon points="527.35,581.87 532.38,579.6 528.55,575.5 523.51,577.72" fill="#00ff1e"/>
<polygon points="536.23,583.71 541.23,581.42 537.38,577.36 532.38,579.6" fill="#00ff37"/>
<polygon points="545.09,585.5 550.04,583.19 546.18,579.17 541.23,581.42" fill="#00ff4e"/>
<polygon points="553.91,587.23 558.83,584.91 554.96,580.92 550.04,583.19" fill="#00ff66"/>
<polygon points="562.71,588.91 567.58,586.58 563.7,582.62 558.83,584.91" fill="#00ff7c"/>
<polygon points="571.47,590.54 576.3,588.19 572.41,584.27 567.58,586.58" fill="#00ff93"/>
<polygon points="580.21,592.12 585,589.76 581.09,585.87 576.3,588.19" fill="#00ffa8"/>
<polygon points="588.92,593.65 593.66,591.27 589.74,587.42 585,589.76" fill="#00ffbd"/>
<polygon points="597.59,595.13 602.29,592.74 598.36,588.92 593.66,591.27" fill="#00ffd2"/>
<polygon points="606.24,596.57 610.9,594.16 606.95,590.37 602.29,592.74" fill="#00ffe6"/>
<polygon points="614.86,597.95 619.47,595.52 615.51,591.78 610.9,594.16" fill="#00fff9"/>
<polygon points="504.32,580.28 509.48,578.02 505.67,573.8 500.51,576.02" fill="#3bff00"/>
<polygon points="513.31,582.25 518.43,579.97 514.6,575.79 509.48,578.02" fill="#21ff00"/>
<polygon points="522.27,584.17 527.35,581.87 523.51,577.72 518.43,579.97" fill="#08ff00"/>
<polygon points="531.2,586.02 536.23,583.71 532.38,579.6 527.35,581.87" fill="#00ff10"/>
<polygon points="540.09,587.83 545.09,585.5 541.23,581.42 536.23,583.71" fill="#00ff28"/>
<polygon points="548.96,589.58 553.91,587.23 550.04,583.19 545.09,585.5" fill="#00ff40"/>
<polygon points="557.8,591.28 562.71,588.91 558.83,584.91 553.91,587.23" fill="#00ff57"/>
<polygon points="566.6,592.93 571.47,590.54 567.58,586.58 562.71,588.91" fill="#00ff6d"/>
<polygon points="575.38,594.52 580.21,592.12 576.3,588.19 571.47,590.54" fill="#00ff83"/>
<polygon points="584.13,596.07 588.92,593.65 585,589.76 580.21,592.12" fill="#00ff98"/>
<polygon points="592.85,597.56 597.59,595.13 593.66,591.27 588.92,593.65" fill="#00ffad"/>
<polygon points="601.54,599.01 606.24,596.57 602.29,592.74 597.59,595.13" fill="#00ffc1"/>
<polygon points="610.2,600.41 614.86,597.95 610.9,594.16 606.24,596.57" fill="#00ffd5"/>
<polygon points="618.84,601.76 623.45,599.28 619.47,595.52 614.86,597.95" fill="#00ffe8"/>
<polygon points="499.13,582.57 504.32,580.28 500.51,576.02 495.31,578.26" fill="#61ff00"/>
<polygon points="508.15,584.56 513.31,582.25 509.48,578.02 504.32,580.28" fill="#47ff00"/>
<polygon points="517.15,586.49 522.27,584.17 518.43,579.97 513.31,582.25" fill="#2eff00"/>
<polygon points="526.12,588.37 531.2,586.02 527.35,581.87 522.27,584.17" fill="#15ff00"/>
<polygon points="535.06,590.19 540.09,587.83 536.23,583.71 531.2,586.02" fill="#00ff03"/>
<polygon points="543.96,591.96 548.96,589.58 545.09,585.5 540.09,587.83" fill="#00ff1a"/>
<polygon points="552.84,593.68 557.8,591.28 553.91,587.23 548.96,589.58" fill="#00ff31"/>
<polygon points="561.69,595.34 566.6,592.93 562.71,588.91 557.8,591.28" fill="#00ff48"/>
<polygon points="570.51,596.96 575.38,594.52 571.47,590.54 566.6,592.93" fill="#00ff5e"/>
<polygon points="579.3,598.52 584.13,596.07 580.21,592.12 575.38,594.52" fill="#00ff73"/>
<polygon points="588.06,600.03 592.85,597.56 588.92,593.65 584.13,596.07" fill="#00ff88"/>
<polygon points="596.8,601.49 601.54,599.01 597.59,595.13 592.85,597.56" fill="#00ff9c"/>
<polygon points="605.5,602.9 610.2,600.41 606.24,596.57 601.54,599.01" fill="#00ffb0"/>
<polygon points="614.18,604.26 618.84,601.76 614.86,597.95 610.2,600.41" fill="#00ffc4"/>
<polygon points="622.83,605.57 627.44,603.06 623.45,599.28 618.84,601.76" fill="#00ffd6"/>
<polygon points="493.89,584.89 499.13,582.57 495.31,578.26 490.07,580.53" fill="#87ff00"/>
<polygon points="502.96,586.9 508.15,584.56 504.32,580.28 499.13,582.57" fill="#6dff00"/>
<polygon points="512,588.85 517.15,586.49 513.31,582.25 508.15,584.56" fill="#54ff00"/>
<polygon points="521,590.75 526.12,588.37 522.27,584.17 517.15,586.49" fill="#3bff00"/>
<polygon points="529.98,592.59 535.06,590.19 531.2,586.02 526.12,588.37" fill="#23ff00"/>
<polygon points="538.93,594.38 543.96,591.96 540.09,587.83 535.06,590.19" fill="#0bff00"/>
<polygon points="547.85,596.11 552.84,593.68 548.96,589.58 543.96,591.96" fill="#00ff0c"/>
<polygon points="556.74,597.79 561.69,595.34 557.8,591.28 552.84,593.68" fill="#00ff23"/>
<polygon points="565.6,599.42 570.51,596.96 566.6,592.93 561.69,595.34" fill="#00ff39"/>
<polygon points="574.43,600.99 579.3,598.52 575.38,594.52 570.51,596.96" fill="#00ff4f"/>
<polygon points="583.23,602.52 588.06,600.03 584.13,596.07 579.3,598.52" fill="#00ff64"/>
<polygon points="592.01,604 596.8,601.49 592.85,597.56 588.06,600.03" fill="#00ff78"/>
<polygon points="600.76,605.42 605.5,602.9 601.54,599.01 596.8,601.49" fill="#00ff8c"/>
<polygon points="609.48,606.8 614.18,604.26 610.2,600.41 605.5,602.9" fill="#00ffa0"/>
<polygon points="618.17,608.12 622.83,605.57 618.84,601.76 614.18,604.26" fill="#00ffb2"/>
<polygon points="626.83,609.4 631.45,606.84 627.44,603.06 622.83,605.57" fill="#00ffc5"/>
<polygon points="488.62,587.24 493.89,584.89 490.07,580.53 484.79,582.82" fill="#adff00"/>
<polygon points="497.72,589.27 502.96,586.9 499.13,582.57 493.89,584.89" fill="#93ff00"/>
<polygon points="506.8,591.24 512,588.85 508.15,584.56 502.96,586.9" fill="#79ff00"/>
<polygon points="515.85,593.15 521,590.75 517.15,586.49 512,588.85" fill="#60ff00"/>
<polygon points="524.87,595.01 529.98,592.59 526.12,588.37 521,590.75" fill="#48ff00"/>
<polygon points="533.86,596.82 538.93,594.38 535.06,590.19 529.98,592.59" fill="#30ff00"/>
<polygon points="542.81,598.57 547.85,596.11 543.96,591.96 538.93,594.38" fill="#19ff00"/>
<polygon points="551.75,600.27 556.74,597.79 552.84,593.68 547.85,596.11" fill="#02ff00"/>
<polygon points="560.65,601.91 565.6,599.42 561.69,595.34 556.74,597.79" fill="#00ff14"/>
<polygon points="569.52,603.5 574.43,600.99 570.51,596.96 565.6,599.42" fill="#00ff2a"/>
<polygon points="578.37,605.05 583.23,602.52 579.3,598.52 574.43,600.99" fill="#00ff3f"/>
<polygon points="587.18,606.54 592.01,604 588.06,600.03 583.23,602.52" fill="#00ff54"/>
<polygon points="595.97,607.98 600.76,605.42 596.8,601.49 592.01,604" fill="#00ff68"/>
<polygon points="604.73,609.37 609.48,606.8 605.5,602.9 600.76,605.42" fill="#00ff7c"/>
<polygon points="613.46,610.71 618.17,608.12 614.18,604.26 609.48,606.8" fill="#00ff8f"/>
<polygon points="622.17,612 626.83,609.4 622.83,605.57 618.17,608.12" fill="#00ffa1"/>
<polygon points="630.85,613.25 635.46,610.64 631.45,606.84 626.83,609.4" fill="#00ffb3"/>
<polygon points="483.31,589.61 488.62,587.24 484.79,582.82 479.48,585.15" fill="#d2ff00"/>
<polygon points="492.45,591.66 497.72,589.27 493.89,584.89 488.62,587.24" fill="#b8ff00"/>
<polygon points="501.57,593.65 506.8,591.24 502.96,586.9 497.72,589.27" fill="#9fff00"/>
<polygon points="510.66,595.59 515.85,593.15 512,588.85 506.8,591.24" fill="#85ff00"/>
<polygon points="519.71,597.47 524.87,595.01 521,590.75 515.85,593.15" fill="#6dff00"/>
<polygon points="528.74,599.29 533.86,596.82 529.98,592.59 524.87,595.01" fill="#55ff00"/>
<polygon points="537.74,601.06 542.81,598.57 538.93,594.38 533.86,596.82" fill="#3dff00"/>
<polygon points="546.71,602.78 551.75,600.27 547.85,596.11 542.81,598.57" fill="#26ff00"/>
<polygon points="555.65,604.44 560.65,601.91 556.74,597.79 551.75,600.27" fill="#10ff00"/>
<polygon points="564.57,606.05 569.52,603.5 565.6,599.42 560.65,601.91" fill="#00ff06"/>
<polygon points="573.45,607.6 578.37,605.05 574.43,600.99 569.52,603.5" fill="#00ff1b"/>
<polygon points="582.31,609.11 587.18,606.54 583.23,602.52 578.37,605.05" fill="#00ff30"/>
<polygon points="591.14,610.57 595.97,607.98 592.01,604 587.18,606.54" fill="#00ff44"/>
<polygon points="599.94,611.97 604.73,609.37 600.76,605.42 595.97,607.98" fill="#00ff58"/>
<polygon points="608.72,613.33 613.46,610.71 609.48,606.8 604.73,609.37" fill="#00ff6b"/>
<polygon points="617.47,614.63 622.17,612 618.17,608.12 613.46,610.71" fill="#00ff7e"/>
<polygon points="626.19,615.89 630.85,613.25 626.83,609.4 622.17,612" fill="#00ff90"/>
<polygon points="634.88,617.1 639.5,614.44 635.46,610.64 630.85,613.25" fill="#00ffa2"/>
<polygon points="477.96,592.02 483.31,589.61 479.48,585.15 474.13,587.51" fill="#f8ff00"/>
<polygon points="487.14,594.09 492.45,591.66 488.62,587.24 483.31,589.61" fill="#ddff00"/>
<polygon points="496.3,596.1 501.57,593.65 497.72,589.27 492.45,591.66" fill="#c4ff00"/>
<polygon points="505.42,598.05 510.66,595.59 506.8,591.24 501.57,593.65" fill="#aaff00"/>
<polygon points="514.52,599.95 519.71,597.47 515.85,593.15 510.66,595.59" fill="#92ff00"/>
<polygon points="523.59,601.79 528.74,599.29 524.87,595.01 519.71,597.47" fill="#79ff00"/>
<polygon points="532.63,603.58 537.74,601.06 533.86,596.82 528.74,599.29" fill="#62ff00"/>
<polygon points="541.64,605.31 546.71,602.78 542.81,598.57 537.74,601.06" fill="#4bff00"/>
<polygon points="550.62,606.99 555.65,604.44 551.75,600.27 546.71,602.78" fill="#34ff00"/>
<polygon points="559.58,608.62 564.57,606.05 560.65,601.91 555.65,604.44" fill="#1eff00"/>
<polygon points="568.5,610.19 573.45,607.6 569.52,603.5 564.57,606.05" fill="#08ff00"/>
<polygon points="577.4,611.72 582.31,609.11 578.37,605.05 573.45,607.6" fill="#00ff0d"/>
<polygon points="586.27,613.19 591.14,610.57 587.18,606.54 582.31,609.11" fill="#00ff21"/>
<polygon points="595.11,614.61 599.94,611.97 595.97,607.98 591.14,610.57" fill="#00ff35"/>
<polygon points="603.93,615.98 608.72,613.33 604.73,609.37 599.94,611.97" fill="#00ff48"/>
<polygon points="612.72,617.3 617.47,614.63 613.46,610.71 608.72,613.33" fill="#00ff5b"/>
<polygon points="621.48,618.57 626.19,615.89 622.17,612 617.47,614.63" fill="#00ff6d"/>
<polygon points="630.22,619.79 634.88,617.1 630.85,613.25 626.19,615.89" fill="#00ff7f"/>
<polygon points="638.92,620.97 643.55,618.27 639.5,614.44 634.88,617.1" fill="#00ff90"/>
<polygon points="472.58,594.45 477.96,592.02 474.13,587.51 468.75,589.89" fill="#ffe100"/>
<polygon points="481.8,596.54 487.14,594.09 483.31,589.61 477.96,592.02" fill="#fffc00"/>
<polygon points="490.99,598.57 496.3,596.1 492.45,591.66 487.14,594.09" fill="#e8ff00"/>
<polygon points="500.16,600.55 505.42,598.05 501.57,593.65 496.3,596.1" fill="#cfff00"/>
<polygon points="509.29,602.46 514.52,599.95 510.66,595.59 505.42,598.05" fill="#b6ff00"/>
<polygon points="518.4,604.33 523.59,601.79 519.71,597.47 514.52,599.95" fill="#9eff00"/>
<polygon points="527.48,606.13 532.63,603.58 528.74,599.29 523.59,601.79" fill="#86ff00"/>
<polygon points="536.53,607.88 541.64,605.31 537.74,601.06 532.63,603.58" fill="#6fff00"/>
<polygon points="545.55,609.58 550.62,606.99 546.71,602.78 541.64,605.31" fill="#58ff00"/>
<polygon points="554.54,611.22 559.58,608.62 555.65,604.44 550.62,606.99" fill="#42ff00"/>
<polygon points="563.51,612.81 568.5,610.19 564.57,606.05 559.58,608.62" fill="#2cff00"/>
<polygon points="572.45,614.35 577.4,611.72 573.45,607.6 568.5,610.19" fill="#17ff00"/>
<polygon points="581.36,615.84 586.27,613.19 582.31,609.11 577.4,611.72" fill="#02ff00"/>
<polygon points="590.24,617.27 595.11,614.61 591.14,610.57 586.27,613.19" fill="#00ff12"/>
<polygon points="599.1,618.66 603.93,615.98 599.94,611.97 595.11,614.61" fill="#00ff25"/>
<polygon points="607.93,619.99 612.72,617.3 608.72,613.33 603.93,615.98" fill="#00ff38"/>
<polygon points="616.73,621.28 621.48,618.57 617.47,614.63 612.72,617.3" fill="#00ff4b"/>
<polygon points="625.51,622.52 630.22,619.79 626.19,615.89 621.48,618.57" fill="#00ff5d"/>
<polygon points="634.26,623.71 638.92,620.97 634.88,617.1 630.22,619.79" fill="#00ff6e"/>
<polygon points="642.98,624.85 647.61,622.1 643.55,618.27 638.92,620.97" fill="#00ff7f"/>
<polygon points="476.42,599.02 481.8,596.54 477.96,592.02 472.58,594.45" fill="#ffd700"/>
<polygon points="485.65,601.07 490.99,598.57 487.14,594.09 481.8,596.54" fill="#fff100"/>
<polygon points="494.85,603.07 500.16,600.55 496.3,596.1 490.99,598.57" fill="#f3ff00"/>
<polygon points="504.02,605.01 509.29,602.46 505.42,598.05 500.16,600.55" fill="#daff00"/>
<polygon points="513.17,606.89 518.4,604.33 514.52,599.95 509.29,602.46" fill="#c2ff00"/>
<polygon points="522.29,608.71 527.48,606.13 523.59,601.79 518.4,604.33" fill="#aaff00"/>
<polygon points="531.38,610.48 536.53,607.88 532.63,603.58 527.48,606.13" fill="#92ff00"/>
<polygon points="540.44,612.2 545.55,609.58 541.64,605.31 536.53,607.88" fill="#7bff00"/>
<polygon points="549.47,613.86 554.54,611.22 550.62,606.99 545.55,609.58" fill="#65ff00"/>
<polygon points="558.48,615.47 563.51,612.81 559.58,608.62 554.54,611.22" fill="#4fff00"/>
<polygon points="567.45,617.02 572.45,614.35 568.5,610.19 563.51,612.81" fill="#3aff00"/>
<polygon points="576.41,618.52 581.36,615.84 577.4,611.72 572.45,614.35" fill="#25ff00"/>
<polygon points="585.33,619.97 590.24,617.27 586.27,613.19 581.36,615.84" fill="#11ff00"/>
<polygon points="594.23,621.37 599.1,618.66 595.11,614.61 590.24,617.27" fill="#00ff03"/>
<polygon points="603.1,622.72 607.93,619.99 603.93,615.98 599.1,618.66" fill="#00ff16"/>
<polygon points="611.94,624.02 616.73,621.28 612.72,617.3 607.93,619.99" fill="#00ff28"/>
<polygon points="620.76,625.28 625.51,622.52 621.48,618.57 616.73,621.28" fill="#00ff3a"/>
<polygon points="629.55,626.48 634.26,623.71 630.22,619.79 625.51,622.52" fill="#00ff4c"/>
<polygon points="638.32,627.63 642.98,624.85 638.92,620.97 634.26,623.71" fill="#00ff5d"/>
<polygon points="480.27,603.6 485.65,601.07 481.8,596.54 476.42,599.02" fill="#ffcd00"/>
<polygon points="489.51,605.62 494.85,603.07 490.99,598.57 485.65,601.07" fill="#ffe700"/>
<polygon points="498.72,607.58 504.02,605.01 500.16,600.55 494.85,603.07" fill="#feff00"/>
<polygon points="507.9,609.48 513.17,606.89 509.29,602.46 504.02,605.01" fill="#e5ff00"/>
<polygon points="517.06,611.32 522.29,608.71 518.4,604.33 513.17,606.89" fill="#cdff00"/>
<polygon points="526.19,613.11 531.38,610.48 527.48,606.13 522.29,608.71" fill="#b6ff00"/>
<polygon points="535.29,614.84 540.44,612.2 536.53,607.88 531.38,610.48" fill="#9fff00"/>
<polygon points="544.36,616.52 549.47,613.86 545.55,609.58 540.44,612.2" fill="#88ff00"/>
<polygon points="553.4,618.15 558.48,615.47 554.54,611.22 549.47,613.86" fill="#72ff00"/>
<polygon points="562.42,619.72 567.45,617.02 563.51,612.81 558.48,615.47" fill="#5dff00"/>
<polygon points="571.41,621.24 576.41,618.52 572.45,614.35 567.45,617.02" fill="#48ff00"/>
<polygon points="580.38,622.71 585.33,619.97 581.36,615.84 576.41,618.52" fill="#34ff00"/>
<polygon points="589.31,624.12 594.23,621.37 590.24,617.27 585.33,619.97" fill="#20ff00"/>
<polygon points="598.22,625.49 603.1,622.72 599.1,618.66 594.23,621.37" fill="#0dff00"/>
<polygon points="607.11,626.8 611.94,624.02 607.93,619.99 603.1,622.72" fill="#00ff06"/>
<polygon points="615.97,628.07 620.76,625.28 616.73,621.28 611.94,624.02" fill="#00ff18"/>
<polygon points="624.8,629.28 629.55,626.48 625.51,622.52 620.76,625.28" fill="#00ff2a"/>
<polygon points="633.61,630.45 638.32,627.63 634.26,623.71 629.55,626.48" fill="#00ff3b"/>
<polygon points="484.13,608.2 489.51,605.62 485.65,601.07 480.27,603.6" fill="#ffc300"/>
<polygon points="493.38,610.18 498.72,607.58 494.85,603.07 489.51,605.62" fill="#ffdc00"/>
<polygon points="502.6,612.1 507.9,609.48 504.02,605.01 498.72,607.58" fill="#fff500"/>
<polygon points="511.79,613.96 517.06,611.32 513.17,606.89 507.9,609.48" fill="#f1ff00"/>
<polygon points="520.96,615.77 526.19,613.11 522.29,608.71 517.06,611.32" fill="#d9ff00"/>
<polygon points="530.1,617.52 535.29,614.84 531.38,610.48 526.19,613.11" fill="#c2ff00"/>
<polygon points="539.21,619.22 544.36,616.52 540.44,612.2 535.29,614.84" fill="#abff00"/>
<polygon points="548.29,620.86 553.4,618.15 549.47,613.86 544.36,616.52" fill="#95ff00"/>
<polygon points="557.35,622.45 562.42,619.72 558.48,615.47 553.4,618.15" fill="#7fff00"/>
<polygon points="566.38,623.99 571.41,621.24 567.45,617.02 562.42,619.72" fill="#6aff00"/>
<polygon points="575.38,625.47 580.38,622.71 576.41,618.52 571.41,621.24" fill="#56ff00"/>
<polygon points="584.36,626.9 589.31,624.12 585.33,619.97 580.38,622.71" fill="#42ff00"/>
<polygon points="593.31,628.28 598.22,625.49 594.23,621.37 589.31,624.12" fill="#2fff00"/>
<polygon points="602.23,629.61 607.11,626.8 603.1,622.72 598.22,625.49" fill="#1cff00"/>
<polygon points="611.13,630.89 615.97,628.07 611.94,624.02 607.11,626.8" fill="#09ff00"/>
<polygon points="620.01,632.12 624.8,629.28 620.76,625.28 615.97,628.07" fill="#00ff09"/>
<polygon points="628.85,633.3 633.61,630.45 629.55,626.48 624.8,629.28" fill="#00ff1a"/>
<polygon points="488,612.8 493.38,610.18 489.51,605.62 484.13,608.2" fill="#ffb900"/>
<polygon points="497.26,614.74 502.6,612.1 498.72,607.58 493.38,610.18" fill="#ffd200"/>
<polygon points="506.49,616.63 511.79,613.96 507.9,609.48 502.6,612.1" fill="#ffea00"/>
<polygon points="515.69,618.46 520.96,615.77 517.06,611.32 511.79,613.96" fill="#fcff00"/>
<polygon points="524.87,620.23 530.1,617.52 526.19,613.11 520.96,615.77" fill="#e5ff00"/>
<polygon points="534.02,621.94 539.21,619.22 535.29,614.84 530.1,617.52" fill="#ceff00"/>
<polygon points="543.14,623.6 548.29,620.86 544.36,616.52 539.21,619.22" fill="#b8ff00"/>
<polygon points="552.23,625.21 557.35,622.45 553.4,618.15 548.29,620.86" fill="#a2ff00"/>
<polygon points="561.3,626.76 566.38,623.99 562.42,619.72 557.35,622.45" fill="#8dff00"/>
<polygon points="570.35,628.26 575.38,625.47 571.41,621.24 566.38,623.99" fill="#78ff00"/>
<polygon points="579.36,629.71 584.36,626.9 580.38,622.71 575.38,625.47" fill="#64ff00"/>
<polygon points="588.35,631.11 593.31,628.28 589.31,624.12 584.36,626.9" fill="#50ff00"/>
<polygon points="597.32,632.45 602.23,629.61 598.22,625.49 593.31,628.28" fill="#3dff00"/>
<polygon points="606.26,633.75 611.13,630.89 607.11,626.8 602.23,629.61" fill="#2bff00"/>
<polygon points="615.17,634.99 620.01,632.12 615.97,628.07 611.13,630.89" fill="#19ff00"/>
<polygon points="624.06,636.19 628.85,633.3 624.8,629.28 620.01,632.12" fill="#07ff00"/>
<polygon points="491.88,617.42 497.26,614.74 493.38,610.18 488,612.8" fill="#ffaf00"/>
<polygon points="501.15,619.33 506.49,616.63 502.6,612.1 497.26,614.74" fill="#ffc700"/>
<polygon points="510.39,621.17 515.69,618.46 511.79,613.96 506.49,616.63" fill="#ffdf00"/>
<polygon points="519.6,622.96 524.87,620.23 520.96,615.77 515.69,618.46" fill="#fff700"/>
<polygon points="528.79,624.7 534.02,621.94 530.1,617.52 524.87,620.23" fill="#f0ff00"/>
<polygon points="537.95,626.38 543.14,623.6 539.21,619.22 534.02,621.94" fill="#daff00"/>
<polygon points="547.08,628 552.23,625.21 548.29,620.86 543.14,623.6" fill="#c4ff00"/>
<polygon points="556.19,629.57 561.3,626.76 557.35,622.45 552.23,625.21" fill="#afff00"/>
<polygon points="565.27,631.09 570.35,628.26 566.38,623.99 561.3,626.76" fill="#9aff00"/>
<polygon points="574.33,632.55 579.36,629.71 575.38,625.47 570.35,628.26" fill="#86ff00"/>
<polygon points="583.36,633.97 588.35,631.11 584.36,626.9 579.36,629.71" fill="#72ff00"/>
<polygon points="592.36,635.33 597.32,632.45 593.31,628.28 588.35,631.11" fill="#5fff00"/>
<polygon points="601.34,636.64 606.26,633.75 602.23,629.61 597.32,632.45" fill="#4cff00"/>
<polygon points="610.29,637.9 615.17,634.99 611.13,630.89 606.26,633.75" fill="#3aff00"/>
<polygon points="619.22,639.11 624.06,636.19 620.01,632.12 615.17,634.99" fill="#28ff00"/>
<polygon points="495.77,622.05 501.15,619.33 497.26,614.74 491.88,617.42" fill="#ffa500"/>
<polygon points="505.05,623.92 510.39,621.17 506.49,616.63 501.15,619.33" fill="#ffbd00"/>
<polygon points="514.3,625.73 519.6,622.96 515.69,618.46 510.39,621.17" fill="#ffd400"/>
<polygon points="523.52,627.48 528.79,624.7 524.87,620.23 519.6,622.96" fill="#ffec00"/>
<polygon points="532.72,629.18 537.95,626.38 534.02,621.94 528.79,624.7" fill="#fcff00"/>
<polygon points="541.89,630.82 547.08,628 543.14,623.6 537.95,626.38" fill="#e6ff00"/>
<polygon points="551.04,632.41 556.19,629.57 552.23,625.21 547.08,628" fill="#d0ff00"/>
<polygon points="560.16,633.95 565.27,631.09 561.3,626.76 556.19,629.57" fill="#bbff00"/>
<polygon points="569.25,635.43 574.33,632.55 570.35,628.26 565.27,631.09" fill="#a7ff00"/>
<polygon points="578.32,636.86 583.36,633.97 579.36,629.71 574.33,632.55" fill="#93ff00"/>
<polygon points="587.36,638.23 592.36,635.33 588.35,631.11 583.36,633.97" fill="#80ff00"/>
<polygon points="596.38,639.56 601.34,636.64 597.32,632.45 592.36,635.33" fill="#6dff00"/>
<polygon points="605.37,640.83 610.29,637.9 606.26,633.75 601.34,636.64" fill="#5bff00"/>
<polygon points="614.34,642.06 619.22,639.11 615.17,634.99 610.29,637.9" fill="#49ff00"/>
<polygon points="499.67,626.69 505.05,623.92 501.15,619.33 495.77,622.05" fill="#ff9a00"/>
<polygon points="508.96,628.52 514.3,625.73 510.39,621.17 505.05,623.92" fill="#ffb200"/>
<polygon points="518.22,630.3 523.52,627.48 519.6,622.96 514.3,625.73" fill="#ffca00"/>
<polygon points="527.46,632.01 532.72,629.18 528.79,624.7 523.52,627.48" fill="#ffe000"/>
<polygon points="536.66,633.67 541.89,630.82 537.95,626.38 532.72,629.18" fill="#fff600"/>
<polygon points="545.85,635.28 551.04,632.41 547.08,628 541.89,630.82" fill="#f2ff00"/>
<polygon points="555.01,636.83 560.16,633.95 556.19,629.57 551.04,632.41" fill="#ddff00"/>
<polygon points="564.14,638.33 569.25,635.43 565.27,631.09 560.16,633.95" fill="#c8ff00"/>
<polygon points="573.24,639.78 578.32,636.86 574.33,632.55 569.25,635.43" fill="#b4ff00"/>
<polygon points="582.32,641.17 587.36,638.23 583.36,633.97 578.32,636.86" fill="#a1ff00"/>
<polygon points="591.38,642.51 596.38,639.56 592.36,635.33 587.36,638.23" fill="#8eff00"/>
<polygon points="600.41,643.8 605.37,640.83 601.34,636.64 596.38,639.56" fill="#7bff00"/>
<polygon points="609.42,645.04 614.34,642.06 610.29,637.9 605.37,640.83" fill="#69ff00"/>
<polygon points="503.58,631.34 508.96,628.52 505.05,623.92 499.67,626.69" fill="#ff9000"/>
<polygon points="512.88,633.14 518.22,630.3 514.3,625.73 508.96,628.52" fill="#ffa800"/>
<polygon points="522.15,634.87 527.46,632.01 523.52,627.48 518.22,630.3" fill="#ffbf00"/>
<polygon points="531.4,636.55 536.66,633.67 532.72,629.18 527.46,632.01" fill="#ffd500"/>
<polygon points="540.62,638.18 545.85,635.28 541.89,630.82 536.66,633.67" fill="#ffeb00"/>
<polygon points="549.81,639.75 555.01,636.83 551.04,632.41 545.85,635.28" fill="#feff00"/>
<polygon points="558.98,641.27 564.14,638.33 560.16,633.95 555.01,636.83" fill="#e9ff00"/>
<polygon points="568.13,642.73 573.24,639.78 569.25,635.43 564.14,638.33" fill="#d5ff00"/>
<polygon points="577.25,644.14 582.32,641.17 578.32,636.86 573.24,639.78" fill="#c1ff00"/>
<polygon points="586.34,645.5 591.38,642.51 587.36,638.23 582.32,641.17" fill="#aeff00"/>
<polygon points="595.41,646.8 600.41,643.8 596.38,639.56 591.38,642.51" fill="#9cff00"/>
<polygon points="604.45,648.06 609.42,645.04 605.37,640.83 600.41,643.8" fill="#8aff00"/>
<polygon points="507.5,636.01 512.88,633.14 508.96,628.52 503.58,631.34" fill="#ff8600"/>
<polygon points="516.81,637.76 522.15,634.87 518.22,630.3 512.88,633.14" fill="#ff9d00"/>
<polygon points="526.09,639.46 531.4,636.55 527.46,632.01 522.15,634.87" fill="#ffb400"/>
<polygon points="535.35,641.11 540.62,638.18 536.66,633.67 531.4,636.55" fill="#ffca00"/>
<polygon points="544.58,642.7 549.81,639.75 545.85,635.28 540.62,638.18" fill="#ffdf00"/>
<polygon points="553.79,644.23 558.98,641.27 555.01,636.83 549.81,639.75" fill="#fff400"/>
<polygon points="562.97,645.71 568.13,642.73 564.14,638.33 558.98,641.27" fill="#f5ff00"/>
<polygon points="572.13,647.14 577.25,644.14 573.24,639.78 568.13,642.73" fill="#e2ff00"/>
<polygon points="581.26,648.51 586.34,645.5 582.32,641.17 577.25,644.14" fill="#ceff00"/>
<polygon points="590.37,649.83 595.41,646.8 591.38,642.51 586.34,645.5" fill="#bcff00"/>
<polygon points="599.45,651.11 604.45,648.06 600.41,643.8 595.41,646.8" fill="#a9ff00"/>
<polygon points="511.43,640.68 516.81,637.76 512.88,633.14 507.5,636.01" fill="#ff7c00"/>
<polygon points="520.75,642.4 526.09,639.46 522.15,634.87 516.81,637.76" fill="#ff9300"/>
<polygon points="530.05,644.07 535.35,641.11 531.4,636.55 526.09,639.46" fill="#ffa900"/>
<polygon points="539.32,645.67 544.58,642.7 540.62,638.18 535.35,641.11" fill="#ffbf00"/>
<polygon points="548.56,647.23 553.79,644.23 549.81,639.75 544.58,642.7" fill="#ffd400"/>
<polygon points="557.78,648.72 562.97,645.71 558.98,641.27 553.79,644.23" fill="#ffe800"/>
<polygon points="566.97,650.17 572.13,647.14 568.13,642.73 562.97,645.71" fill="#fffc00"/>
<polygon points="576.14,651.56 581.26,648.51 577.25,644.14 572.13,647.14" fill="#eeff00"/>
<polygon points="585.29,652.9 590.37,649.83 586.34,645.5 581.26,648.51" fill="#dbff00"/>
<polygon points="594.41,654.18 599.45,651.11 595.41,646.8 590.37,649.83" fill="#c9ff00"/>
<polygon points="515.38,645.37 520.75,642.4 516.81,637.76 511.43,640.68" fill="#ff7200"/>
<polygon points="524.71,647.05 530.05,644.07 526.09,639.46 520.75,642.4" fill="#ff8900"/>
<polygon points="534.01,648.68 539.32,645.67 535.35,641.11 530.05,644.07" fill="#ff9e00"/>
<polygon points="543.29,650.25 548.56,647.23 544.58,642.7 539.32,645.67" fill="#ffb400"/>
<polygon points="552.55,651.77 557.78,648.72 553.79,644.23 548.56,647.23" fill="#ffc800"/>
<polygon points="561.78,653.23 566.97,650.17 562.97,645.71 557.78,648.72" fill="#ffdc00"/>
<polygon points="570.98,654.64 576.14,651.56 572.13,647.14 566.97,650.17" fill="#fff000"/>
<polygon points="580.17,655.99 585.29,652.9 581.26,648.51 576.14,651.56" fill="#fbff00"/>
<polygon points="589.32,657.3 594.41,654.18 590.37,649.83 585.29,652.9" fill="#e9ff00"/>
<polygon points="519.33,650.07 524.71,647.05 520.75,642.4 515.38,645.37" fill="#ff6800"/>
<polygon points="528.67,651.72 534.01,648.68 530.05,644.07 524.71,647.05" fill="#ff7e00"/>
<polygon points="537.98,653.31 543.29,650.25 539.32,645.67 534.01,648.68" fill="#ff9400"/>
<polygon points="547.28,654.84 552.55,651.77 548.56,647.23 543.29,650.25" fill="#ffa800"/>
<polygon points="556.54,656.32 561.78,653.23 557.78,648.72 552.55,651.77" fill="#ffbd00"/>
<polygon points="565.79,657.75 570.98,654.64 566.97,650.17 561.78,653.23" fill="#ffd000"/>
<polygon points="575.01,659.12 580.17,655.99 576.14,651.56 570.98,654.64" fill="#ffe400"/>
<polygon points="584.2,660.44 589.32,657.3 585.29,652.9 580.17,655.99" fill="#fff600"/>
<polygon points="523.29,654.78 528.67,651.72 524.71,647.05 519.33,650.07" fill="#ff5e00"/>
<polygon points="532.64,656.39 537.98,653.31 534.01,648.68 528.67,651.72" fill="#ff7400"/>
<polygon points="541.97,657.94 547.28,654.84 543.29,650.25 537.98,653.31" fill="#ff8900"/>
<polygon points="551.27,659.44 556.54,656.32 552.55,651.77 547.28,654.84" fill="#ff9d00"/>
<polygon points="560.55,660.88 565.79,657.75 561.78,653.23 556.54,656.32" fill="#ffb100"/>
<polygon points="569.81,662.27 575.01,659.12 570.98,654.64 565.79,657.75" fill="#ffc500"/>
<polygon points="579.04,663.61 584.2,660.44 580.17,655.99 575.01,659.12" fill="#ffd700"/>
<polygon points="527.26,659.5 532.64,656.39 528.67,651.72 523.29,654.78" fill="#ff5400"/>
<polygon points="536.62,661.08 541.97,657.94 537.98,653.31 532.64,656.39" fill="#ff6a00"/>
<polygon points="545.96,662.59 551.27,659.44 547.28,654.84 541.97,657.94" fill="#ff7e00"/>
<polygon points="555.28,664.05 560.55,660.88 556.54,656.32 551.27,659.44" fill="#ff9200"/>
<polygon points="564.57,665.46 569.81,662.27 565.79,657.75 560.55,660.88" fill="#ffa600"/>
<polygon points="573.84,666.81 579.04,663.61 575.01,659.12 569.81,662.27" fill="#ffb900"/>
<polygon points="531.24,664.24 536.62,661.08 532.64,656.39 527.26,659.5" fill="#ff4b00"/>
<polygon points="540.62,665.77 545.96,662.59 541.97,657.94 536.62,661.08" fill="#ff5f00"/>
<polygon points="549.97,667.25 555.28,664.05 551.27,659.44 545.96,662.59" fill="#ff7300"/>
<polygon points="559.3,668.68 564.57,665.46 560.55,660.88 555.28,664.05" fill="#ff8700"/>
<polygon points="568.6,670.05 573.84,666.81 569.81,662.27 564.57,665.46" fill="#ff9a00"/>
<polygon points="535.24,668.98 540.62,665.77 536.62,661.08 531.24,664.24" fill="#ff4100"/>
<polygon points="544.62,670.48 549.97,667.25 545.96,662.59 540.62,665.77" fill="#ff5500"/>
<polygon points="553.98,671.92 559.3,668.68 555.28,664.05 549.97,667.25" fill="#ff6900"/>
<polygon points="563.32,673.31 568.6,670.05 564.57,665.46 559.3,668.68" fill="#ff7c00"/>
<polygon points="539.24,673.74 544.62,670.48 540.62,665.77 535.24,668.98" fill="#ff3700"/>
<polygon points="548.64,675.2 553.98,671.92 549.97,667.25 544.62,670.48" fill="#ff4b00"/>
<polygon points="558.01,676.61 563.32,673.31 559.3,668.68 553.98,671.92" fill="#ff5e00"/>
<polygon points="543.25,678.5 548.64,675.2 544.62,670.48 539.24,673.74" fill="#ff2d00"/>
<polygon points="552.66,679.93 558.01,676.61 553.98,671.92 548.64,675.2" fill="#ff4000"/>
<polygon points="547.27,683.28 552.66,679.93 548.64,675.2 543.25,678.5" fill="#ff2300"/>
</g>
<circle cx="521.8" cy="566" r="1.75" fill="#c00000" stroke="#5a0000" stroke-width="0.6"/>
<circle cx="606.6" cy="582.9" r="1.75" fill="#c00000" stroke="#5a0000" stroke-width="0.6"/>
<circle cx="647.7" cy="621.5" r="1.75" fill="#c00000" stroke="#5a0000" stroke-width="0.6"/>
<circle cx="506.5" cy="635.5" r="1.75" fill="#c00000" stroke="#5a0000" stroke-width="0.6"/>
<circle cx="547.6" cy="684" r="1.75" fill="#c00000" stroke="#5a0000" stroke-width="0.6"/>
<circle cx="469" cy="591" r="1.8" fill="#ffd0d0" fill-opacity="0.7" stroke="#a06060" stroke-opacity="0.6" stroke-width="0.5"/>
<text x="545.83" y="717.59" font-size="6.3" fill="#333" text-anchor="end" textLength="6.3" lengthAdjust="spacingAndGlyphs">80</text>
<text x="552.73" y="717.39" font-size="6.3" fill="#333" textLength="6.3" lengthAdjust="spacingAndGlyphs">80</text>
<text x="528.55" y="695.78" font-size="6.3" fill="#333" text-anchor="end" textLength="6.3" lengthAdjust="spacingAndGlyphs">85</text>
<text x="575.49" y="700.14" font-size="6.3" fill="#333" textLength="6.3" lengthAdjust="spacingAndGlyphs">85</text>
<text x="511.28" y="673.96" font-size="6.3" fill="#333" text-anchor="end" textLength="6.3" lengthAdjust="spacingAndGlyphs">90</text>
<text x="598.24" y="682.88" font-size="6.3" fill="#333" textLength="6.3" lengthAdjust="spacingAndGlyphs">90</text>
<text x="494" y="652.14" font-size="6.3" fill="#333" text-anchor="end" textLength="6.3" lengthAdjust="spacingAndGlyphs">95</text>
<text x="620.99" y="665.63" font-size="6.3" fill="#333" textLength="6.3" lengthAdjust="spacingAndGlyphs">95</text>
<text x="476.72" y="630.33" font-size="6.3" fill="#333" text-anchor="end" textLength="9.45" lengthAdjust="spacingAndGlyphs">100</text>
<text x="643.75" y="648.38" font-size="6.3" fill="#333" textLength="9.45" lengthAdjust="spacingAndGlyphs">100</text>
<text x="475.1" y="613" font-size="6.3" fill="#333" text-anchor="end" textLength="3.15" lengthAdjust="spacingAndGlyphs">7</text>
<text x="472.69" y="605.91" font-size="6.3" fill="#333" text-anchor="end" textLength="3.15" lengthAdjust="spacingAndGlyphs">8</text>
<text x="470.28" y="598.82" font-size="6.3" fill="#333" text-anchor="end" textLength="3.15" lengthAdjust="spacingAndGlyphs">9</text>
<text x="467.87" y="591.73" font-size="6.3" fill="#333" text-anchor="end" textLength="6.3" lengthAdjust="spacingAndGlyphs">10</text>
<text x="465.46" y="584.64" font-size="6.3" fill="#333" text-anchor="end" textLength="6.3" lengthAdjust="spacingAndGlyphs">11</text>
<text x="463.05" y="577.55" font-size="6.3" fill="#333" text-anchor="end" textLength="6.3" lengthAdjust="spacingAndGlyphs">12</text>
<text x="445" y="603.2" font-size="5.8" fill="#222" text-anchor="middle" textLength="31.5" lengthAdjust="spacingAndGlyphs" transform="rotate(-90 445 603.2)">Lag time (hr)</text>
<text x="436.7" y="694.1" font-size="5.8" fill="#222" style="white-space:pre" textLength="95.7" lengthAdjust="spacingAndGlyphs">B: Weight  of Guargum:Aloevera (mg)</text>
<text x="585.6" y="709.8" font-size="5.8" fill="#222" textLength="64.8" lengthAdjust="spacingAndGlyphs">A: Weight of HPMC (mg)</text>
<rect x="0" y="0" width="328.6" height="1.2" fill="#333"/>
<rect x="328" y="1.6" width="357" height="1.6" fill="#0a0a0a"/>
<rect x="0.35" y="0" width="1.35" height="737" fill="#1c1c1c"/>
<rect x="683.7" y="1.6" width="1.3" height="735" fill="#0a0a0a"/>
<rect x="327.25" y="0" width="1.55" height="736" fill="#0a0a0a"/>
<rect x="0" y="247.3" width="328" height="1.5" fill="#0a0a0a"/>
<rect x="327" y="245.6" width="358" height="1.5" fill="#0a0a0a"/>
<rect x="0" y="488.4" width="328" height="1.5" fill="#0a0a0a"/>
<rect x="327" y="489.3" width="358" height="1.5" fill="#0a0a0a"/>
<rect x="0" y="734.6" width="685" height="1.5" fill="#0a0a0a"/>
<rect x="0" y="736" width="685" height="1" fill="#777"/>
</svg>
</body></html>
